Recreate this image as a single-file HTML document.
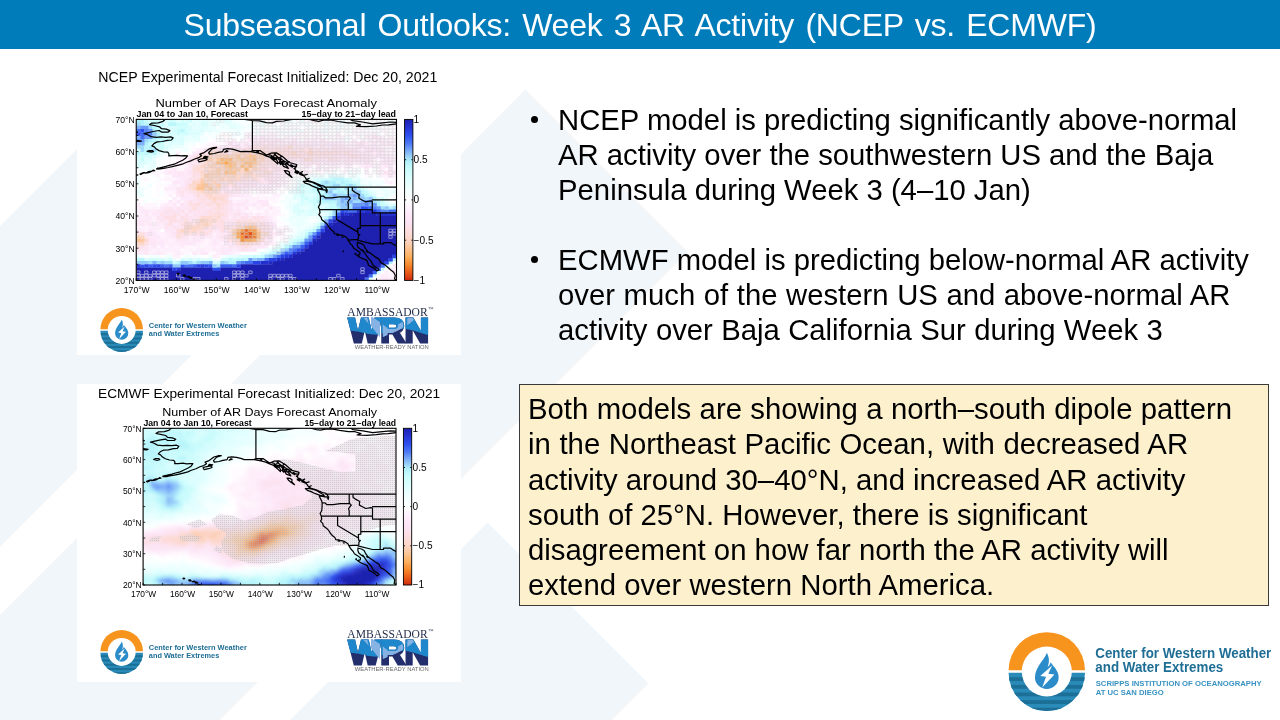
<!DOCTYPE html>
<html lang="en"><head><meta charset="utf-8"><title>Subseasonal Outlooks: Week 3 AR Activity</title>
<style>
html,body{margin:0;padding:0;}
body{width:1280px;height:720px;position:relative;overflow:hidden;background:#fff;font-family:"Liberation Sans",sans-serif;color:#000;}
.abs{position:absolute;}
#bg{position:absolute;left:0;top:0;width:1280px;height:720px;}
#hdr{position:absolute;left:0;top:0;width:1280px;height:48.8px;background:#017cbb;}
#title{position:absolute;left:0;top:0.8px;width:1280px;height:49px;line-height:49px;text-align:center;color:#fff;font-size:32px;white-space:nowrap;letter-spacing:-0.2px;word-spacing:2.55px;}
.panel{position:absolute;left:77px;width:384px;background:#fff;}
.ptitle{position:absolute;white-space:nowrap;font-size:14px;}
.bul,#boxtx,#title,.panel,#biglogo{will-change:transform;}
.bul{position:absolute;left:528px;font-size:29.25px;line-height:35.2px;white-space:nowrap;}
.bul .dot{position:absolute;left:2.6px;top:13.2px;width:7.2px;height:7.2px;border-radius:50%;background:#000;}
.bul .tx{position:absolute;left:30.1px;top:0;}
#box{position:absolute;left:519px;top:384px;width:748px;height:220px;background:#fdf0cd;border:1px solid #3a3a3a;box-sizing:content-box;}
#boxtx{position:absolute;left:7.7px;top:5.8px;font-size:29.34px;line-height:35.25px;white-space:nowrap;}
.cwtxt{position:absolute;white-space:nowrap;font-weight:bold;color:#1f6e95;}

</style></head>
<body>
<svg id="bg" viewBox="0 0 1280 720">
<g fill="#f1f6fa">
<!-- shape C: 226 < x+y < 547 , y-x > 72 -->
<polygon points="77,149 0,226 0,547 237.5,309.5"/>
<!-- shape A: 617 < x+y < 940, y-x > -435 -->
<polygon points="525.5,89.5 0,615 0,940 220,720 688,252"/>
<!-- shape B: x+y > 1010, y-x > 35 -->
<polygon points="487.5,522.5 290,720 612,720 648.5,683.5"/>
</g>
</svg>
<div id="hdr"></div>
<div id="title">Subseasonal Outlooks: Week 3 AR Activity (NCEP vs. ECMWF)</div>

<div class="panel" id="p1" style="top:57px;height:298px;">
<svg width="384" height="298" viewBox="77 57 384 298" style="position:absolute;left:0;top:0" font-family="Liberation Sans, sans-serif">
<defs><clipPath id="c1"><rect x="136.25" y="119.4" width="260.25" height="160.99999999999997"/></clipPath>
<linearGradient id="cb" x1="0" y1="0" x2="0" y2="1"><stop offset="0.000" stop-color="#1e20b0"/><stop offset="0.050" stop-color="#2634d4"/><stop offset="0.100" stop-color="#2e50ee"/><stop offset="0.150" stop-color="#4c78f3"/><stop offset="0.190" stop-color="#74a6f7"/><stop offset="0.225" stop-color="#96ccf9"/><stop offset="0.260" stop-color="#b0f0fb"/><stop offset="0.300" stop-color="#c6fbfc"/><stop offset="0.375" stop-color="#e0fefe"/><stop offset="0.450" stop-color="#f4ffff"/><stop offset="0.500" stop-color="#ffffff"/><stop offset="0.550" stop-color="#fef3fc"/><stop offset="0.600" stop-color="#fde8f9"/><stop offset="0.650" stop-color="#fce2f0"/><stop offset="0.700" stop-color="#fcdcdc"/><stop offset="0.750" stop-color="#fcd4c4"/><stop offset="0.800" stop-color="#fcc494"/><stop offset="0.850" stop-color="#fcb060"/><stop offset="0.900" stop-color="#f68c30"/><stop offset="0.950" stop-color="#e85c18"/><stop offset="1.000" stop-color="#d02c0e"/></linearGradient></defs>
<g clip-path="url(#c1)">
<path fill="#b0f0fb" d="M136.2 119.4H144.6V122.9H136.2zM140.3 122.6H144.6V126.1H140.3zM148.3 122.6H152.6V126.1H148.3zM152.3 129.1H156.6V132.6H152.3zM156.3 132.3H160.6V135.8H156.3zM156.3 135.5H160.6V139H156.3zM148.3 138.7H152.6V142.2H148.3zM144.3 141.9H148.6V145.5H144.3zM148.3 145.2H152.6V148.7H148.3zM148.3 148.4H152.6V151.9H148.3zM320.4 180.6H324.7V184.1H320.4zM328.4 180.6H336.7V184.1H328.4zM340.4 180.6H344.8V184.1H340.4zM324.4 183.8H332.7V187.3H324.4zM344.5 183.8H348.8V187.3H344.5zM352.5 183.8H356.8V187.3H352.5zM336.4 187H340.7V190.5H336.4zM348.5 187H352.8V190.5H348.5zM336.4 190.2H344.8V193.8H336.4zM320.4 193.5H328.7V197H320.4zM316.4 199.9H320.7V203.4H316.4zM376.5 199.9H380.8V203.4H376.5zM376.5 203.1H380.8V206.6H376.5zM336.4 206.3H340.7V209.9H336.4zM388.5 206.3H392.8V209.9H388.5zM316.4 225.7H320.7V229.2H316.4zM304.4 235.3H308.7V238.8H304.4zM292.4 241.8H296.7V245.3H292.4zM240.4 257.9H244.7V261.4H240.4zM392.5 257.9H396.8V261.4H392.5zM192.3 261.1H196.6V264.6H192.3zM228.3 261.1H236.6V264.6H228.3zM388.5 261.1H392.8V264.6H388.5z"/>
<path fill="#c6fbfc" d="M144.3 119.4H148.6V122.9H144.3zM160.3 122.6H164.6V126.1H160.3zM156.3 129.1H160.6V132.6H156.3zM176.3 129.1H180.6V132.6H176.3zM176.3 132.3H180.6V135.8H176.3zM156.3 138.7H160.6V142.2H156.3zM148.3 141.9H152.6V145.5H148.3zM156.3 141.9H160.6V145.5H156.3zM140.3 151.6H144.6V155.1H140.3zM148.3 151.6H152.6V155.1H148.3zM140.3 158H144.6V161.6H140.3zM328.4 177.4H332.7V180.9H328.4zM316.4 180.6H320.7V184.1H316.4zM336.4 180.6H340.7V184.1H336.4zM348.5 180.6H352.8V184.1H348.5zM340.4 187H344.8V190.5H340.4zM320.4 190.2H324.7V193.8H320.4zM364.5 190.2H368.8V193.8H364.5zM316.4 196.7H320.7V200.2H316.4zM328.4 203.1H336.7V206.6H328.4zM380.5 203.1H384.8V206.6H380.5zM328.4 206.3H336.7V209.9H328.4zM328.4 212.8H332.7V216.3H328.4zM304.4 232.1H308.7V235.6H304.4zM296.4 238.5H300.7V242.1H296.4zM268.4 251.4H272.7V254.9H268.4zM252.4 254.6H256.7V258.2H252.4zM260.4 254.6H264.7V258.2H260.4zM232.3 257.9H236.6V261.4H232.3z"/>
<path fill="#d4fdfd" d="M148.3 119.4H156.6V122.9H148.3zM172.3 119.4H176.6V122.9H172.3zM180.3 119.4H184.6V122.9H180.3zM156.3 122.6H160.6V126.1H156.3zM200.3 122.6H204.6V126.1H200.3zM160.3 125.8H164.6V129.4H160.3zM176.3 125.8H188.6V129.4H176.3zM164.3 129.1H168.6V132.6H164.3zM184.3 129.1H188.6V132.6H184.3zM164.3 132.3H176.6V135.8H164.3zM180.3 132.3H184.6V135.8H180.3zM160.3 135.5H168.6V139H160.3zM168.3 138.7H176.6V142.2H168.3zM136.2 148.4H140.6V151.9H136.2zM160.3 148.4H164.6V151.9H160.3zM136.2 154.8H140.6V158.3H136.2zM144.3 154.8H152.6V158.3H144.3zM136.2 161.3H140.6V164.8H136.2zM316.4 177.4H320.7V180.9H316.4zM324.4 177.4H328.7V180.9H324.4zM356.5 180.6H360.8V184.1H356.5zM304.4 183.8H308.7V187.3H304.4zM296.4 187H304.7V190.5H296.4zM308.4 187H312.7V190.5H308.4zM308.4 190.2H312.7V193.8H308.4zM300.4 196.7H304.7V200.2H300.4zM300.4 199.9H304.7V203.4H300.4zM316.4 203.1H324.7V206.6H316.4zM392.5 203.1H396.8V206.6H392.5zM312.4 206.3H320.7V209.9H312.4zM300.4 209.6H304.7V213.1H300.4zM308.4 209.6H312.7V213.1H308.4zM320.4 216H324.7V219.5H320.4zM320.4 219.2H324.7V222.7H320.4zM316.4 222.4H320.7V226H316.4zM312.4 225.7H316.7V229.2H312.4zM304.4 228.9H308.7V232.4H304.4zM296.4 235.3H304.7V238.8H296.4zM272.4 248.2H276.7V251.7H272.4zM244.4 254.6H252.7V258.2H244.4zM156.3 257.9H160.6V261.4H156.3zM208.3 257.9H212.6V261.4H208.3zM212.3 261.1H216.6V264.6H212.3zM376.5 270.7H380.8V274.3H376.5zM372.5 274H376.8V277.5H372.5z"/>
<path fill="#cdfcfd" d="M156.3 119.4H160.6V122.9H156.3zM168.3 119.4H172.6V122.9H168.3zM188.3 119.4H192.6V122.9H188.3zM176.3 122.6H188.6V126.1H176.3zM156.3 125.8H160.6V129.4H156.3zM160.3 129.1H164.6V132.6H160.3zM172.3 129.1H176.6V132.6H172.3zM160.3 132.3H164.6V135.8H160.3zM184.3 132.3H188.6V135.8H184.3zM168.3 135.5H172.6V139H168.3zM164.3 138.7H168.6V142.2H164.3zM152.3 141.9H156.6V145.5H152.3zM160.3 141.9H164.6V145.5H160.3zM152.3 145.2H164.6V148.7H152.3zM156.3 148.4H160.6V151.9H156.3zM140.3 154.8H144.6V158.3H140.3zM320.4 177.4H324.7V180.9H320.4zM344.5 177.4H352.8V180.9H344.5zM312.4 180.6H316.7V184.1H312.4zM352.5 180.6H356.8V184.1H352.5zM300.4 183.8H304.7V187.3H300.4zM308.4 183.8H312.7V187.3H308.4zM356.5 183.8H360.8V187.3H356.5zM360.5 187H364.8V190.5H360.5zM300.4 190.2H304.7V193.8H300.4zM312.4 190.2H316.7V193.8H312.4zM300.4 193.5H304.7V197H300.4zM316.4 193.5H320.7V197H316.4zM368.5 193.5H372.8V197H368.5zM304.4 196.7H308.7V200.2H304.4zM312.4 196.7H316.7V200.2H312.4zM308.4 199.9H316.7V203.4H308.4zM380.5 199.9H384.8V203.4H380.5zM312.4 203.1H316.7V206.6H312.4zM384.5 203.1H388.8V206.6H384.5zM324.4 206.3H328.7V209.9H324.4zM328.4 209.6H332.7V213.1H328.4zM308.4 228.9H312.7V232.4H308.4zM292.4 238.5H296.7V242.1H292.4zM288.4 241.8H292.7V245.3H288.4zM276.4 248.2H280.7V251.7H276.4zM256.4 254.6H260.7V258.2H256.4zM148.3 257.9H156.6V261.4H148.3zM160.3 257.9H164.6V261.4H160.3zM168.3 257.9H172.6V261.4H168.3zM180.3 257.9H184.6V261.4H180.3zM188.3 257.9H192.6V261.4H188.3zM196.3 257.9H200.6V261.4H196.3zM220.3 257.9H228.6V261.4H220.3zM172.3 261.1H176.6V264.6H172.3zM216.3 261.1H220.6V264.6H216.3zM384.5 264.3H388.8V267.8H384.5zM380.5 267.5H384.8V271H380.5z"/>
<path fill="#e1fefe" d="M160.3 119.4H164.6V122.9H160.3zM176.3 119.4H180.6V122.9H176.3zM200.3 119.4H208.6V122.9H200.3zM228.3 119.4H232.6V122.9H228.3zM216.3 122.6H220.6V126.1H216.3zM196.3 125.8H208.6V129.4H196.3zM232.3 125.8H236.6V129.4H232.3zM168.3 129.1H172.6V132.6H168.3zM192.3 129.1H200.6V132.6H192.3zM208.3 129.1H212.6V132.6H208.3zM176.3 135.5H180.6V139H176.3zM192.3 135.5H196.6V139H192.3zM172.3 141.9H180.6V145.5H172.3zM168.3 145.2H172.6V148.7H168.3zM164.3 148.4H168.6V151.9H164.3zM152.3 154.8H156.6V158.3H152.3zM144.3 158H148.6V161.6H144.3zM152.3 161.3H156.6V164.8H152.3zM140.3 164.5H144.6V168H140.3zM332.4 174.1H336.7V177.7H332.4zM308.4 180.6H312.7V184.1H308.4zM360.5 183.8H364.8V187.3H360.5zM368.5 183.8H372.8V187.3H368.5zM364.5 187H368.8V190.5H364.5zM136.2 190.2H140.6V193.8H136.2zM292.4 193.5H296.7V197H292.4zM308.4 193.5H312.7V197H308.4zM292.4 196.7H296.7V200.2H292.4zM376.5 196.7H380.8V200.2H376.5zM384.5 199.9H388.8V203.4H384.5zM292.4 203.1H296.7V206.6H292.4zM304.4 203.1H312.7V206.6H304.4zM388.5 203.1H392.8V206.6H388.5zM308.4 206.3H312.7V209.9H308.4zM320.4 206.3H324.7V209.9H320.4zM304.4 209.6H308.7V213.1H304.4zM316.4 209.6H320.7V213.1H316.4zM304.4 212.8H308.7V216.3H304.4zM312.4 212.8H320.7V216.3H312.4zM324.4 212.8H328.7V216.3H324.4zM284.4 241.8H288.7V245.3H284.4zM276.4 245H284.7V248.5H276.4zM264.4 251.4H268.7V254.9H264.4zM236.3 254.6H240.7V258.2H236.3zM164.3 257.9H168.6V261.4H164.3z"/>
<path fill="#dbfdfe" d="M164.3 119.4H168.6V122.9H164.3zM184.3 119.4H188.6V122.9H184.3zM224.3 119.4H228.6V122.9H224.3zM164.3 122.6H168.6V126.1H164.3zM192.3 122.6H196.6V126.1H192.3zM204.3 122.6H208.6V126.1H204.3zM164.3 125.8H176.6V129.4H164.3zM188.3 125.8H192.6V129.4H188.3zM188.3 129.1H192.6V132.6H188.3zM200.3 129.1H204.6V132.6H200.3zM188.3 132.3H200.6V135.8H188.3zM172.3 135.5H176.6V139H172.3zM180.3 135.5H184.6V139H180.3zM176.3 138.7H184.6V142.2H176.3zM168.3 141.9H172.6V145.5H168.3zM180.3 141.9H184.6V145.5H180.3zM164.3 145.2H168.6V148.7H164.3zM156.3 151.6H160.6V155.1H156.3zM136.2 158H140.6V161.6H136.2zM148.3 158H152.6V161.6H148.3zM140.3 161.3H148.6V164.8H140.3zM136.2 164.5H140.6V168H136.2zM328.4 174.1H332.7V177.7H328.4zM312.4 177.4H316.7V180.9H312.4zM356.5 177.4H360.8V180.9H356.5zM304.4 187H308.7V190.5H304.4zM296.4 190.2H300.7V193.8H296.4zM304.4 190.2H308.7V193.8H304.4zM368.5 190.2H372.8V193.8H368.5zM296.4 193.5H300.7V197H296.4zM304.4 193.5H308.7V197H304.4zM312.4 193.5H316.7V197H312.4zM372.5 193.5H376.8V197H372.5zM308.4 196.7H312.7V200.2H308.4zM380.5 196.7H384.8V200.2H380.5zM304.4 199.9H308.7V203.4H304.4zM296.4 203.1H304.7V206.6H296.4zM324.4 203.1H328.7V206.6H324.4zM292.4 206.3H300.7V209.9H292.4zM292.4 209.6H300.7V213.1H292.4zM312.4 209.6H316.7V213.1H312.4zM320.4 209.6H328.7V213.1H320.4zM296.4 212.8H300.7V216.3H296.4zM308.4 212.8H312.7V216.3H308.4zM300.4 232.1H304.7V235.6H300.4zM288.4 238.5H292.7V242.1H288.4zM260.4 251.4H264.7V254.9H260.4zM240.4 254.6H244.7V258.2H240.4zM144.3 257.9H148.6V261.4H144.3zM184.3 257.9H188.6V261.4H184.3zM192.3 257.9H196.6V261.4H192.3zM200.3 257.9H208.6V261.4H200.3zM368.5 277.2H372.8V280.7H368.5z"/>
<path fill="#e7fefe" d="M192.3 119.4H200.6V122.9H192.3zM208.3 119.4H212.6V122.9H208.3zM188.3 122.6H192.6V126.1H188.3zM196.3 122.6H200.6V126.1H196.3zM208.3 122.6H212.6V126.1H208.3zM224.3 122.6H236.6V126.1H224.3zM192.3 125.8H196.6V129.4H192.3zM212.3 125.8H216.6V129.4H212.3zM228.3 125.8H232.6V129.4H228.3zM204.3 129.1H208.6V132.6H204.3zM200.3 132.3H204.6V135.8H200.3zM184.3 135.5H192.6V139H184.3zM196.3 135.5H200.6V139H196.3zM184.3 138.7H188.6V142.2H184.3zM196.3 138.7H200.6V142.2H196.3zM164.3 141.9H168.6V145.5H164.3zM172.3 145.2H180.6V148.7H172.3zM160.3 151.6H164.6V155.1H160.3zM152.3 158H156.6V161.6H152.3zM148.3 161.3H152.6V164.8H148.3zM148.3 164.5H156.6V168H148.3zM148.3 167.7H152.6V171.2H148.3zM336.4 174.1H340.7V177.7H336.4zM308.4 177.4H312.7V180.9H308.4zM352.5 177.4H356.8V180.9H352.5zM136.2 180.6H140.6V184.1H136.2zM296.4 180.6H300.7V184.1H296.4zM304.4 180.6H308.7V184.1H304.4zM296.4 183.8H300.7V187.3H296.4zM288.4 190.2H296.7V193.8H288.4zM372.5 190.2H376.8V193.8H372.5zM392.5 190.2H396.8V193.8H392.5zM384.5 193.5H388.8V197H384.5zM296.4 196.7H300.7V200.2H296.4zM296.4 199.9H300.7V203.4H296.4zM300.4 206.3H308.7V209.9H300.4zM300.4 212.8H304.7V216.3H300.4zM296.4 219.2H300.7V222.7H296.4zM312.4 222.4H316.7V226H312.4zM308.4 225.7H312.7V229.2H308.4zM300.4 228.9H304.7V232.4H300.4zM296.4 232.1H300.7V235.6H296.4zM292.4 235.3H296.7V238.8H292.4zM280.4 241.8H284.7V245.3H280.4zM268.4 248.2H272.7V251.7H268.4zM228.3 254.6H236.6V258.2H228.3z"/>
<path fill="#ecffff" d="M212.3 119.4H224.6V122.9H212.3zM300.4 119.4H304.7V122.9H300.4zM220.3 122.6H224.6V126.1H220.3zM236.3 122.6H240.7V126.1H236.3zM260.4 122.6H264.7V126.1H260.4zM208.3 125.8H212.6V129.4H208.3zM220.3 125.8H224.6V129.4H220.3zM236.3 125.8H244.7V129.4H236.3zM212.3 129.1H220.6V132.6H212.3zM236.3 129.1H240.7V132.6H236.3zM236.3 132.3H240.7V135.8H236.3zM188.3 138.7H196.6V142.2H188.3zM180.3 145.2H184.6V148.7H180.3zM168.3 148.4H172.6V151.9H168.3zM184.3 148.4H188.6V151.9H184.3zM164.3 151.6H168.6V155.1H164.3zM156.3 154.8H160.6V158.3H156.3zM312.4 174.1H316.7V177.7H312.4zM320.4 174.1H324.7V177.7H320.4zM340.4 174.1H344.8V177.7H340.4zM304.4 177.4H308.7V180.9H304.4zM300.4 180.6H304.7V184.1H300.4zM368.5 180.6H372.8V184.1H368.5zM364.5 183.8H368.8V187.3H364.5zM376.5 183.8H380.8V187.3H376.5zM292.4 187H296.7V190.5H292.4zM368.5 187H372.8V190.5H368.5zM380.5 187H388.8V190.5H380.5zM384.5 190.2H392.8V193.8H384.5zM136.2 193.5H144.6V197H136.2zM384.5 196.7H388.8V200.2H384.5zM288.4 199.9H292.7V203.4H288.4zM288.4 203.1H292.7V206.6H288.4zM288.4 206.3H292.7V209.9H288.4zM288.4 209.6H292.7V213.1H288.4zM292.4 212.8H296.7V216.3H292.4zM320.4 212.8H324.7V216.3H320.4zM288.4 216H308.7V219.5H288.4zM316.4 216H320.7V219.5H316.4zM288.4 219.2H292.7V222.7H288.4zM300.4 219.2H304.7V222.7H300.4zM316.4 219.2H320.7V222.7H316.4zM292.4 222.4H304.7V226H292.4zM296.4 225.7H300.7V229.2H296.4zM304.4 225.7H308.7V229.2H304.4zM296.4 228.9H300.7V232.4H296.4zM136.2 254.6H140.6V258.2H136.2zM168.3 254.6H172.6V258.2H168.3zM184.3 254.6H188.6V258.2H184.3zM224.3 254.6H228.6V258.2H224.3zM172.3 257.9H176.6V261.4H172.3z"/>
<path fill="#f1ffff" d="M232.3 119.4H236.6V122.9H232.3zM244.4 119.4H248.7V122.9H244.4zM260.4 119.4H264.7V122.9H260.4zM288.4 119.4H292.7V122.9H288.4zM324.4 119.4H328.7V122.9H324.4zM336.4 119.4H344.8V122.9H336.4zM212.3 122.6H216.6V126.1H212.3zM248.4 122.6H252.7V126.1H248.4zM324.4 122.6H328.7V126.1H324.4zM372.5 122.6H376.8V126.1H372.5zM224.3 125.8H228.6V129.4H224.3zM248.4 125.8H252.7V129.4H248.4zM260.4 125.8H264.7V129.4H260.4zM272.4 125.8H276.7V129.4H272.4zM228.3 129.1H236.6V132.6H228.3zM292.4 129.1H296.7V132.6H292.4zM320.4 129.1H324.7V132.6H320.4zM344.5 129.1H348.8V132.6H344.5zM208.3 132.3H212.6V135.8H208.3zM232.3 132.3H236.6V135.8H232.3zM200.3 138.7H204.6V142.2H200.3zM184.3 141.9H188.6V145.5H184.3zM192.3 141.9H196.6V145.5H192.3zM180.3 148.4H184.6V151.9H180.3zM160.3 154.8H164.6V158.3H160.3zM168.3 154.8H172.6V158.3H168.3zM144.3 164.5H148.6V168H144.3zM136.2 167.7H140.6V171.2H136.2zM144.3 167.7H148.6V171.2H144.3zM148.3 170.9H152.6V174.4H148.3zM332.4 170.9H336.7V174.4H332.4zM348.5 170.9H352.8V174.4H348.5zM316.4 174.1H320.7V177.7H316.4zM324.4 174.1H328.7V177.7H324.4zM348.5 174.1H360.8V177.7H348.5zM136.2 177.4H140.6V180.9H136.2zM296.4 177.4H304.7V180.9H296.4zM360.5 177.4H364.8V180.9H360.5zM360.5 180.6H368.8V184.1H360.5zM372.5 180.6H376.8V184.1H372.5zM380.5 180.6H384.8V184.1H380.5zM148.3 183.8H152.6V187.3H148.3zM136.2 187H144.6V190.5H136.2zM372.5 187H376.8V190.5H372.5zM392.5 187H396.8V190.5H392.5zM140.3 190.2H144.6V193.8H140.3zM376.5 190.2H384.8V193.8H376.5zM288.4 193.5H292.7V197H288.4zM380.5 193.5H384.8V197H380.5zM388.5 193.5H392.8V197H388.5zM284.4 196.7H292.7V200.2H284.4zM392.5 196.7H396.8V200.2H392.5zM280.4 199.9H284.7V203.4H280.4zM292.4 199.9H296.7V203.4H292.4zM388.5 199.9H392.8V203.4H388.5zM284.4 206.3H288.7V209.9H284.4zM288.4 212.8H292.7V216.3H288.4zM308.4 216H316.7V219.5H308.4zM292.4 219.2H296.7V222.7H292.4zM304.4 219.2H308.7V222.7H304.4zM304.4 222.4H312.7V226H304.4zM300.4 225.7H304.7V229.2H300.4zM292.4 232.1H296.7V235.6H292.4zM288.4 235.3H292.7V238.8H288.4zM272.4 245H276.7V248.5H272.4zM264.4 248.2H268.7V251.7H264.4zM256.4 251.4H260.7V254.9H256.4zM148.3 254.6H160.6V258.2H148.3zM164.3 254.6H168.6V258.2H164.3zM208.3 254.6H212.6V258.2H208.3zM212.3 257.9H216.6V261.4H212.3z"/>
<path fill="#f6ffff" d="M236.3 119.4H240.7V122.9H236.3zM252.4 119.4H260.7V122.9H252.4zM284.4 119.4H288.7V122.9H284.4zM292.4 119.4H296.7V122.9H292.4zM344.5 119.4H348.8V122.9H344.5zM352.5 119.4H356.8V122.9H352.5zM388.5 119.4H392.8V122.9H388.5zM240.4 122.6H244.7V126.1H240.4zM256.4 122.6H260.7V126.1H256.4zM264.4 122.6H268.7V126.1H264.4zM284.4 122.6H292.7V126.1H284.4zM296.4 122.6H300.7V126.1H296.4zM304.4 122.6H312.7V126.1H304.4zM320.4 122.6H324.7V126.1H320.4zM336.4 122.6H344.8V126.1H336.4zM348.5 122.6H356.8V126.1H348.5zM384.5 122.6H388.8V126.1H384.5zM216.3 125.8H220.6V129.4H216.3zM244.4 125.8H248.7V129.4H244.4zM252.4 125.8H256.7V129.4H252.4zM284.4 125.8H288.7V129.4H284.4zM324.4 125.8H332.7V129.4H324.4zM336.4 125.8H344.8V129.4H336.4zM368.5 125.8H372.8V129.4H368.5zM220.3 129.1H228.6V132.6H220.3zM240.4 129.1H244.7V132.6H240.4zM256.4 129.1H260.7V132.6H256.4zM264.4 129.1H268.7V132.6H264.4zM276.4 129.1H284.7V132.6H276.4zM288.4 129.1H292.7V132.6H288.4zM296.4 129.1H304.7V132.6H296.4zM324.4 129.1H328.7V132.6H324.4zM336.4 129.1H340.7V132.6H336.4zM212.3 132.3H220.6V135.8H212.3zM240.4 132.3H244.7V135.8H240.4zM256.4 132.3H260.7V135.8H256.4zM376.5 132.3H380.8V135.8H376.5zM200.3 135.5H208.6V139H200.3zM212.3 135.5H216.6V139H212.3zM232.3 135.5H236.6V139H232.3zM240.4 135.5H244.7V139H240.4zM344.5 135.5H348.8V139H344.5zM204.3 138.7H208.6V142.2H204.3zM188.3 141.9H192.6V145.5H188.3zM200.3 141.9H204.6V145.5H200.3zM184.3 145.2H188.6V148.7H184.3zM172.3 148.4H176.6V151.9H172.3zM168.3 151.6H176.6V155.1H168.3zM140.3 167.7H144.6V171.2H140.3zM152.3 167.7H156.6V171.2H152.3zM356.5 170.9H360.8V174.4H356.5zM136.2 174.1H140.6V177.7H136.2zM152.3 174.1H156.6V177.7H152.3zM308.4 174.1H312.7V177.7H308.4zM344.5 174.1H348.8V177.7H344.5zM376.5 174.1H380.8V177.7H376.5zM156.3 177.4H160.6V180.9H156.3zM292.4 177.4H296.7V180.9H292.4zM364.5 177.4H372.8V180.9H364.5zM376.5 180.6H380.8V184.1H376.5zM136.2 183.8H140.6V187.3H136.2zM292.4 183.8H296.7V187.3H292.4zM372.5 183.8H376.8V187.3H372.5zM380.5 183.8H384.8V187.3H380.5zM144.3 187H148.6V190.5H144.3zM376.5 187H380.8V190.5H376.5zM388.5 187H392.8V190.5H388.5zM148.3 190.2H152.6V193.8H148.3zM160.3 190.2H164.6V193.8H160.3zM280.4 193.5H288.7V197H280.4zM376.5 193.5H380.8V197H376.5zM144.3 199.9H148.6V203.4H144.3zM284.4 199.9H288.7V203.4H284.4zM284.4 203.1H288.7V206.6H284.4zM280.4 216H284.7V219.5H280.4zM284.4 219.2H288.7V222.7H284.4zM288.4 222.4H292.7V226H288.4zM288.4 225.7H296.7V229.2H288.4zM292.4 228.9H296.7V232.4H292.4zM288.4 232.1H292.7V235.6H288.4zM276.4 241.8H280.7V245.3H276.4zM240.4 251.4H244.7V254.9H240.4zM248.4 251.4H252.7V254.9H248.4zM140.3 254.6H144.6V258.2H140.3zM188.3 254.6H200.6V258.2H188.3zM220.3 254.6H224.6V258.2H220.3zM176.3 257.9H180.6V261.4H176.3zM216.3 257.9H220.6V261.4H216.3zM392.5 261.1H396.8V264.6H392.5z"/>
<path fill="#fbffff" d="M240.4 119.4H244.7V122.9H240.4zM264.4 119.4H268.7V122.9H264.4zM280.4 119.4H284.7V122.9H280.4zM320.4 119.4H324.7V122.9H320.4zM328.4 119.4H336.7V122.9H328.4zM368.5 119.4H372.8V122.9H368.5zM376.5 119.4H380.8V122.9H376.5zM392.5 119.4H396.8V122.9H392.5zM244.4 122.6H248.7V126.1H244.4zM252.4 122.6H256.7V126.1H252.4zM268.4 122.6H280.7V126.1H268.4zM292.4 122.6H296.7V126.1H292.4zM300.4 122.6H304.7V126.1H300.4zM312.4 122.6H316.7V126.1H312.4zM328.4 122.6H336.7V126.1H328.4zM344.5 122.6H348.8V126.1H344.5zM364.5 122.6H368.8V126.1H364.5zM376.5 122.6H380.8V126.1H376.5zM388.5 122.6H392.8V126.1H388.5zM256.4 125.8H260.7V129.4H256.4zM264.4 125.8H268.7V129.4H264.4zM276.4 125.8H280.7V129.4H276.4zM296.4 125.8H316.7V129.4H296.4zM332.4 125.8H336.7V129.4H332.4zM344.5 125.8H352.8V129.4H344.5zM364.5 125.8H368.8V129.4H364.5zM372.5 125.8H380.8V129.4H372.5zM244.4 129.1H256.7V132.6H244.4zM284.4 129.1H288.7V132.6H284.4zM308.4 129.1H312.7V132.6H308.4zM328.4 129.1H336.7V132.6H328.4zM348.5 129.1H352.8V132.6H348.5zM372.5 129.1H380.8V132.6H372.5zM388.5 129.1H396.8V132.6H388.5zM204.3 132.3H208.6V135.8H204.3zM224.3 132.3H232.6V135.8H224.3zM280.4 132.3H296.7V135.8H280.4zM324.4 132.3H328.7V135.8H324.4zM360.5 132.3H364.8V135.8H360.5zM208.3 135.5H212.6V139H208.3zM220.3 135.5H224.6V139H220.3zM236.3 135.5H240.7V139H236.3zM324.4 135.5H328.7V139H324.4zM360.5 135.5H364.8V139H360.5zM216.3 138.7H220.6V142.2H216.3zM344.5 138.7H348.8V142.2H344.5zM188.3 145.2H192.6V148.7H188.3zM176.3 148.4H180.6V151.9H176.3zM188.3 148.4H192.6V151.9H188.3zM156.3 158H168.6V161.6H156.3zM156.3 161.3H164.6V164.8H156.3zM156.3 164.5H164.6V168H156.3zM352.5 167.7H360.8V171.2H352.5zM136.2 170.9H144.6V174.4H136.2zM324.4 170.9H328.7V174.4H324.4zM336.4 170.9H340.7V174.4H336.4zM352.5 170.9H356.8V174.4H352.5zM360.5 170.9H364.8V174.4H360.5zM372.5 170.9H376.8V174.4H372.5zM144.3 174.1H148.6V177.7H144.3zM296.4 174.1H300.7V177.7H296.4zM304.4 174.1H308.7V177.7H304.4zM360.5 174.1H364.8V177.7H360.5zM368.5 174.1H372.8V177.7H368.5zM148.3 177.4H152.6V180.9H148.3zM372.5 177.4H384.8V180.9H372.5zM148.3 180.6H156.6V184.1H148.3zM160.3 180.6H164.6V184.1H160.3zM140.3 183.8H148.6V187.3H140.3zM384.5 183.8H388.8V187.3H384.5zM148.3 187H152.6V190.5H148.3zM284.4 187H292.7V190.5H284.4zM156.3 190.2H160.6V193.8H156.3zM144.3 193.5H152.6V197H144.3zM160.3 193.5H164.6V197H160.3zM392.5 193.5H396.8V197H392.5zM140.3 196.7H160.6V200.2H140.3zM168.3 196.7H172.6V200.2H168.3zM388.5 196.7H392.8V200.2H388.5zM152.3 199.9H156.6V203.4H152.3zM140.3 203.1H144.6V206.6H140.3zM156.3 203.1H160.6V206.6H156.3zM280.4 203.1H284.7V206.6H280.4zM280.4 209.6H284.7V213.1H280.4zM284.4 212.8H288.7V216.3H284.4zM284.4 216H288.7V219.5H284.4zM280.4 219.2H284.7V222.7H280.4zM308.4 219.2H316.7V222.7H308.4zM284.4 222.4H288.7V226H284.4zM288.4 228.9H292.7V232.4H288.4zM284.4 235.3H288.7V238.8H284.4zM276.4 238.5H280.7V242.1H276.4zM284.4 238.5H288.7V242.1H284.4zM268.4 245H272.7V248.5H268.4zM252.4 251.4H256.7V254.9H252.4zM144.3 254.6H148.6V258.2H144.3zM180.3 254.6H184.6V258.2H180.3zM200.3 254.6H204.6V258.2H200.3zM388.5 264.3H392.8V267.8H388.5zM384.5 267.5H388.8V271H384.5z"/>
<path fill="#ffffff" d="M248.4 119.4H252.7V122.9H248.4zM296.4 119.4H300.7V122.9H296.4zM304.4 119.4H308.7V122.9H304.4zM316.4 119.4H320.7V122.9H316.4zM348.5 119.4H352.8V122.9H348.5zM360.5 119.4H368.8V122.9H360.5zM372.5 119.4H376.8V122.9H372.5zM384.5 119.4H388.8V122.9H384.5zM316.4 122.6H320.7V126.1H316.4zM356.5 122.6H364.8V126.1H356.5zM368.5 122.6H372.8V126.1H368.5zM380.5 122.6H384.8V126.1H380.5zM268.4 125.8H272.7V129.4H268.4zM280.4 125.8H284.7V129.4H280.4zM292.4 125.8H296.7V129.4H292.4zM316.4 125.8H324.7V129.4H316.4zM380.5 125.8H392.8V129.4H380.5zM268.4 129.1H276.7V132.6H268.4zM340.4 129.1H344.8V132.6H340.4zM356.5 129.1H360.8V132.6H356.5zM364.5 129.1H372.8V132.6H364.5zM220.3 132.3H224.6V135.8H220.3zM252.4 132.3H256.7V135.8H252.4zM276.4 132.3H280.7V135.8H276.4zM308.4 132.3H312.7V135.8H308.4zM328.4 132.3H336.7V135.8H328.4zM340.4 132.3H352.8V135.8H340.4zM380.5 132.3H384.8V135.8H380.5zM388.5 132.3H392.8V135.8H388.5zM216.3 135.5H220.6V139H216.3zM228.3 135.5H232.6V139H228.3zM280.4 135.5H284.7V139H280.4zM208.3 138.7H212.6V142.2H208.3zM220.3 138.7H224.6V142.2H220.3zM236.3 138.7H240.7V142.2H236.3zM348.5 138.7H352.8V142.2H348.5zM196.3 141.9H200.6V145.5H196.3zM196.3 145.2H200.6V148.7H196.3zM180.3 151.6H192.6V155.1H180.3zM172.3 154.8H176.6V158.3H172.3zM172.3 158H176.6V161.6H172.3zM168.3 161.3H172.6V164.8H168.3zM156.3 167.7H160.6V171.2H156.3zM296.4 167.7H300.7V171.2H296.4zM336.4 167.7H340.7V171.2H336.4zM348.5 167.7H352.8V171.2H348.5zM360.5 167.7H364.8V171.2H360.5zM368.5 167.7H376.8V171.2H368.5zM144.3 170.9H148.6V174.4H144.3zM312.4 170.9H320.7V174.4H312.4zM328.4 170.9H332.7V174.4H328.4zM340.4 170.9H348.8V174.4H340.4zM148.3 174.1H152.6V177.7H148.3zM160.3 174.1H164.6V177.7H160.3zM292.4 174.1H296.7V177.7H292.4zM372.5 174.1H376.8V177.7H372.5zM140.3 177.4H144.6V180.9H140.3zM152.3 177.4H156.6V180.9H152.3zM388.5 177.4H392.8V180.9H388.5zM140.3 180.6H148.6V184.1H140.3zM288.4 180.6H296.7V184.1H288.4zM152.3 183.8H156.6V187.3H152.3zM288.4 183.8H292.7V187.3H288.4zM392.5 183.8H396.8V187.3H392.5zM152.3 187H156.6V190.5H152.3zM160.3 187H164.6V190.5H160.3zM144.3 190.2H148.6V193.8H144.3zM152.3 190.2H156.6V193.8H152.3zM252.4 190.2H256.7V193.8H252.4zM276.4 190.2H288.7V193.8H276.4zM152.3 193.5H156.6V197H152.3zM136.2 196.7H140.6V200.2H136.2zM160.3 196.7H164.6V200.2H160.3zM280.4 196.7H284.7V200.2H280.4zM148.3 199.9H152.6V203.4H148.3zM392.5 199.9H396.8V203.4H392.5zM272.4 203.1H280.7V206.6H272.4zM280.4 206.3H284.7V209.9H280.4zM284.4 209.6H288.7V213.1H284.4zM276.4 216H280.7V219.5H276.4zM276.4 222.4H280.7V226H276.4zM160.3 228.9H164.6V232.4H160.3zM280.4 238.5H284.7V242.1H280.4zM260.4 248.2H264.7V251.7H260.4zM204.3 254.6H208.6V258.2H204.3zM372.5 277.2H376.8V280.7H372.5z"/>
<path fill="#fffafe" d="M268.4 119.4H276.7V122.9H268.4zM308.4 119.4H312.7V122.9H308.4zM356.5 119.4H360.8V122.9H356.5zM380.5 119.4H384.8V122.9H380.5zM280.4 122.6H284.7V126.1H280.4zM392.5 122.6H396.8V126.1H392.5zM288.4 125.8H292.7V129.4H288.4zM352.5 125.8H356.8V129.4H352.5zM392.5 125.8H396.8V129.4H392.5zM260.4 129.1H264.7V132.6H260.4zM304.4 129.1H308.7V132.6H304.4zM312.4 129.1H320.7V132.6H312.4zM352.5 129.1H356.8V132.6H352.5zM360.5 129.1H364.8V132.6H360.5zM380.5 129.1H388.8V132.6H380.5zM244.4 132.3H248.7V135.8H244.4zM260.4 132.3H268.7V135.8H260.4zM296.4 132.3H308.7V135.8H296.4zM312.4 132.3H324.7V135.8H312.4zM352.5 132.3H360.8V135.8H352.5zM364.5 132.3H372.8V135.8H364.5zM384.5 132.3H388.8V135.8H384.5zM392.5 132.3H396.8V135.8H392.5zM276.4 135.5H280.7V139H276.4zM300.4 135.5H304.7V139H300.4zM308.4 135.5H312.7V139H308.4zM320.4 135.5H324.7V139H320.4zM332.4 135.5H336.7V139H332.4zM348.5 135.5H356.8V139H348.5zM384.5 135.5H388.8V139H384.5zM392.5 135.5H396.8V139H392.5zM212.3 138.7H216.6V142.2H212.3zM224.3 138.7H232.6V142.2H224.3zM300.4 138.7H304.7V142.2H300.4zM328.4 138.7H332.7V142.2H328.4zM356.5 138.7H360.8V142.2H356.5zM364.5 138.7H368.8V142.2H364.5zM204.3 141.9H208.6V145.5H204.3zM216.3 141.9H224.6V145.5H216.3zM192.3 145.2H196.6V148.7H192.3zM200.3 145.2H204.6V148.7H200.3zM192.3 148.4H196.6V151.9H192.3zM164.3 154.8H168.6V158.3H164.3zM184.3 154.8H188.6V158.3H184.3zM168.3 158H172.6V161.6H168.3zM164.3 161.3H168.6V164.8H164.3zM164.3 164.5H168.6V168H164.3zM172.3 164.5H176.6V168H172.3zM296.4 164.5H300.7V168H296.4zM312.4 164.5H316.7V168H312.4zM324.4 164.5H328.7V168H324.4zM352.5 164.5H356.8V168H352.5zM160.3 167.7H164.6V171.2H160.3zM312.4 167.7H316.7V171.2H312.4zM320.4 167.7H324.7V171.2H320.4zM328.4 167.7H336.7V171.2H328.4zM340.4 167.7H348.8V171.2H340.4zM156.3 170.9H160.6V174.4H156.3zM308.4 170.9H312.7V174.4H308.4zM368.5 170.9H372.8V174.4H368.5zM140.3 174.1H144.6V177.7H140.3zM300.4 174.1H304.7V177.7H300.4zM364.5 174.1H368.8V177.7H364.5zM284.4 177.4H292.7V180.9H284.4zM392.5 177.4H396.8V180.9H392.5zM156.3 180.6H160.6V184.1H156.3zM164.3 180.6H172.6V184.1H164.3zM392.5 180.6H396.8V184.1H392.5zM156.3 183.8H168.6V187.3H156.3zM284.4 183.8H288.7V187.3H284.4zM388.5 183.8H392.8V187.3H388.5zM156.3 187H160.6V190.5H156.3zM272.4 187H284.7V190.5H272.4zM248.4 190.2H252.7V193.8H248.4zM256.4 190.2H260.7V193.8H256.4zM268.4 190.2H276.7V193.8H268.4zM156.3 193.5H160.6V197H156.3zM164.3 193.5H168.6V197H164.3zM172.3 193.5H176.6V197H172.3zM252.4 193.5H256.7V197H252.4zM264.4 193.5H272.7V197H264.4zM164.3 196.7H168.6V200.2H164.3zM276.4 196.7H280.7V200.2H276.4zM136.2 199.9H144.6V203.4H136.2zM156.3 199.9H168.6V203.4H156.3zM268.4 199.9H272.7V203.4H268.4zM276.4 199.9H280.7V203.4H276.4zM248.4 206.3H252.7V209.9H248.4zM252.4 209.6H256.7V213.1H252.4zM280.4 212.8H284.7V216.3H280.4zM276.4 219.2H280.7V222.7H276.4zM280.4 222.4H284.7V226H280.4zM284.4 225.7H288.7V229.2H284.4zM284.4 228.9H288.7V232.4H284.4zM284.4 232.1H288.7V235.6H284.4zM276.4 235.3H280.7V238.8H276.4zM180.3 248.2H184.6V251.7H180.3zM256.4 248.2H260.7V251.7H256.4zM188.3 251.4H192.6V254.9H188.3zM208.3 251.4H216.6V254.9H208.3zM244.4 251.4H248.7V254.9H244.4zM160.3 254.6H164.6V258.2H160.3zM380.5 270.7H384.8V274.3H380.5z"/>
<path fill="#fef1fb" d="M276.4 119.4H280.7V122.9H276.4zM336.4 132.3H340.7V135.8H336.4zM372.5 132.3H376.8V135.8H372.5zM256.4 135.5H260.7V139H256.4zM264.4 135.5H276.7V139H264.4zM304.4 135.5H308.7V139H304.4zM316.4 135.5H320.7V139H316.4zM336.4 135.5H340.7V139H336.4zM364.5 135.5H372.8V139H364.5zM380.5 135.5H384.8V139H380.5zM388.5 135.5H392.8V139H388.5zM232.3 138.7H236.6V142.2H232.3zM244.4 138.7H248.7V142.2H244.4zM284.4 138.7H292.7V142.2H284.4zM304.4 138.7H312.7V142.2H304.4zM340.4 138.7H344.8V142.2H340.4zM352.5 138.7H356.8V142.2H352.5zM360.5 138.7H364.8V142.2H360.5zM372.5 138.7H376.8V142.2H372.5zM384.5 138.7H396.8V142.2H384.5zM224.3 141.9H228.6V145.5H224.3zM348.5 141.9H352.8V145.5H348.5zM368.5 141.9H372.8V145.5H368.5zM392.5 141.9H396.8V145.5H392.5zM208.3 145.2H212.6V148.7H208.3zM380.5 145.2H384.8V148.7H380.5zM392.5 145.2H396.8V148.7H392.5zM196.3 148.4H200.6V151.9H196.3zM176.3 151.6H180.6V155.1H176.3zM384.5 151.6H388.8V155.1H384.5zM180.3 154.8H184.6V158.3H180.3zM392.5 154.8H396.8V158.3H392.5zM180.3 158H184.6V161.6H180.3zM372.5 158H376.8V161.6H372.5zM380.5 158H384.8V161.6H380.5zM352.5 161.3H356.8V164.8H352.5zM392.5 161.3H396.8V164.8H392.5zM168.3 164.5H172.6V168H168.3zM184.3 164.5H188.6V168H184.3zM308.4 164.5H312.7V168H308.4zM328.4 164.5H336.7V168H328.4zM340.4 164.5H352.8V168H340.4zM376.5 164.5H380.8V168H376.5zM168.3 167.7H172.6V171.2H168.3zM300.4 167.7H304.7V171.2H300.4zM324.4 167.7H328.7V171.2H324.4zM392.5 167.7H396.8V171.2H392.5zM296.4 170.9H300.7V174.4H296.4zM364.5 170.9H368.8V174.4H364.5zM380.5 174.1H388.8V177.7H380.5zM392.5 174.1H396.8V177.7H392.5zM164.3 177.4H172.6V180.9H164.3zM276.4 180.6H288.7V184.1H276.4zM388.5 180.6H392.8V184.1H388.5zM168.3 183.8H172.6V187.3H168.3zM176.3 183.8H180.6V187.3H176.3zM272.4 183.8H276.7V187.3H272.4zM252.4 187H256.7V190.5H252.4zM260.4 187H264.7V190.5H260.4zM172.3 190.2H176.6V193.8H172.3zM260.4 190.2H268.7V193.8H260.4zM168.3 193.5H172.6V197H168.3zM248.4 193.5H252.7V197H248.4zM272.4 193.5H280.7V197H272.4zM240.4 196.7H244.7V200.2H240.4zM248.4 196.7H260.7V200.2H248.4zM264.4 196.7H268.7V200.2H264.4zM172.3 199.9H176.6V203.4H172.3zM180.3 199.9H184.6V203.4H180.3zM232.3 199.9H236.6V203.4H232.3zM248.4 199.9H256.7V203.4H248.4zM160.3 203.1H164.6V206.6H160.3zM168.3 203.1H172.6V206.6H168.3zM256.4 203.1H260.7V206.6H256.4zM152.3 206.3H156.6V209.9H152.3zM240.4 206.3H244.7V209.9H240.4zM252.4 206.3H256.7V209.9H252.4zM260.4 206.3H264.7V209.9H260.4zM272.4 206.3H276.7V209.9H272.4zM136.2 209.6H140.6V213.1H136.2zM248.4 209.6H252.7V213.1H248.4zM272.4 209.6H280.7V213.1H272.4zM136.2 212.8H140.6V216.3H136.2zM148.3 212.8H152.6V216.3H148.3zM252.4 212.8H256.7V216.3H252.4zM260.4 212.8H264.7V216.3H260.4zM268.4 212.8H276.7V216.3H268.4zM152.3 216H156.6V219.5H152.3zM152.3 219.2H156.6V222.7H152.3zM272.4 219.2H276.7V222.7H272.4zM136.2 225.7H148.6V229.2H136.2zM272.4 225.7H276.7V229.2H272.4zM144.3 228.9H148.6V232.4H144.3zM156.3 228.9H160.6V232.4H156.3zM272.4 228.9H280.7V232.4H272.4zM156.3 232.1H164.6V235.6H156.3zM212.3 232.1H216.6V235.6H212.3zM280.4 232.1H284.7V235.6H280.4zM160.3 235.3H164.6V238.8H160.3zM272.4 235.3H276.7V238.8H272.4zM168.3 238.5H172.6V242.1H168.3zM208.3 238.5H212.6V242.1H208.3zM196.3 241.8H204.6V245.3H196.3zM220.3 241.8H224.6V245.3H220.3zM272.4 241.8H276.7V245.3H272.4zM172.3 245H180.6V248.5H172.3zM196.3 245H200.6V248.5H196.3zM204.3 245H212.6V248.5H204.3zM216.3 245H220.6V248.5H216.3zM152.3 248.2H156.6V251.7H152.3zM160.3 248.2H164.6V251.7H160.3zM168.3 248.2H172.6V251.7H168.3zM176.3 248.2H180.6V251.7H176.3zM188.3 248.2H192.6V251.7H188.3zM204.3 248.2H212.6V251.7H204.3zM148.3 251.4H152.6V254.9H148.3zM164.3 251.4H168.6V254.9H164.3zM172.3 251.4H176.6V254.9H172.3zM180.3 251.4H184.6V254.9H180.3zM196.3 251.4H200.6V254.9H196.3zM232.3 251.4H236.6V254.9H232.3zM172.3 254.6H180.6V258.2H172.3zM216.3 254.6H220.6V258.2H216.3zM388.5 267.5H396.8V271H388.5zM384.5 270.7H388.8V274.3H384.5zM384.5 274H388.8V277.5H384.5zM392.5 274H396.8V277.5H392.5zM376.5 277.2H380.8V280.7H376.5z"/>
<path fill="#fef5fd" d="M312.4 119.4H316.7V122.9H312.4zM356.5 125.8H364.8V129.4H356.5zM248.4 132.3H252.7V135.8H248.4zM268.4 132.3H276.7V135.8H268.4zM224.3 135.5H228.6V139H224.3zM244.4 135.5H252.7V139H244.4zM284.4 135.5H300.7V139H284.4zM312.4 135.5H316.7V139H312.4zM328.4 135.5H332.7V139H328.4zM340.4 135.5H344.8V139H340.4zM356.5 135.5H360.8V139H356.5zM240.4 138.7H244.7V142.2H240.4zM296.4 138.7H300.7V142.2H296.4zM316.4 138.7H320.7V142.2H316.4zM324.4 138.7H328.7V142.2H324.4zM332.4 138.7H340.7V142.2H332.4zM208.3 141.9H216.6V145.5H208.3zM344.5 141.9H348.8V145.5H344.5zM376.5 141.9H380.8V145.5H376.5zM204.3 145.2H208.6V148.7H204.3zM384.5 145.2H392.8V148.7H384.5zM384.5 148.4H392.8V151.9H384.5zM388.5 151.6H396.8V155.1H388.5zM176.3 154.8H180.6V158.3H176.3zM176.3 158H180.6V161.6H176.3zM184.3 158H188.6V161.6H184.3zM376.5 158H380.8V161.6H376.5zM172.3 161.3H176.6V164.8H172.3zM372.5 161.3H380.8V164.8H372.5zM176.3 164.5H184.6V168H176.3zM300.4 164.5H304.7V168H300.4zM320.4 164.5H324.7V168H320.4zM336.4 164.5H340.7V168H336.4zM356.5 164.5H360.8V168H356.5zM372.5 164.5H376.8V168H372.5zM392.5 164.5H396.8V168H392.5zM176.3 167.7H184.6V171.2H176.3zM304.4 167.7H312.7V171.2H304.4zM364.5 167.7H368.8V171.2H364.5zM376.5 167.7H380.8V171.2H376.5zM384.5 167.7H388.8V171.2H384.5zM152.3 170.9H156.6V174.4H152.3zM160.3 170.9H164.6V174.4H160.3zM292.4 170.9H296.7V174.4H292.4zM300.4 170.9H304.7V174.4H300.4zM320.4 170.9H324.7V174.4H320.4zM376.5 170.9H384.8V174.4H376.5zM156.3 174.1H160.6V177.7H156.3zM164.3 174.1H172.6V177.7H164.3zM288.4 174.1H292.7V177.7H288.4zM144.3 177.4H148.6V180.9H144.3zM160.3 177.4H164.6V180.9H160.3zM172.3 177.4H176.6V180.9H172.3zM384.5 177.4H388.8V180.9H384.5zM384.5 180.6H388.8V184.1H384.5zM280.4 183.8H284.7V187.3H280.4zM164.3 190.2H172.6V193.8H164.3zM240.4 190.2H244.7V193.8H240.4zM256.4 193.5H264.7V197H256.4zM176.3 196.7H180.6V200.2H176.3zM232.3 196.7H240.7V200.2H232.3zM260.4 196.7H264.7V200.2H260.4zM268.4 196.7H276.7V200.2H268.4zM272.4 199.9H276.7V203.4H272.4zM144.3 203.1H156.6V206.6H144.3zM176.3 203.1H180.6V206.6H176.3zM268.4 203.1H272.7V206.6H268.4zM144.3 206.3H152.6V209.9H144.3zM156.3 206.3H160.6V209.9H156.3zM264.4 206.3H268.7V209.9H264.4zM276.4 206.3H280.7V209.9H276.4zM244.4 209.6H248.7V213.1H244.4zM256.4 209.6H264.7V213.1H256.4zM268.4 209.6H272.7V213.1H268.4zM276.4 212.8H280.7V216.3H276.4zM272.4 216H276.7V219.5H272.4zM152.3 222.4H156.6V226H152.3zM276.4 225.7H284.7V229.2H276.4zM280.4 228.9H284.7V232.4H280.4zM280.4 235.3H284.7V238.8H280.4zM204.3 238.5H208.6V242.1H204.3zM272.4 238.5H276.7V242.1H272.4zM204.3 241.8H208.6V245.3H204.3zM156.3 245H160.6V248.5H156.3zM164.3 245H168.6V248.5H164.3zM184.3 245H196.6V248.5H184.3zM200.3 245H204.6V248.5H200.3zM184.3 248.2H188.6V251.7H184.3zM192.3 248.2H196.6V251.7H192.3zM168.3 251.4H172.6V254.9H168.3zM184.3 251.4H188.6V254.9H184.3zM236.3 251.4H240.7V254.9H236.3zM388.5 270.7H392.8V274.3H388.5zM376.5 274H380.8V277.5H376.5zM388.5 274H392.8V277.5H388.5z"/>
<path fill="#a1dbfa" d="M136.2 122.6H140.6V126.1H136.2zM148.3 125.8H152.6V129.4H148.3zM152.3 135.5H156.6V139H152.3zM144.3 138.7H148.6V142.2H144.3zM136.2 145.2H144.6V148.7H136.2zM140.3 148.4H144.6V151.9H140.3zM152.3 148.4H156.6V151.9H152.3zM324.4 180.6H328.7V184.1H324.4zM316.4 183.8H324.7V187.3H316.4zM332.4 183.8H340.7V187.3H332.4zM348.5 183.8H352.8V187.3H348.5zM320.4 187H324.7V190.5H320.4zM328.4 187H336.7V190.5H328.4zM344.5 187H348.8V190.5H344.5zM324.4 190.2H328.7V193.8H324.4zM348.5 190.2H352.8V193.8H348.5zM328.4 193.5H332.7V197H328.4zM336.4 193.5H348.8V197H336.4zM360.5 193.5H364.8V197H360.5zM320.4 196.7H324.7V200.2H320.4zM336.4 196.7H340.7V200.2H336.4zM364.5 196.7H368.8V200.2H364.5zM336.4 199.9H340.7V203.4H336.4zM352.5 199.9H360.8V203.4H352.5zM372.5 199.9H376.8V203.4H372.5zM336.4 203.1H340.7V206.6H336.4zM348.5 203.1H352.8V206.6H348.5zM348.5 206.3H352.8V209.9H348.5zM380.5 206.3H384.8V209.9H380.5zM392.5 206.3H396.8V209.9H392.5zM332.4 209.6H336.7V213.1H332.4zM332.4 212.8H336.7V216.3H332.4zM320.4 222.4H324.7V226H320.4zM308.4 232.1H312.7V235.6H308.4zM296.4 241.8H300.7V245.3H296.4zM288.4 245H292.7V248.5H288.4zM280.4 248.2H284.7V251.7H280.4zM264.4 254.6H268.7V258.2H264.4zM148.3 261.1H152.6V264.6H148.3zM156.3 261.1H160.6V264.6H156.3zM164.3 261.1H172.6V264.6H164.3zM188.3 261.1H192.6V264.6H188.3zM196.3 261.1H200.6V264.6H196.3zM224.3 261.1H228.6V264.6H224.3zM216.3 264.3H220.6V267.8H216.3z"/>
<path fill="#bbf6fc" d="M144.3 122.6H148.6V126.1H144.3zM152.3 122.6H156.6V126.1H152.3zM168.3 122.6H176.6V126.1H168.3zM152.3 125.8H156.6V129.4H152.3zM180.3 129.1H184.6V132.6H180.3zM152.3 138.7H156.6V142.2H152.3zM160.3 138.7H164.6V142.2H160.3zM144.3 145.2H148.6V148.7H144.3zM144.3 148.4H148.6V151.9H144.3zM136.2 151.6H140.6V155.1H136.2zM144.3 151.6H148.6V155.1H144.3zM152.3 151.6H156.6V155.1H152.3zM332.4 177.4H344.8V180.9H332.4zM344.5 180.6H348.8V184.1H344.5zM312.4 183.8H316.7V187.3H312.4zM340.4 183.8H344.8V187.3H340.4zM312.4 187H320.7V190.5H312.4zM324.4 187H328.7V190.5H324.4zM356.5 187H360.8V190.5H356.5zM316.4 190.2H320.7V193.8H316.4zM332.4 190.2H336.7V193.8H332.4zM344.5 190.2H348.8V193.8H344.5zM360.5 190.2H364.8V193.8H360.5zM364.5 193.5H368.8V197H364.5zM372.5 196.7H376.8V200.2H372.5zM320.4 199.9H336.7V203.4H320.4zM324.4 216H328.7V219.5H324.4zM312.4 228.9H316.7V232.4H312.4zM300.4 238.5H304.7V242.1H300.4zM284.4 245H288.7V248.5H284.4zM272.4 251.4H276.7V254.9H272.4zM136.2 257.9H144.6V261.4H136.2zM228.3 257.9H232.6V261.4H228.3zM236.3 257.9H240.7V261.4H236.3zM244.4 257.9H248.7V261.4H244.4zM176.3 261.1H180.6V264.6H176.3z"/>
<path fill="#7eb1f8" d="M136.2 125.8H140.6V129.4H136.2zM136.2 135.5H140.6V139H136.2zM136.2 141.9H144.6V145.5H136.2zM332.4 193.5H336.7V197H332.4zM348.5 193.5H352.8V197H348.5zM356.5 193.5H360.8V197H356.5zM340.4 196.7H344.8V200.2H340.4zM352.5 196.7H356.8V200.2H352.5zM340.4 199.9H344.8V203.4H340.4zM348.5 199.9H352.8V203.4H348.5zM360.5 199.9H364.8V203.4H360.5zM344.5 203.1H348.8V206.6H344.5zM368.5 203.1H372.8V206.6H368.5zM336.4 209.6H340.7V213.1H336.4zM324.4 219.2H328.7V222.7H324.4zM300.4 241.8H304.7V245.3H300.4zM256.4 257.9H264.7V261.4H256.4zM152.3 261.1H156.6V264.6H152.3zM208.3 261.1H212.6V264.6H208.3z"/>
<path fill="#6a9af6" d="M140.3 125.8H148.6V129.4H140.3zM148.3 129.1H152.6V132.6H148.3zM144.3 135.5H152.6V139H144.3zM136.2 138.7H144.6V142.2H136.2zM352.5 193.5H356.8V197H352.5zM344.5 196.7H348.8V200.2H344.5zM364.5 199.9H372.8V203.4H364.5zM352.5 203.1H364.8V206.6H352.5zM372.5 203.1H376.8V206.6H372.5zM376.5 206.3H380.8V209.9H376.5zM316.4 228.9H320.7V232.4H316.4zM312.4 232.1H316.7V235.6H312.4zM308.4 235.3H312.7V238.8H308.4zM304.4 238.5H308.7V242.1H304.4zM292.4 245H300.7V248.5H292.4zM280.4 251.4H284.7V254.9H280.4zM272.4 254.6H276.7V258.2H272.4zM248.4 257.9H252.7V261.4H248.4zM236.3 261.1H240.7V264.6H236.3z"/>
<path fill="#4670f2" d="M136.2 129.1H140.6V132.6H136.2zM140.3 132.3H148.6V135.8H140.3zM140.3 135.5H144.6V139H140.3zM348.5 209.6H356.8V213.1H348.5zM388.5 209.6H396.8V213.1H388.5zM324.4 222.4H328.7V226H324.4zM292.4 248.2H296.7V251.7H292.4zM288.4 251.4H292.7V254.9H288.4zM276.4 254.6H280.7V258.2H276.4zM264.4 257.9H268.7V261.4H264.4zM244.4 261.1H252.7V264.6H244.4zM164.3 264.3H168.6V267.8H164.3zM184.3 264.3H192.6V267.8H184.3zM232.3 264.3H236.6V267.8H232.3zM380.5 264.3H384.8V267.8H380.5zM368.5 274H372.8V277.5H368.5zM364.5 277.2H368.8V280.7H364.5z"/>
<path fill="#2e50ee" d="M140.3 129.1H144.6V132.6H140.3zM136.2 132.3H140.6V135.8H136.2zM360.5 206.3H368.8V209.9H360.5zM340.4 209.6H344.8V213.1H340.4zM316.4 232.1H320.7V235.6H316.4zM312.4 235.3H316.7V238.8H312.4zM296.4 248.2H300.7V251.7H296.4zM140.3 264.3H144.6V267.8H140.3zM152.3 264.3H156.6V267.8H152.3zM180.3 264.3H184.6V267.8H180.3zM208.3 264.3H212.6V267.8H208.3zM212.3 267.5H220.6V271H212.3z"/>
<path fill="#5683f4" d="M144.3 129.1H148.6V132.6H144.3zM148.3 132.3H152.6V135.8H148.3zM364.5 203.1H368.8V206.6H364.5zM352.5 206.3H360.8V209.9H352.5zM372.5 206.3H376.8V209.9H372.5zM380.5 209.6H388.8V213.1H380.5zM320.4 225.7H324.7V229.2H320.4zM308.4 238.5H312.7V242.1H308.4zM288.4 248.2H292.7V251.7H288.4zM240.4 261.1H244.7V264.6H240.4z"/>
<path fill="#91c7f9" d="M152.3 132.3H156.6V135.8H152.3zM352.5 187H356.8V190.5H352.5zM328.4 190.2H332.7V193.8H328.4zM352.5 190.2H360.8V193.8H352.5zM324.4 196.7H336.7V200.2H324.4zM348.5 196.7H352.8V200.2H348.5zM356.5 196.7H364.8V200.2H356.5zM368.5 196.7H372.8V200.2H368.5zM344.5 199.9H348.8V203.4H344.5zM340.4 203.1H344.8V206.6H340.4zM340.4 206.3H348.8V209.9H340.4zM384.5 206.3H388.8V209.9H384.5zM328.4 216H332.7V219.5H328.4zM284.4 248.2H288.7V251.7H284.4zM276.4 251.4H280.7V254.9H276.4zM268.4 254.6H272.7V258.2H268.4zM252.4 257.9H256.7V261.4H252.4zM136.2 261.1H148.6V264.6H136.2zM160.3 261.1H164.6V264.6H160.3zM180.3 261.1H188.6V264.6H180.3zM200.3 261.1H208.6V264.6H200.3zM220.3 261.1H224.6V264.6H220.3zM172.3 264.3H180.6V267.8H172.3zM212.3 264.3H216.6V267.8H212.3z"/>
<path fill="#fdecfa" d="M252.4 135.5H256.7V139H252.4zM376.5 135.5H380.8V139H376.5zM280.4 138.7H284.7V142.2H280.4zM312.4 138.7H316.7V142.2H312.4zM368.5 138.7H372.8V142.2H368.5zM380.5 138.7H384.8V142.2H380.5zM236.3 141.9H252.7V145.5H236.3zM276.4 141.9H280.7V145.5H276.4zM284.4 141.9H288.7V145.5H284.4zM296.4 141.9H304.7V145.5H296.4zM316.4 141.9H320.7V145.5H316.4zM340.4 141.9H344.8V145.5H340.4zM352.5 141.9H356.8V145.5H352.5zM384.5 141.9H388.8V145.5H384.5zM220.3 145.2H224.6V148.7H220.3zM316.4 145.2H320.7V148.7H316.4zM324.4 145.2H328.7V148.7H324.4zM348.5 145.2H356.8V148.7H348.5zM376.5 145.2H380.8V148.7H376.5zM200.3 148.4H204.6V151.9H200.3zM392.5 148.4H396.8V151.9H392.5zM380.5 151.6H384.8V155.1H380.5zM372.5 154.8H376.8V158.3H372.5zM384.5 154.8H392.8V158.3H384.5zM392.5 158H396.8V161.6H392.5zM176.3 161.3H184.6V164.8H176.3zM292.4 161.3H300.7V164.8H292.4zM320.4 161.3H324.7V164.8H320.4zM340.4 161.3H344.8V164.8H340.4zM356.5 161.3H364.8V164.8H356.5zM368.5 161.3H372.8V164.8H368.5zM316.4 164.5H320.7V168H316.4zM360.5 164.5H364.8V168H360.5zM380.5 164.5H384.8V168H380.5zM388.5 164.5H392.8V168H388.5zM164.3 167.7H168.6V171.2H164.3zM292.4 167.7H296.7V171.2H292.4zM316.4 167.7H320.7V171.2H316.4zM380.5 167.7H384.8V171.2H380.5zM164.3 170.9H168.6V174.4H164.3zM388.5 170.9H392.8V174.4H388.5zM284.4 174.1H288.7V177.7H284.4zM176.3 177.4H180.6V180.9H176.3zM280.4 177.4H284.7V180.9H280.4zM180.3 180.6H184.6V184.1H180.3zM172.3 183.8H176.6V187.3H172.3zM256.4 183.8H272.7V187.3H256.4zM276.4 183.8H280.7V187.3H276.4zM164.3 187H176.6V190.5H164.3zM244.4 187H252.7V190.5H244.4zM256.4 187H260.7V190.5H256.4zM264.4 187H272.7V190.5H264.4zM244.4 190.2H248.7V193.8H244.4zM244.4 193.5H248.7V197H244.4zM172.3 196.7H176.6V200.2H172.3zM228.3 196.7H232.6V200.2H228.3zM244.4 196.7H248.7V200.2H244.4zM236.3 199.9H244.7V203.4H236.3zM136.2 203.1H140.6V206.6H136.2zM164.3 203.1H168.6V206.6H164.3zM244.4 203.1H252.7V206.6H244.4zM136.2 206.3H144.6V209.9H136.2zM232.3 206.3H236.6V209.9H232.3zM256.4 206.3H260.7V209.9H256.4zM148.3 209.6H156.6V213.1H148.3zM240.4 209.6H244.7V213.1H240.4zM264.4 209.6H268.7V213.1H264.4zM140.3 212.8H144.6V216.3H140.3zM248.4 212.8H252.7V216.3H248.4zM264.4 212.8H268.7V216.3H264.4zM136.2 216H144.6V219.5H136.2zM228.3 216H232.6V219.5H228.3zM268.4 216H272.7V219.5H268.4zM148.3 219.2H152.6V222.7H148.3zM144.3 222.4H148.6V226H144.3zM160.3 222.4H164.6V226H160.3zM148.3 225.7H164.6V229.2H148.3zM140.3 228.9H144.6V232.4H140.3zM152.3 228.9H156.6V232.4H152.3zM164.3 232.1H168.6V235.6H164.3zM276.4 232.1H280.7V235.6H276.4zM164.3 235.3H168.6V238.8H164.3zM188.3 235.3H192.6V238.8H188.3zM200.3 235.3H204.6V238.8H200.3zM212.3 235.3H216.6V238.8H212.3zM156.3 238.5H160.6V242.1H156.3zM164.3 238.5H168.6V242.1H164.3zM172.3 238.5H176.6V242.1H172.3zM188.3 238.5H192.6V242.1H188.3zM200.3 238.5H204.6V242.1H200.3zM216.3 238.5H220.6V242.1H216.3zM268.4 238.5H272.7V242.1H268.4zM164.3 241.8H180.6V245.3H164.3zM208.3 241.8H212.6V245.3H208.3zM216.3 241.8H220.6V245.3H216.3zM224.3 241.8H228.6V245.3H224.3zM148.3 245H152.6V248.5H148.3zM168.3 245H172.6V248.5H168.3zM180.3 245H184.6V248.5H180.3zM212.3 245H216.6V248.5H212.3zM224.3 245H228.6V248.5H224.3zM264.4 245H268.7V248.5H264.4zM148.3 248.2H152.6V251.7H148.3zM156.3 248.2H160.6V251.7H156.3zM164.3 248.2H168.6V251.7H164.3zM172.3 248.2H176.6V251.7H172.3zM196.3 248.2H204.6V251.7H196.3zM212.3 248.2H220.6V251.7H212.3zM232.3 248.2H236.6V251.7H232.3zM136.2 251.4H144.6V254.9H136.2zM152.3 251.4H156.6V254.9H152.3zM160.3 251.4H164.6V254.9H160.3zM176.3 251.4H180.6V254.9H176.3zM216.3 251.4H220.6V254.9H216.3zM228.3 251.4H232.6V254.9H228.3zM212.3 254.6H216.6V258.2H212.3zM392.5 264.3H396.8V267.8H392.5zM392.5 270.7H396.8V274.3H392.5zM380.5 274H384.8V277.5H380.5zM388.5 277.2H396.8V280.7H388.5z"/>
<path fill="#fde8f9" d="M260.4 135.5H264.7V139H260.4zM252.4 138.7H260.7V142.2H252.4zM268.4 138.7H276.7V142.2H268.4zM292.4 138.7H296.7V142.2H292.4zM376.5 138.7H380.8V142.2H376.5zM232.3 141.9H236.6V145.5H232.3zM264.4 141.9H268.7V145.5H264.4zM308.4 141.9H316.7V145.5H308.4zM320.4 141.9H340.7V145.5H320.4zM372.5 141.9H376.8V145.5H372.5zM380.5 141.9H384.8V145.5H380.5zM388.5 141.9H392.8V145.5H388.5zM240.4 145.2H244.7V148.7H240.4zM328.4 145.2H332.7V148.7H328.4zM344.5 145.2H348.8V148.7H344.5zM364.5 145.2H376.8V148.7H364.5zM356.5 148.4H364.8V151.9H356.5zM372.5 148.4H380.8V151.9H372.5zM192.3 151.6H196.6V155.1H192.3zM360.5 151.6H364.8V155.1H360.5zM368.5 151.6H372.8V155.1H368.5zM376.5 151.6H380.8V155.1H376.5zM188.3 154.8H192.6V158.3H188.3zM376.5 154.8H384.8V158.3H376.5zM296.4 158H300.7V161.6H296.4zM340.4 158H344.8V161.6H340.4zM384.5 158H392.8V161.6H384.5zM328.4 161.3H332.7V164.8H328.4zM336.4 161.3H340.7V164.8H336.4zM380.5 161.3H392.8V164.8H380.5zM292.4 164.5H296.7V168H292.4zM304.4 164.5H308.7V168H304.4zM364.5 164.5H372.8V168H364.5zM172.3 167.7H176.6V171.2H172.3zM184.3 167.7H188.6V171.2H184.3zM172.3 170.9H176.6V174.4H172.3zM184.3 170.9H188.6V174.4H184.3zM276.4 170.9H280.7V174.4H276.4zM284.4 170.9H288.7V174.4H284.4zM304.4 170.9H308.7V174.4H304.4zM392.5 170.9H396.8V174.4H392.5zM172.3 174.1H176.6V177.7H172.3zM184.3 174.1H188.6V177.7H184.3zM280.4 174.1H284.7V177.7H280.4zM388.5 174.1H392.8V177.7H388.5zM180.3 177.4H184.6V180.9H180.3zM272.4 177.4H280.7V180.9H272.4zM172.3 180.6H180.6V184.1H172.3zM256.4 180.6H260.7V184.1H256.4zM180.3 183.8H184.6V187.3H180.3zM240.4 187H244.7V190.5H240.4zM184.3 193.5H192.6V197H184.3zM236.3 193.5H244.7V197H236.3zM180.3 196.7H192.6V200.2H180.3zM168.3 199.9H172.6V203.4H168.3zM176.3 199.9H180.6V203.4H176.3zM244.4 199.9H248.7V203.4H244.4zM256.4 199.9H268.7V203.4H256.4zM172.3 203.1H176.6V206.6H172.3zM232.3 203.1H236.6V206.6H232.3zM252.4 203.1H256.7V206.6H252.4zM160.3 206.3H164.6V209.9H160.3zM172.3 206.3H176.6V209.9H172.3zM180.3 206.3H184.6V209.9H180.3zM236.3 206.3H240.7V209.9H236.3zM268.4 206.3H272.7V209.9H268.4zM140.3 209.6H148.6V213.1H140.3zM184.3 209.6H188.6V213.1H184.3zM232.3 209.6H236.6V213.1H232.3zM156.3 212.8H160.6V216.3H156.3zM240.4 212.8H244.7V216.3H240.4zM256.4 212.8H260.7V216.3H256.4zM144.3 216H152.6V219.5H144.3zM176.3 216H180.6V219.5H176.3zM236.3 216H240.7V219.5H236.3zM264.4 216H268.7V219.5H264.4zM136.2 219.2H144.6V222.7H136.2zM268.4 219.2H272.7V222.7H268.4zM136.2 222.4H140.6V226H136.2zM156.3 222.4H160.6V226H156.3zM172.3 222.4H176.6V226H172.3zM268.4 222.4H276.7V226H268.4zM148.3 228.9H152.6V232.4H148.3zM164.3 228.9H168.6V232.4H164.3zM148.3 232.1H156.6V235.6H148.3zM168.3 232.1H172.6V235.6H168.3zM216.3 232.1H220.6V235.6H216.3zM152.3 235.3H160.6V238.8H152.3zM168.3 235.3H172.6V238.8H168.3zM204.3 235.3H208.6V238.8H204.3zM160.3 238.5H164.6V242.1H160.3zM196.3 238.5H200.6V242.1H196.3zM212.3 238.5H216.6V242.1H212.3zM220.3 238.5H228.6V242.1H220.3zM156.3 241.8H164.6V245.3H156.3zM180.3 241.8H188.6V245.3H180.3zM192.3 241.8H196.6V245.3H192.3zM212.3 241.8H216.6V245.3H212.3zM160.3 245H164.6V248.5H160.3zM220.3 245H224.6V248.5H220.3zM252.4 245H256.7V248.5H252.4zM260.4 245H264.7V248.5H260.4zM220.3 248.2H228.6V251.7H220.3zM236.3 248.2H240.7V251.7H236.3zM156.3 251.4H160.6V254.9H156.3zM192.3 251.4H196.6V254.9H192.3zM200.3 251.4H208.6V254.9H200.3zM220.3 251.4H228.6V254.9H220.3zM380.5 277.2H384.8V280.7H380.5z"/>
<path fill="#fde6f5" d="M372.5 135.5H376.8V139H372.5zM248.4 138.7H252.7V142.2H248.4zM260.4 138.7H268.7V142.2H260.4zM276.4 138.7H280.7V142.2H276.4zM320.4 138.7H324.7V142.2H320.4zM280.4 141.9H284.7V145.5H280.4zM304.4 141.9H308.7V145.5H304.4zM356.5 141.9H368.8V145.5H356.5zM212.3 145.2H220.6V148.7H212.3zM224.3 145.2H228.6V148.7H224.3zM292.4 145.2H296.7V148.7H292.4zM312.4 145.2H316.7V148.7H312.4zM356.5 145.2H364.8V148.7H356.5zM224.3 148.4H228.6V151.9H224.3zM364.5 148.4H368.8V151.9H364.5zM380.5 148.4H384.8V151.9H380.5zM196.3 151.6H200.6V155.1H196.3zM356.5 151.6H360.8V155.1H356.5zM364.5 151.6H368.8V155.1H364.5zM372.5 151.6H376.8V155.1H372.5zM360.5 154.8H372.8V158.3H360.5zM324.4 158H328.7V161.6H324.4zM352.5 158H372.8V161.6H352.5zM184.3 161.3H188.6V164.8H184.3zM192.3 161.3H196.6V164.8H192.3zM280.4 161.3H284.7V164.8H280.4zM300.4 161.3H320.7V164.8H300.4zM324.4 161.3H328.7V164.8H324.4zM332.4 161.3H336.7V164.8H332.4zM344.5 161.3H352.8V164.8H344.5zM188.3 164.5H192.6V168H188.3zM280.4 164.5H284.7V168H280.4zM384.5 164.5H388.8V168H384.5zM188.3 167.7H192.6V171.2H188.3zM284.4 167.7H288.7V171.2H284.4zM388.5 167.7H392.8V171.2H388.5zM168.3 170.9H172.6V174.4H168.3zM176.3 170.9H184.6V174.4H176.3zM288.4 170.9H292.7V174.4H288.4zM176.3 174.1H184.6V177.7H176.3zM188.3 174.1H192.6V177.7H188.3zM272.4 174.1H280.7V177.7H272.4zM184.3 177.4H188.6V180.9H184.3zM272.4 180.6H276.7V184.1H272.4zM240.4 183.8H244.7V187.3H240.4zM248.4 183.8H252.7V187.3H248.4zM180.3 187H184.6V190.5H180.3zM184.3 190.2H188.6V193.8H184.3zM232.3 190.2H236.6V193.8H232.3zM176.3 193.5H180.6V197H176.3zM232.3 193.5H236.6V197H232.3zM192.3 196.7H196.6V200.2H192.3zM184.3 199.9H188.6V203.4H184.3zM184.3 203.1H188.6V206.6H184.3zM236.3 203.1H244.7V206.6H236.3zM260.4 203.1H268.7V206.6H260.4zM164.3 206.3H168.6V209.9H164.3zM244.4 206.3H248.7V209.9H244.4zM156.3 209.6H164.6V213.1H156.3zM236.3 209.6H240.7V213.1H236.3zM144.3 212.8H148.6V216.3H144.3zM152.3 212.8H156.6V216.3H152.3zM180.3 212.8H184.6V216.3H180.3zM188.3 212.8H192.6V216.3H188.3zM228.3 212.8H232.6V216.3H228.3zM248.4 216H252.7V219.5H248.4zM144.3 219.2H148.6V222.7H144.3zM156.3 219.2H160.6V222.7H156.3zM164.3 219.2H168.6V222.7H164.3zM140.3 222.4H144.6V226H140.3zM148.3 222.4H152.6V226H148.3zM176.3 222.4H180.6V226H176.3zM224.3 222.4H232.6V226H224.3zM168.3 225.7H172.6V229.2H168.3zM268.4 225.7H272.7V229.2H268.4zM136.2 228.9H140.6V232.4H136.2zM168.3 228.9H176.6V232.4H168.3zM212.3 228.9H220.6V232.4H212.3zM224.3 228.9H228.6V232.4H224.3zM220.3 232.1H228.6V235.6H220.3zM272.4 232.1H276.7V235.6H272.4zM148.3 235.3H152.6V238.8H148.3zM172.3 235.3H176.6V238.8H172.3zM192.3 235.3H200.6V238.8H192.3zM208.3 235.3H212.6V238.8H208.3zM216.3 235.3H220.6V238.8H216.3zM148.3 238.5H156.6V242.1H148.3zM176.3 238.5H188.6V242.1H176.3zM192.3 238.5H196.6V242.1H192.3zM264.4 238.5H268.7V242.1H264.4zM148.3 241.8H156.6V245.3H148.3zM188.3 241.8H192.6V245.3H188.3zM228.3 241.8H236.6V245.3H228.3zM260.4 241.8H272.7V245.3H260.4zM144.3 245H148.6V248.5H144.3zM152.3 245H156.6V248.5H152.3zM232.3 245H236.6V248.5H232.3zM256.4 245H260.7V248.5H256.4zM140.3 248.2H148.6V251.7H140.3zM228.3 248.2H232.6V251.7H228.3zM248.4 248.2H252.7V251.7H248.4zM144.3 251.4H148.6V254.9H144.3zM384.5 277.2H388.8V280.7H384.5z"/>
<path fill="#fce3f2" d="M228.3 141.9H232.6V145.5H228.3zM252.4 141.9H256.7V145.5H252.4zM260.4 141.9H264.7V145.5H260.4zM272.4 141.9H276.7V145.5H272.4zM288.4 141.9H296.7V145.5H288.4zM228.3 145.2H240.7V148.7H228.3zM248.4 145.2H252.7V148.7H248.4zM300.4 145.2H304.7V148.7H300.4zM332.4 145.2H344.8V148.7H332.4zM204.3 148.4H208.6V151.9H204.3zM220.3 148.4H224.6V151.9H220.3zM312.4 148.4H316.7V151.9H312.4zM320.4 148.4H324.7V151.9H320.4zM328.4 148.4H332.7V151.9H328.4zM352.5 148.4H356.8V151.9H352.5zM368.5 148.4H372.8V151.9H368.5zM352.5 151.6H356.8V155.1H352.5zM280.4 154.8H284.7V158.3H280.4zM336.4 154.8H348.8V158.3H336.4zM188.3 158H192.6V161.6H188.3zM284.4 158H288.7V161.6H284.4zM300.4 158H304.7V161.6H300.4zM312.4 158H324.7V161.6H312.4zM344.5 158H352.8V161.6H344.5zM188.3 161.3H192.6V164.8H188.3zM196.3 161.3H200.6V164.8H196.3zM284.4 161.3H292.7V164.8H284.4zM364.5 161.3H368.8V164.8H364.5zM276.4 164.5H280.7V168H276.4zM284.4 164.5H292.7V168H284.4zM288.4 167.7H292.7V171.2H288.4zM188.3 170.9H192.6V174.4H188.3zM272.4 170.9H276.7V174.4H272.4zM280.4 170.9H284.7V174.4H280.4zM384.5 170.9H388.8V174.4H384.5zM260.4 177.4H272.7V180.9H260.4zM184.3 180.6H192.6V184.1H184.3zM236.3 180.6H240.7V184.1H236.3zM244.4 180.6H256.7V184.1H244.4zM264.4 180.6H272.7V184.1H264.4zM184.3 183.8H188.6V187.3H184.3zM236.3 183.8H240.7V187.3H236.3zM252.4 183.8H256.7V187.3H252.4zM176.3 187H180.6V190.5H176.3zM224.3 187H236.6V190.5H224.3zM176.3 190.2H180.6V193.8H176.3zM220.3 190.2H224.6V193.8H220.3zM228.3 190.2H232.6V193.8H228.3zM236.3 190.2H240.7V193.8H236.3zM180.3 193.5H184.6V197H180.3zM192.3 193.5H196.6V197H192.3zM228.3 193.5H232.6V197H228.3zM192.3 199.9H196.6V203.4H192.3zM228.3 199.9H232.6V203.4H228.3zM180.3 203.1H184.6V206.6H180.3zM200.3 203.1H204.6V206.6H200.3zM228.3 203.1H232.6V206.6H228.3zM168.3 206.3H172.6V209.9H168.3zM176.3 206.3H180.6V209.9H176.3zM184.3 206.3H192.6V209.9H184.3zM196.3 206.3H200.6V209.9H196.3zM204.3 206.3H212.6V209.9H204.3zM228.3 206.3H232.6V209.9H228.3zM172.3 209.6H180.6V213.1H172.3zM192.3 209.6H196.6V213.1H192.3zM200.3 209.6H204.6V213.1H200.3zM228.3 209.6H232.6V213.1H228.3zM164.3 212.8H172.6V216.3H164.3zM192.3 212.8H200.6V216.3H192.3zM232.3 212.8H236.6V216.3H232.3zM244.4 212.8H248.7V216.3H244.4zM156.3 216H164.6V219.5H156.3zM188.3 216H196.6V219.5H188.3zM232.3 216H236.6V219.5H232.3zM160.3 219.2H164.6V222.7H160.3zM224.3 219.2H236.6V222.7H224.3zM260.4 219.2H268.7V222.7H260.4zM164.3 222.4H168.6V226H164.3zM232.3 222.4H236.6V226H232.3zM256.4 222.4H260.7V226H256.4zM264.4 222.4H268.7V226H264.4zM164.3 225.7H168.6V229.2H164.3zM172.3 225.7H180.6V229.2H172.3zM212.3 225.7H216.6V229.2H212.3zM268.4 228.9H272.7V232.4H268.4zM144.3 232.1H148.6V235.6H144.3zM172.3 232.1H176.6V235.6H172.3zM208.3 232.1H212.6V235.6H208.3zM268.4 232.1H272.7V235.6H268.4zM144.3 235.3H148.6V238.8H144.3zM184.3 235.3H188.6V238.8H184.3zM228.3 245H232.6V248.5H228.3zM236.3 245H240.7V248.5H236.3zM248.4 245H252.7V248.5H248.4zM244.4 248.2H248.7V251.7H244.4zM252.4 248.2H256.7V251.7H252.4z"/>
<path fill="#fce1ec" d="M256.4 141.9H260.7V145.5H256.4zM268.4 141.9H272.7V145.5H268.4zM244.4 145.2H248.7V148.7H244.4zM268.4 145.2H276.7V148.7H268.4zM280.4 145.2H284.7V148.7H280.4zM296.4 145.2H300.7V148.7H296.4zM304.4 145.2H312.7V148.7H304.4zM320.4 145.2H324.7V148.7H320.4zM208.3 148.4H212.6V151.9H208.3zM216.3 148.4H220.6V151.9H216.3zM228.3 148.4H232.6V151.9H228.3zM236.3 148.4H240.7V151.9H236.3zM296.4 148.4H300.7V151.9H296.4zM336.4 148.4H352.8V151.9H336.4zM204.3 151.6H208.6V155.1H204.3zM228.3 151.6H232.6V155.1H228.3zM340.4 151.6H344.8V155.1H340.4zM348.5 151.6H352.8V155.1H348.5zM192.3 154.8H196.6V158.3H192.3zM304.4 154.8H308.7V158.3H304.4zM312.4 154.8H316.7V158.3H312.4zM320.4 154.8H324.7V158.3H320.4zM328.4 154.8H336.7V158.3H328.4zM356.5 154.8H360.8V158.3H356.5zM192.3 158H200.6V161.6H192.3zM280.4 158H284.7V161.6H280.4zM288.4 158H296.7V161.6H288.4zM332.4 158H340.7V161.6H332.4zM272.4 161.3H276.7V164.8H272.4zM268.4 164.5H272.7V168H268.4zM268.4 167.7H284.7V171.2H268.4zM196.3 174.1H200.6V177.7H196.3zM264.4 174.1H272.7V177.7H264.4zM188.3 177.4H196.6V180.9H188.3zM248.4 177.4H252.7V180.9H248.4zM240.4 180.6H244.7V184.1H240.4zM260.4 180.6H264.7V184.1H260.4zM244.4 183.8H248.7V187.3H244.4zM184.3 187H188.6V190.5H184.3zM220.3 187H224.6V190.5H220.3zM236.3 187H240.7V190.5H236.3zM180.3 190.2H184.6V193.8H180.3zM188.3 190.2H192.6V193.8H188.3zM224.3 190.2H228.6V193.8H224.3zM200.3 193.5H204.6V197H200.3zM196.3 196.7H200.6V200.2H196.3zM188.3 199.9H192.6V203.4H188.3zM196.3 199.9H200.6V203.4H196.3zM204.3 199.9H212.6V203.4H204.3zM212.3 203.1H216.6V206.6H212.3zM224.3 203.1H228.6V206.6H224.3zM200.3 206.3H204.6V209.9H200.3zM224.3 206.3H228.6V209.9H224.3zM164.3 209.6H172.6V213.1H164.3zM180.3 209.6H184.6V213.1H180.3zM188.3 209.6H192.6V213.1H188.3zM196.3 209.6H200.6V213.1H196.3zM204.3 209.6H208.6V213.1H204.3zM212.3 209.6H216.6V213.1H212.3zM220.3 209.6H228.6V213.1H220.3zM160.3 212.8H164.6V216.3H160.3zM176.3 212.8H180.6V216.3H176.3zM184.3 212.8H188.6V216.3H184.3zM200.3 212.8H208.6V216.3H200.3zM224.3 212.8H228.6V216.3H224.3zM236.3 212.8H240.7V216.3H236.3zM184.3 216H188.6V219.5H184.3zM196.3 216H200.6V219.5H196.3zM220.3 216H228.6V219.5H220.3zM240.4 216H248.7V219.5H240.4zM256.4 216H264.7V219.5H256.4zM176.3 219.2H184.6V222.7H176.3zM188.3 219.2H196.6V222.7H188.3zM252.4 219.2H256.7V222.7H252.4zM212.3 222.4H216.6V226H212.3zM180.3 225.7H184.6V229.2H180.3zM216.3 225.7H220.6V229.2H216.3zM228.3 225.7H232.6V229.2H228.3zM260.4 225.7H264.7V229.2H260.4zM204.3 228.9H208.6V232.4H204.3zM264.4 228.9H268.7V232.4H264.4zM192.3 232.1H196.6V235.6H192.3zM228.3 232.1H232.6V235.6H228.3zM180.3 235.3H184.6V238.8H180.3zM220.3 235.3H228.6V238.8H220.3zM264.4 235.3H272.7V238.8H264.4zM140.3 245H144.6V248.5H140.3zM240.4 245H244.7V248.5H240.4zM136.2 248.2H140.6V251.7H136.2zM240.4 248.2H244.7V251.7H240.4z"/>
<path fill="#fcdee4" d="M252.4 145.2H264.7V148.7H252.4zM276.4 145.2H280.7V148.7H276.4zM284.4 145.2H288.7V148.7H284.4zM240.4 148.4H248.7V151.9H240.4zM252.4 148.4H260.7V151.9H252.4zM264.4 148.4H276.7V151.9H264.4zM280.4 148.4H284.7V151.9H280.4zM288.4 148.4H296.7V151.9H288.4zM304.4 148.4H308.7V151.9H304.4zM316.4 148.4H320.7V151.9H316.4zM324.4 148.4H328.7V151.9H324.4zM332.4 148.4H336.7V151.9H332.4zM200.3 151.6H204.6V155.1H200.3zM284.4 151.6H288.7V155.1H284.4zM296.4 151.6H304.7V155.1H296.4zM316.4 151.6H320.7V155.1H316.4zM324.4 151.6H328.7V155.1H324.4zM332.4 151.6H340.7V155.1H332.4zM288.4 154.8H292.7V158.3H288.4zM300.4 154.8H304.7V158.3H300.4zM316.4 154.8H320.7V158.3H316.4zM324.4 154.8H328.7V158.3H324.4zM348.5 154.8H356.8V158.3H348.5zM276.4 158H280.7V161.6H276.4zM328.4 158H332.7V161.6H328.4zM200.3 161.3H204.6V164.8H200.3zM268.4 161.3H272.7V164.8H268.4zM276.4 161.3H280.7V164.8H276.4zM192.3 164.5H196.6V168H192.3zM264.4 164.5H268.7V168H264.4zM272.4 164.5H276.7V168H272.4zM260.4 167.7H264.7V171.2H260.4zM192.3 170.9H200.6V174.4H192.3zM252.4 170.9H264.7V174.4H252.4zM192.3 174.1H196.6V177.7H192.3zM260.4 174.1H264.7V177.7H260.4zM240.4 177.4H244.7V180.9H240.4zM256.4 177.4H260.7V180.9H256.4zM224.3 180.6H228.6V184.1H224.3zM220.3 183.8H232.6V187.3H220.3zM192.3 190.2H196.6V193.8H192.3zM200.3 196.7H208.6V200.2H200.3zM224.3 196.7H228.6V200.2H224.3zM200.3 199.9H204.6V203.4H200.3zM216.3 199.9H220.6V203.4H216.3zM188.3 203.1H196.6V206.6H188.3zM204.3 203.1H208.6V206.6H204.3zM220.3 203.1H224.6V206.6H220.3zM212.3 206.3H216.6V209.9H212.3zM220.3 206.3H224.6V209.9H220.3zM208.3 209.6H212.6V213.1H208.3zM172.3 212.8H176.6V216.3H172.3zM208.3 212.8H212.6V216.3H208.3zM164.3 216H176.6V219.5H164.3zM180.3 216H184.6V219.5H180.3zM252.4 216H256.7V219.5H252.4zM168.3 219.2H176.6V222.7H168.3zM216.3 219.2H220.6V222.7H216.3zM240.4 219.2H248.7V222.7H240.4zM256.4 219.2H260.7V222.7H256.4zM168.3 222.4H172.6V226H168.3zM180.3 222.4H184.6V226H180.3zM192.3 222.4H196.6V226H192.3zM216.3 222.4H224.6V226H216.3zM240.4 222.4H244.7V226H240.4zM208.3 225.7H212.6V229.2H208.3zM220.3 225.7H228.6V229.2H220.3zM264.4 225.7H268.7V229.2H264.4zM208.3 228.9H212.6V232.4H208.3zM220.3 228.9H224.6V232.4H220.3zM136.2 232.1H144.6V235.6H136.2zM180.3 232.1H184.6V235.6H180.3zM188.3 232.1H192.6V235.6H188.3zM196.3 232.1H208.6V235.6H196.3zM228.3 235.3H232.6V238.8H228.3zM228.3 238.5H232.6V242.1H228.3zM144.3 241.8H148.6V245.3H144.3zM252.4 241.8H260.7V245.3H252.4zM244.4 245H248.7V248.5H244.4z"/>
<path fill="#fcdcdc" d="M264.4 145.2H268.7V148.7H264.4zM212.3 148.4H216.6V151.9H212.3zM232.3 148.4H236.6V151.9H232.3zM248.4 148.4H252.7V151.9H248.4zM276.4 148.4H280.7V151.9H276.4zM284.4 148.4H288.7V151.9H284.4zM300.4 148.4H304.7V151.9H300.4zM224.3 151.6H228.6V155.1H224.3zM304.4 151.6H308.7V155.1H304.4zM312.4 151.6H316.7V155.1H312.4zM320.4 151.6H324.7V155.1H320.4zM328.4 151.6H332.7V155.1H328.4zM344.5 151.6H348.8V155.1H344.5zM196.3 154.8H200.6V158.3H196.3zM268.4 154.8H272.7V158.3H268.4zM284.4 154.8H288.7V158.3H284.4zM292.4 154.8H300.7V158.3H292.4zM308.4 154.8H312.7V158.3H308.4zM264.4 158H272.7V161.6H264.4zM308.4 158H312.7V161.6H308.4zM260.4 161.3H268.7V164.8H260.4zM196.3 164.5H200.6V168H196.3zM256.4 164.5H264.7V168H256.4zM192.3 167.7H196.6V171.2H192.3zM200.3 167.7H204.6V171.2H200.3zM264.4 167.7H268.7V171.2H264.4zM268.4 170.9H272.7V174.4H268.4zM240.4 174.1H244.7V177.7H240.4zM256.4 174.1H260.7V177.7H256.4zM196.3 177.4H200.6V180.9H196.3zM244.4 177.4H248.7V180.9H244.4zM252.4 177.4H256.7V180.9H252.4zM220.3 180.6H224.6V184.1H220.3zM232.3 180.6H236.6V184.1H232.3zM232.3 183.8H236.6V187.3H232.3zM188.3 187H192.6V190.5H188.3zM196.3 190.2H200.6V193.8H196.3zM216.3 190.2H220.6V193.8H216.3zM196.3 193.5H200.6V197H196.3zM212.3 193.5H228.6V197H212.3zM220.3 199.9H228.6V203.4H220.3zM196.3 203.1H200.6V206.6H196.3zM208.3 203.1H212.6V206.6H208.3zM192.3 206.3H196.6V209.9H192.3zM216.3 206.3H220.6V209.9H216.3zM216.3 209.6H220.6V213.1H216.3zM212.3 212.8H224.6V216.3H212.3zM212.3 216H216.6V219.5H212.3zM184.3 219.2H188.6V222.7H184.3zM196.3 219.2H200.6V222.7H196.3zM220.3 219.2H224.6V222.7H220.3zM236.3 219.2H240.7V222.7H236.3zM248.4 219.2H252.7V222.7H248.4zM184.3 222.4H192.6V226H184.3zM236.3 222.4H240.7V226H236.3zM244.4 222.4H248.7V226H244.4zM260.4 222.4H264.7V226H260.4zM204.3 225.7H208.6V229.2H204.3zM232.3 225.7H236.6V229.2H232.3zM176.3 228.9H180.6V232.4H176.3zM196.3 228.9H204.6V232.4H196.3zM228.3 228.9H232.6V232.4H228.3zM260.4 228.9H264.7V232.4H260.4zM176.3 232.1H180.6V235.6H176.3zM184.3 232.1H188.6V235.6H184.3zM176.3 235.3H180.6V238.8H176.3zM260.4 235.3H264.7V238.8H260.4zM232.3 238.5H236.6V242.1H232.3zM260.4 238.5H264.7V242.1H260.4zM136.2 245H140.6V248.5H136.2z"/>
<path fill="#fcd9d2" d="M288.4 145.2H292.7V148.7H288.4zM260.4 148.4H264.7V151.9H260.4zM308.4 148.4H312.7V151.9H308.4zM212.3 151.6H216.6V155.1H212.3zM220.3 151.6H224.6V155.1H220.3zM244.4 151.6H248.7V155.1H244.4zM264.4 151.6H272.7V155.1H264.4zM280.4 151.6H284.7V155.1H280.4zM288.4 151.6H292.7V155.1H288.4zM200.3 154.8H204.6V158.3H200.3zM264.4 154.8H268.7V158.3H264.4zM276.4 154.8H280.7V158.3H276.4zM200.3 158H204.6V161.6H200.3zM304.4 158H308.7V161.6H304.4zM208.3 161.3H212.6V164.8H208.3zM204.3 164.5H208.6V168H204.3zM196.3 167.7H200.6V171.2H196.3zM204.3 167.7H208.6V171.2H204.3zM256.4 167.7H260.7V171.2H256.4zM204.3 170.9H208.6V174.4H204.3zM236.3 170.9H240.7V174.4H236.3zM264.4 170.9H268.7V174.4H264.4zM200.3 174.1H204.6V177.7H200.3zM248.4 174.1H256.7V177.7H248.4zM212.3 177.4H216.6V180.9H212.3zM232.3 177.4H236.6V180.9H232.3zM196.3 180.6H200.6V184.1H196.3zM208.3 180.6H212.6V184.1H208.3zM216.3 180.6H220.6V184.1H216.3zM228.3 180.6H232.6V184.1H228.3zM188.3 183.8H196.6V187.3H188.3zM204.3 190.2H212.6V193.8H204.3zM204.3 193.5H208.6V197H204.3zM208.3 196.7H212.6V200.2H208.3zM216.3 196.7H224.6V200.2H216.3zM212.3 199.9H216.6V203.4H212.3zM216.3 203.1H220.6V206.6H216.3zM200.3 216H212.6V219.5H200.3zM216.3 216H220.6V219.5H216.3zM208.3 219.2H216.6V222.7H208.3zM196.3 222.4H200.6V226H196.3zM208.3 222.4H212.6V226H208.3zM248.4 222.4H256.7V226H248.4zM200.3 225.7H204.6V229.2H200.3zM256.4 225.7H260.7V229.2H256.4zM184.3 228.9H192.6V232.4H184.3zM260.4 232.1H264.7V235.6H260.4zM144.3 238.5H148.6V242.1H144.3zM236.3 241.8H240.7V245.3H236.3zM244.4 241.8H252.7V245.3H244.4z"/>
<path fill="#fcd1ba" d="M208.3 151.6H212.6V155.1H208.3zM240.4 151.6H244.7V155.1H240.4zM248.4 151.6H252.7V155.1H248.4zM256.4 151.6H264.7V155.1H256.4zM272.4 151.6H276.7V155.1H272.4zM208.3 154.8H212.6V158.3H208.3zM216.3 154.8H224.6V158.3H216.3zM228.3 154.8H236.6V158.3H228.3zM256.4 154.8H264.7V158.3H256.4zM232.3 158H236.6V161.6H232.3zM260.4 158H264.7V161.6H260.4zM212.3 161.3H216.6V164.8H212.3zM236.3 161.3H240.7V164.8H236.3zM256.4 161.3H260.7V164.8H256.4zM208.3 164.5H216.6V168H208.3zM220.3 164.5H224.6V168H220.3zM252.4 164.5H256.7V168H252.4zM220.3 167.7H224.6V171.2H220.3zM252.4 167.7H256.7V171.2H252.4zM208.3 170.9H216.6V174.4H208.3zM244.4 170.9H252.7V174.4H244.4zM208.3 174.1H220.6V177.7H208.3zM232.3 174.1H236.6V177.7H232.3zM200.3 177.4H204.6V180.9H200.3zM208.3 177.4H212.6V180.9H208.3zM220.3 177.4H224.6V180.9H220.3zM204.3 180.6H208.6V184.1H204.3zM212.3 180.6H216.6V184.1H212.3zM208.3 183.8H212.6V187.3H208.3zM204.3 187H208.6V190.5H204.3zM200.3 219.2H204.6V222.7H200.3zM204.3 222.4H208.6V226H204.3zM232.3 228.9H236.6V232.4H232.3zM136.2 235.3H140.6V238.8H136.2zM256.4 238.5H260.7V242.1H256.4z"/>
<path fill="#fcd6c9" d="M216.3 151.6H220.6V155.1H216.3zM232.3 151.6H240.7V155.1H232.3zM252.4 151.6H256.7V155.1H252.4zM276.4 151.6H280.7V155.1H276.4zM292.4 151.6H296.7V155.1H292.4zM308.4 151.6H312.7V155.1H308.4zM204.3 154.8H208.6V158.3H204.3zM212.3 154.8H216.6V158.3H212.3zM240.4 154.8H244.7V158.3H240.4zM272.4 154.8H276.7V158.3H272.4zM204.3 158H208.6V161.6H204.3zM212.3 158H216.6V161.6H212.3zM256.4 158H260.7V161.6H256.4zM272.4 158H276.7V161.6H272.4zM204.3 161.3H208.6V164.8H204.3zM200.3 164.5H204.6V168H200.3zM216.3 164.5H220.6V168H216.3zM236.3 164.5H240.7V168H236.3zM208.3 167.7H216.6V171.2H208.3zM240.4 167.7H244.7V171.2H240.4zM248.4 167.7H252.7V171.2H248.4zM200.3 170.9H204.6V174.4H200.3zM220.3 170.9H224.6V174.4H220.3zM240.4 170.9H244.7V174.4H240.4zM220.3 174.1H232.6V177.7H220.3zM236.3 174.1H240.7V177.7H236.3zM244.4 174.1H248.7V177.7H244.4zM204.3 177.4H208.6V180.9H204.3zM216.3 177.4H220.6V180.9H216.3zM224.3 177.4H232.6V180.9H224.3zM236.3 177.4H240.7V180.9H236.3zM192.3 180.6H196.6V184.1H192.3zM212.3 183.8H216.6V187.3H212.3zM192.3 187H196.6V190.5H192.3zM212.3 187H220.6V190.5H212.3zM200.3 190.2H204.6V193.8H200.3zM212.3 190.2H216.6V193.8H212.3zM208.3 193.5H212.6V197H208.3zM212.3 196.7H216.6V200.2H212.3zM204.3 219.2H208.6V222.7H204.3zM200.3 222.4H204.6V226H200.3zM184.3 225.7H200.6V229.2H184.3zM236.3 225.7H244.7V229.2H236.3zM180.3 228.9H184.6V232.4H180.3zM192.3 228.9H196.6V232.4H192.3zM264.4 232.1H268.7V235.6H264.4zM140.3 235.3H144.6V238.8H140.3zM232.3 235.3H236.6V238.8H232.3zM236.3 238.5H240.7V242.1H236.3zM136.2 241.8H144.6V245.3H136.2zM240.4 241.8H244.7V245.3H240.4z"/>
<path fill="#fccaa7" d="M224.3 154.8H228.6V158.3H224.3zM244.4 154.8H248.7V158.3H244.4zM208.3 158H212.6V161.6H208.3zM216.3 158H220.6V161.6H216.3zM236.3 158H240.7V161.6H236.3zM244.4 158H248.7V161.6H244.4zM240.4 161.3H244.7V164.8H240.4zM244.4 164.5H248.7V168H244.4zM216.3 167.7H220.6V171.2H216.3zM224.3 167.7H228.6V171.2H224.3zM232.3 167.7H240.7V171.2H232.3zM216.3 170.9H220.6V174.4H216.3zM204.3 174.1H208.6V177.7H204.3zM200.3 180.6H204.6V184.1H200.3zM196.3 183.8H200.6V187.3H196.3zM216.3 183.8H220.6V187.3H216.3zM256.4 228.9H260.7V232.4H256.4zM232.3 232.1H236.6V235.6H232.3zM140.3 238.5H144.6V242.1H140.3z"/>
<path fill="#fcc494" d="M236.3 154.8H240.7V158.3H236.3zM248.4 154.8H256.7V158.3H248.4zM240.4 158H244.7V161.6H240.4zM248.4 158H252.7V161.6H248.4zM232.3 161.3H236.6V164.8H232.3zM252.4 161.3H256.7V164.8H252.4zM224.3 164.5H228.6V168H224.3zM232.3 164.5H236.6V168H232.3zM228.3 167.7H232.6V171.2H228.3zM228.3 170.9H236.6V174.4H228.3zM200.3 183.8H208.6V187.3H200.3zM196.3 187H204.6V190.5H196.3zM208.3 187H212.6V190.5H208.3zM244.4 225.7H248.7V229.2H244.4zM252.4 225.7H256.7V229.2H252.4zM136.2 238.5H140.6V242.1H136.2z"/>
<path fill="#fcb46a" d="M220.3 158H224.6V161.6H220.3zM228.3 158H232.6V161.6H228.3zM244.4 167.7H248.7V171.2H244.4zM252.4 238.5H256.7V242.1H252.4z"/>
<path fill="#fcbc7f" d="M224.3 158H228.6V161.6H224.3zM252.4 158H256.7V161.6H252.4zM216.3 161.3H224.6V164.8H216.3zM228.3 161.3H232.6V164.8H228.3zM244.4 161.3H252.7V164.8H244.4zM228.3 164.5H232.6V168H228.3zM240.4 164.5H244.7V168H240.4zM248.4 164.5H252.7V168H248.4zM224.3 170.9H228.6V174.4H224.3zM248.4 225.7H252.7V229.2H248.4zM236.3 228.9H240.7V232.4H236.3zM256.4 232.1H260.7V235.6H256.4zM256.4 235.3H260.7V238.8H256.4z"/>
<path fill="#fba956" d="M224.3 161.3H228.6V164.8H224.3zM236.3 232.1H240.7V235.6H236.3zM236.3 235.3H240.7V238.8H236.3zM244.4 238.5H252.7V242.1H244.4z"/>
<path fill="#3a60f0" d="M368.5 206.3H372.8V209.9H368.5zM344.5 209.6H348.8V213.1H344.5zM376.5 209.6H380.8V213.1H376.5zM336.4 212.8H340.7V216.3H336.4zM332.4 216H336.7V219.5H332.4zM304.4 241.8H308.7V245.3H304.4zM300.4 245H304.7V248.5H300.4zM284.4 251.4H288.7V254.9H284.4zM148.3 264.3H152.6V267.8H148.3zM160.3 264.3H164.6V267.8H160.3zM168.3 264.3H172.6V267.8H168.3zM192.3 264.3H196.6V267.8H192.3zM220.3 264.3H232.6V267.8H220.3zM376.5 267.5H380.8V271H376.5zM372.5 270.7H376.8V274.3H372.5z"/>
<path fill="#283ad9" d="M356.5 209.6H364.8V213.1H356.5zM372.5 209.6H376.8V213.1H372.5zM308.4 241.8H312.7V245.3H308.4zM304.4 245H308.7V248.5H304.4zM300.4 248.2H304.7V251.7H300.4zM292.4 251.4H296.7V254.9H292.4zM284.4 254.6H288.7V258.2H284.4zM136.2 264.3H140.6V267.8H136.2zM200.3 264.3H204.6V267.8H200.3zM176.3 267.5H180.6V271H176.3z"/>
<path fill="#2430cd" d="M364.5 209.6H372.8V213.1H364.5zM344.5 212.8H348.8V216.3H344.5zM380.5 212.8H396.8V216.3H380.5zM336.4 216H340.7V219.5H336.4zM288.4 254.6H292.7V258.2H288.4zM276.4 257.9H280.7V261.4H276.4zM260.4 261.1H268.7V264.6H260.4z"/>
<path fill="#2128be" d="M340.4 212.8H344.8V216.3H340.4zM348.5 212.8H352.8V216.3H348.5zM376.5 212.8H380.8V216.3H376.5zM332.4 219.2H336.7V222.7H332.4zM328.4 222.4H332.7V226H328.4zM324.4 225.7H328.7V229.2H324.4zM316.4 235.3H320.7V238.8H316.4zM312.4 238.5H316.7V242.1H312.4zM296.4 251.4H300.7V254.9H296.4zM280.4 257.9H284.7V261.4H280.4zM268.4 261.1H272.7V264.6H268.4z"/>
<path fill="#1e20b0" d="M352.5 212.8H356.8V216.3H352.5zM356.5 212.8H364.8V216.3H356.5zM364.5 212.8H372.8V216.3H364.5zM372.5 212.8H376.8V216.3H372.5zM340.4 216H344.8V219.5H340.4zM344.5 216H368.8V219.5H344.5zM368.5 216H396.8V219.5H368.5zM336.4 219.2H356.8V222.7H336.4zM356.5 219.2H396.8V222.7H356.5zM332.4 222.4H336.7V226H332.4zM336.4 222.4H396.8V226H336.4zM328.4 225.7H396.8V229.2H328.4zM324.4 228.9H396.8V232.4H324.4zM320.4 232.1H324.7V235.6H320.4zM324.4 232.1H396.8V235.6H324.4zM320.4 235.3H396.8V238.8H320.4zM316.4 238.5H396.8V242.1H316.4zM312.4 241.8H396.8V245.3H312.4zM308.4 245H312.7V248.5H308.4zM312.4 245H396.8V248.5H312.4zM304.4 248.2H396.8V251.7H304.4zM300.4 251.4H396.8V254.9H300.4zM292.4 254.6H296.7V258.2H292.4zM296.4 254.6H392.8V258.2H296.4zM284.4 257.9H288.7V261.4H284.4zM288.4 257.9H388.8V261.4H288.4zM272.4 261.1H276.7V264.6H272.4zM276.4 261.1H384.8V264.6H276.4zM240.4 264.3H248.7V267.8H240.4zM248.4 264.3H252.7V267.8H248.4zM252.4 264.3H380.8V267.8H252.4zM136.2 267.5H172.6V271H136.2zM180.3 267.5H212.6V271H180.3zM220.3 267.5H224.6V271H220.3zM224.3 267.5H372.8V271H224.3zM372.5 267.5H376.8V271H372.5zM136.2 270.7H212.6V274.3H136.2zM212.3 270.7H216.6V274.3H212.3zM216.3 270.7H220.6V274.3H216.3zM220.3 270.7H368.8V274.3H220.3zM368.5 270.7H372.8V274.3H368.5zM136.2 274H364.8V277.5H136.2zM364.5 274H368.8V277.5H364.5zM136.2 277.2H360.8V280.7H136.2zM360.5 277.2H364.8V280.7H360.5z"/>
<path fill="#2b45e4" d="M328.4 219.2H332.7V222.7H328.4zM320.4 228.9H324.7V232.4H320.4zM280.4 254.6H284.7V258.2H280.4zM392.5 254.6H396.8V258.2H392.5zM268.4 257.9H276.7V261.4H268.4zM388.5 257.9H392.8V261.4H388.5zM252.4 261.1H260.7V264.6H252.4zM384.5 261.1H388.8V264.6H384.5zM144.3 264.3H148.6V267.8H144.3zM156.3 264.3H160.6V267.8H156.3zM196.3 264.3H200.6V267.8H196.3zM204.3 264.3H208.6V267.8H204.3zM236.3 264.3H240.7V267.8H236.3zM172.3 267.5H176.6V271H172.3z"/>
<path fill="#f89a43" d="M240.4 228.9H244.7V232.4H240.4zM248.4 228.9H256.7V232.4H248.4z"/>
<path fill="#eb661d" d="M244.4 228.9H248.7V232.4H244.4zM240.4 232.1H244.7V235.6H240.4zM248.4 235.3H252.7V238.8H248.4z"/>
<path fill="#f07926" d="M244.4 232.1H248.7V235.6H244.4zM252.4 235.3H256.7V238.8H252.4z"/>
<path fill="#e35216" d="M248.4 232.1H252.7V235.6H248.4z"/>
<path fill="#f68c30" d="M252.4 232.1H256.7V235.6H252.4zM240.4 235.3H244.7V238.8H240.4zM240.4 238.5H244.7V242.1H240.4z"/>
<path fill="#da3f12" d="M244.4 235.3H248.7V238.8H244.4z"/>
<path fill="none" stroke="#cfc9cf" stroke-opacity="0.7" stroke-width="0.5" d="M216.6 119.7h3.4v2.65h-3.4zM220.6 119.7h3.4v2.65h-3.4zM252.7 119.7h3.4v2.65h-3.4zM256.7 119.7h3.4v2.65h-3.4zM260.7 119.7h3.4v2.65h-3.4zM264.7 119.7h3.4v2.65h-3.4zM268.7 119.7h3.4v2.65h-3.4zM272.7 119.7h3.4v2.65h-3.4zM276.7 119.7h3.4v2.65h-3.4zM280.7 119.7h3.4v2.65h-3.4zM284.7 119.7h3.4v2.65h-3.4zM288.7 119.7h3.4v2.65h-3.4zM296.7 119.7h3.4v2.65h-3.4zM300.7 119.7h3.4v2.65h-3.4zM304.7 119.7h3.4v2.65h-3.4zM308.7 119.7h3.4v2.65h-3.4zM312.7 119.7h3.4v2.65h-3.4zM316.7 119.7h3.4v2.65h-3.4zM324.7 119.7h3.4v2.65h-3.4zM328.7 119.7h3.4v2.65h-3.4zM332.7 119.7h3.4v2.65h-3.4zM336.7 119.7h3.4v2.65h-3.4zM340.7 119.7h3.4v2.65h-3.4zM344.8 119.7h3.4v2.65h-3.4zM348.8 119.7h3.4v2.65h-3.4zM352.8 119.7h3.4v2.65h-3.4zM356.8 119.7h3.4v2.65h-3.4zM360.8 119.7h3.4v2.65h-3.4zM364.8 119.7h3.4v2.65h-3.4zM368.8 119.7h3.4v2.65h-3.4zM372.8 119.7h3.4v2.65h-3.4zM376.8 119.7h3.4v2.65h-3.4zM380.8 119.7h3.4v2.65h-3.4zM384.8 119.7h3.4v2.65h-3.4zM388.8 119.7h3.4v2.65h-3.4zM392.8 119.7h3.4v2.65h-3.4zM212.6 122.9h3.4v2.65h-3.4zM252.7 122.9h3.4v2.65h-3.4zM256.7 122.9h3.4v2.65h-3.4zM260.7 122.9h3.4v2.65h-3.4zM264.7 122.9h3.4v2.65h-3.4zM268.7 122.9h3.4v2.65h-3.4zM272.7 122.9h3.4v2.65h-3.4zM280.7 122.9h3.4v2.65h-3.4zM284.7 122.9h3.4v2.65h-3.4zM288.7 122.9h3.4v2.65h-3.4zM292.7 122.9h3.4v2.65h-3.4zM296.7 122.9h3.4v2.65h-3.4zM300.7 122.9h3.4v2.65h-3.4zM304.7 122.9h3.4v2.65h-3.4zM308.7 122.9h3.4v2.65h-3.4zM312.7 122.9h3.4v2.65h-3.4zM316.7 122.9h3.4v2.65h-3.4zM320.7 122.9h3.4v2.65h-3.4zM324.7 122.9h3.4v2.65h-3.4zM328.7 122.9h3.4v2.65h-3.4zM332.7 122.9h3.4v2.65h-3.4zM336.7 122.9h3.4v2.65h-3.4zM340.7 122.9h3.4v2.65h-3.4zM344.8 122.9h3.4v2.65h-3.4zM348.8 122.9h3.4v2.65h-3.4zM352.8 122.9h3.4v2.65h-3.4zM356.8 122.9h3.4v2.65h-3.4zM360.8 122.9h3.4v2.65h-3.4zM364.8 122.9h3.4v2.65h-3.4zM372.8 122.9h3.4v2.65h-3.4zM376.8 122.9h3.4v2.65h-3.4zM380.8 122.9h3.4v2.65h-3.4zM384.8 122.9h3.4v2.65h-3.4zM388.8 122.9h3.4v2.65h-3.4zM392.8 122.9h3.4v2.65h-3.4zM252.7 126.1h3.4v2.65h-3.4zM256.7 126.1h3.4v2.65h-3.4zM260.7 126.1h3.4v2.65h-3.4zM264.7 126.1h3.4v2.65h-3.4zM268.7 126.1h3.4v2.65h-3.4zM272.7 126.1h3.4v2.65h-3.4zM276.7 126.1h3.4v2.65h-3.4zM280.7 126.1h3.4v2.65h-3.4zM284.7 126.1h3.4v2.65h-3.4zM288.7 126.1h3.4v2.65h-3.4zM292.7 126.1h3.4v2.65h-3.4zM296.7 126.1h3.4v2.65h-3.4zM304.7 126.1h3.4v2.65h-3.4zM308.7 126.1h3.4v2.65h-3.4zM312.7 126.1h3.4v2.65h-3.4zM316.7 126.1h3.4v2.65h-3.4zM320.7 126.1h3.4v2.65h-3.4zM324.7 126.1h3.4v2.65h-3.4zM328.7 126.1h3.4v2.65h-3.4zM332.7 126.1h3.4v2.65h-3.4zM336.7 126.1h3.4v2.65h-3.4zM340.7 126.1h3.4v2.65h-3.4zM344.8 126.1h3.4v2.65h-3.4zM348.8 126.1h3.4v2.65h-3.4zM352.8 126.1h3.4v2.65h-3.4zM356.8 126.1h3.4v2.65h-3.4zM364.8 126.1h3.4v2.65h-3.4zM368.8 126.1h3.4v2.65h-3.4zM372.8 126.1h3.4v2.65h-3.4zM376.8 126.1h3.4v2.65h-3.4zM380.8 126.1h3.4v2.65h-3.4zM384.8 126.1h3.4v2.65h-3.4zM388.8 126.1h3.4v2.65h-3.4zM392.8 126.1h3.4v2.65h-3.4zM252.7 129.4h3.4v2.65h-3.4zM256.7 129.4h3.4v2.65h-3.4zM260.7 129.4h3.4v2.65h-3.4zM264.7 129.4h3.4v2.65h-3.4zM268.7 129.4h3.4v2.65h-3.4zM272.7 129.4h3.4v2.65h-3.4zM276.7 129.4h3.4v2.65h-3.4zM280.7 129.4h3.4v2.65h-3.4zM284.7 129.4h3.4v2.65h-3.4zM288.7 129.4h3.4v2.65h-3.4zM292.7 129.4h3.4v2.65h-3.4zM296.7 129.4h3.4v2.65h-3.4zM300.7 129.4h3.4v2.65h-3.4zM304.7 129.4h3.4v2.65h-3.4zM308.7 129.4h3.4v2.65h-3.4zM312.7 129.4h3.4v2.65h-3.4zM316.7 129.4h3.4v2.65h-3.4zM320.7 129.4h3.4v2.65h-3.4zM324.7 129.4h3.4v2.65h-3.4zM328.7 129.4h3.4v2.65h-3.4zM332.7 129.4h3.4v2.65h-3.4zM336.7 129.4h3.4v2.65h-3.4zM340.7 129.4h3.4v2.65h-3.4zM344.8 129.4h3.4v2.65h-3.4zM348.8 129.4h3.4v2.65h-3.4zM352.8 129.4h3.4v2.65h-3.4zM356.8 129.4h3.4v2.65h-3.4zM360.8 129.4h3.4v2.65h-3.4zM364.8 129.4h3.4v2.65h-3.4zM368.8 129.4h3.4v2.65h-3.4zM372.8 129.4h3.4v2.65h-3.4zM376.8 129.4h3.4v2.65h-3.4zM380.8 129.4h3.4v2.65h-3.4zM384.8 129.4h3.4v2.65h-3.4zM388.8 129.4h3.4v2.65h-3.4zM392.8 129.4h3.4v2.65h-3.4zM220.6 132.6h3.4v2.65h-3.4zM224.6 132.6h3.4v2.65h-3.4zM228.6 132.6h3.4v2.65h-3.4zM232.6 132.6h3.4v2.65h-3.4zM236.6 132.6h3.4v2.65h-3.4zM244.7 132.6h3.4v2.65h-3.4zM248.7 132.6h3.4v2.65h-3.4zM252.7 132.6h3.4v2.65h-3.4zM256.7 132.6h3.4v2.65h-3.4zM260.7 132.6h3.4v2.65h-3.4zM264.7 132.6h3.4v2.65h-3.4zM268.7 132.6h3.4v2.65h-3.4zM272.7 132.6h3.4v2.65h-3.4zM276.7 132.6h3.4v2.65h-3.4zM280.7 132.6h3.4v2.65h-3.4zM284.7 132.6h3.4v2.65h-3.4zM288.7 132.6h3.4v2.65h-3.4zM292.7 132.6h3.4v2.65h-3.4zM296.7 132.6h3.4v2.65h-3.4zM300.7 132.6h3.4v2.65h-3.4zM304.7 132.6h3.4v2.65h-3.4zM308.7 132.6h3.4v2.65h-3.4zM312.7 132.6h3.4v2.65h-3.4zM316.7 132.6h3.4v2.65h-3.4zM320.7 132.6h3.4v2.65h-3.4zM324.7 132.6h3.4v2.65h-3.4zM328.7 132.6h3.4v2.65h-3.4zM332.7 132.6h3.4v2.65h-3.4zM336.7 132.6h3.4v2.65h-3.4zM344.8 132.6h3.4v2.65h-3.4zM348.8 132.6h3.4v2.65h-3.4zM352.8 132.6h3.4v2.65h-3.4zM356.8 132.6h3.4v2.65h-3.4zM360.8 132.6h3.4v2.65h-3.4zM364.8 132.6h3.4v2.65h-3.4zM368.8 132.6h3.4v2.65h-3.4zM372.8 132.6h3.4v2.65h-3.4zM376.8 132.6h3.4v2.65h-3.4zM384.8 132.6h3.4v2.65h-3.4zM388.8 132.6h3.4v2.65h-3.4zM392.8 132.6h3.4v2.65h-3.4zM216.6 135.8h3.4v2.65h-3.4zM220.6 135.8h3.4v2.65h-3.4zM228.6 135.8h3.4v2.65h-3.4zM244.7 135.8h3.4v2.65h-3.4zM248.7 135.8h3.4v2.65h-3.4zM252.7 135.8h3.4v2.65h-3.4zM256.7 135.8h3.4v2.65h-3.4zM260.7 135.8h3.4v2.65h-3.4zM264.7 135.8h3.4v2.65h-3.4zM268.7 135.8h3.4v2.65h-3.4zM272.7 135.8h3.4v2.65h-3.4zM276.7 135.8h3.4v2.65h-3.4zM280.7 135.8h3.4v2.65h-3.4zM284.7 135.8h3.4v2.65h-3.4zM288.7 135.8h3.4v2.65h-3.4zM292.7 135.8h3.4v2.65h-3.4zM296.7 135.8h3.4v2.65h-3.4zM300.7 135.8h3.4v2.65h-3.4zM304.7 135.8h3.4v2.65h-3.4zM308.7 135.8h3.4v2.65h-3.4zM312.7 135.8h3.4v2.65h-3.4zM316.7 135.8h3.4v2.65h-3.4zM320.7 135.8h3.4v2.65h-3.4zM324.7 135.8h3.4v2.65h-3.4zM328.7 135.8h3.4v2.65h-3.4zM332.7 135.8h3.4v2.65h-3.4zM336.7 135.8h3.4v2.65h-3.4zM340.7 135.8h3.4v2.65h-3.4zM344.8 135.8h3.4v2.65h-3.4zM348.8 135.8h3.4v2.65h-3.4zM356.8 135.8h3.4v2.65h-3.4zM360.8 135.8h3.4v2.65h-3.4zM364.8 135.8h3.4v2.65h-3.4zM368.8 135.8h3.4v2.65h-3.4zM372.8 135.8h3.4v2.65h-3.4zM376.8 135.8h3.4v2.65h-3.4zM380.8 135.8h3.4v2.65h-3.4zM384.8 135.8h3.4v2.65h-3.4zM388.8 135.8h3.4v2.65h-3.4zM392.8 135.8h3.4v2.65h-3.4zM216.6 139h3.4v2.65h-3.4zM220.6 139h3.4v2.65h-3.4zM224.6 139h3.4v2.65h-3.4zM228.6 139h3.4v2.65h-3.4zM232.6 139h3.4v2.65h-3.4zM240.7 139h3.4v2.65h-3.4zM252.7 139h3.4v2.65h-3.4zM256.7 139h3.4v2.65h-3.4zM260.7 139h3.4v2.65h-3.4zM264.7 139h3.4v2.65h-3.4zM268.7 139h3.4v2.65h-3.4zM272.7 139h3.4v2.65h-3.4zM276.7 139h3.4v2.65h-3.4zM280.7 139h3.4v2.65h-3.4zM284.7 139h3.4v2.65h-3.4zM288.7 139h3.4v2.65h-3.4zM292.7 139h3.4v2.65h-3.4zM296.7 139h3.4v2.65h-3.4zM300.7 139h3.4v2.65h-3.4zM304.7 139h3.4v2.65h-3.4zM308.7 139h3.4v2.65h-3.4zM312.7 139h3.4v2.65h-3.4zM316.7 139h3.4v2.65h-3.4zM320.7 139h3.4v2.65h-3.4zM324.7 139h3.4v2.65h-3.4zM328.7 139h3.4v2.65h-3.4zM332.7 139h3.4v2.65h-3.4zM336.7 139h3.4v2.65h-3.4zM340.7 139h3.4v2.65h-3.4zM344.8 139h3.4v2.65h-3.4zM348.8 139h3.4v2.65h-3.4zM352.8 139h3.4v2.65h-3.4zM360.8 139h3.4v2.65h-3.4zM364.8 139h3.4v2.65h-3.4zM368.8 139h3.4v2.65h-3.4zM372.8 139h3.4v2.65h-3.4zM376.8 139h3.4v2.65h-3.4zM380.8 139h3.4v2.65h-3.4zM384.8 139h3.4v2.65h-3.4zM388.8 139h3.4v2.65h-3.4zM392.8 139h3.4v2.65h-3.4zM228.6 142.2h3.4v2.65h-3.4zM236.6 142.2h3.4v2.65h-3.4zM244.7 142.2h3.4v2.65h-3.4zM252.7 142.2h3.4v2.65h-3.4zM256.7 142.2h3.4v2.65h-3.4zM260.7 142.2h3.4v2.65h-3.4zM264.7 142.2h3.4v2.65h-3.4zM268.7 142.2h3.4v2.65h-3.4zM272.7 142.2h3.4v2.65h-3.4zM276.7 142.2h3.4v2.65h-3.4zM280.7 142.2h3.4v2.65h-3.4zM284.7 142.2h3.4v2.65h-3.4zM288.7 142.2h3.4v2.65h-3.4zM292.7 142.2h3.4v2.65h-3.4zM296.7 142.2h3.4v2.65h-3.4zM300.7 142.2h3.4v2.65h-3.4zM304.7 142.2h3.4v2.65h-3.4zM308.7 142.2h3.4v2.65h-3.4zM312.7 142.2h3.4v2.65h-3.4zM316.7 142.2h3.4v2.65h-3.4zM320.7 142.2h3.4v2.65h-3.4zM324.7 142.2h3.4v2.65h-3.4zM328.7 142.2h3.4v2.65h-3.4zM332.7 142.2h3.4v2.65h-3.4zM336.7 142.2h3.4v2.65h-3.4zM340.7 142.2h3.4v2.65h-3.4zM344.8 142.2h3.4v2.65h-3.4zM348.8 142.2h3.4v2.65h-3.4zM352.8 142.2h3.4v2.65h-3.4zM356.8 142.2h3.4v2.65h-3.4zM360.8 142.2h3.4v2.65h-3.4zM368.8 142.2h3.4v2.65h-3.4zM372.8 142.2h3.4v2.65h-3.4zM376.8 142.2h3.4v2.65h-3.4zM380.8 142.2h3.4v2.65h-3.4zM384.8 142.2h3.4v2.65h-3.4zM388.8 142.2h3.4v2.65h-3.4zM392.8 142.2h3.4v2.65h-3.4zM220.6 145.5h3.4v2.65h-3.4zM224.6 145.5h3.4v2.65h-3.4zM232.6 145.5h3.4v2.65h-3.4zM236.6 145.5h3.4v2.65h-3.4zM248.7 145.5h3.4v2.65h-3.4zM252.7 145.5h3.4v2.65h-3.4zM256.7 145.5h3.4v2.65h-3.4zM260.7 145.5h3.4v2.65h-3.4zM264.7 145.5h3.4v2.65h-3.4zM268.7 145.5h3.4v2.65h-3.4zM272.7 145.5h3.4v2.65h-3.4zM276.7 145.5h3.4v2.65h-3.4zM280.7 145.5h3.4v2.65h-3.4zM284.7 145.5h3.4v2.65h-3.4zM288.7 145.5h3.4v2.65h-3.4zM292.7 145.5h3.4v2.65h-3.4zM296.7 145.5h3.4v2.65h-3.4zM300.7 145.5h3.4v2.65h-3.4zM304.7 145.5h3.4v2.65h-3.4zM308.7 145.5h3.4v2.65h-3.4zM312.7 145.5h3.4v2.65h-3.4zM316.7 145.5h3.4v2.65h-3.4zM320.7 145.5h3.4v2.65h-3.4zM324.7 145.5h3.4v2.65h-3.4zM328.7 145.5h3.4v2.65h-3.4zM332.7 145.5h3.4v2.65h-3.4zM336.7 145.5h3.4v2.65h-3.4zM340.7 145.5h3.4v2.65h-3.4zM344.8 145.5h3.4v2.65h-3.4zM348.8 145.5h3.4v2.65h-3.4zM352.8 145.5h3.4v2.65h-3.4zM356.8 145.5h3.4v2.65h-3.4zM360.8 145.5h3.4v2.65h-3.4zM364.8 145.5h3.4v2.65h-3.4zM368.8 145.5h3.4v2.65h-3.4zM372.8 145.5h3.4v2.65h-3.4zM376.8 145.5h3.4v2.65h-3.4zM380.8 145.5h3.4v2.65h-3.4zM384.8 145.5h3.4v2.65h-3.4zM388.8 145.5h3.4v2.65h-3.4zM392.8 145.5h3.4v2.65h-3.4zM204.6 148.7h3.4v2.65h-3.4zM208.6 148.7h3.4v2.65h-3.4zM212.6 148.7h3.4v2.65h-3.4zM216.6 148.7h3.4v2.65h-3.4zM220.6 148.7h3.4v2.65h-3.4zM224.6 148.7h3.4v2.65h-3.4zM228.6 148.7h3.4v2.65h-3.4zM232.6 148.7h3.4v2.65h-3.4zM236.6 148.7h3.4v2.65h-3.4zM240.7 148.7h3.4v2.65h-3.4zM244.7 148.7h3.4v2.65h-3.4zM248.7 148.7h3.4v2.65h-3.4zM252.7 148.7h3.4v2.65h-3.4zM256.7 148.7h3.4v2.65h-3.4zM260.7 148.7h3.4v2.65h-3.4zM264.7 148.7h3.4v2.65h-3.4zM268.7 148.7h3.4v2.65h-3.4zM272.7 148.7h3.4v2.65h-3.4zM276.7 148.7h3.4v2.65h-3.4zM280.7 148.7h3.4v2.65h-3.4zM284.7 148.7h3.4v2.65h-3.4zM288.7 148.7h3.4v2.65h-3.4zM292.7 148.7h3.4v2.65h-3.4zM296.7 148.7h3.4v2.65h-3.4zM300.7 148.7h3.4v2.65h-3.4zM308.7 148.7h3.4v2.65h-3.4zM312.7 148.7h3.4v2.65h-3.4zM316.7 148.7h3.4v2.65h-3.4zM320.7 148.7h3.4v2.65h-3.4zM324.7 148.7h3.4v2.65h-3.4zM328.7 148.7h3.4v2.65h-3.4zM332.7 148.7h3.4v2.65h-3.4zM336.7 148.7h3.4v2.65h-3.4zM340.7 148.7h3.4v2.65h-3.4zM344.8 148.7h3.4v2.65h-3.4zM348.8 148.7h3.4v2.65h-3.4zM352.8 148.7h3.4v2.65h-3.4zM356.8 148.7h3.4v2.65h-3.4zM364.8 148.7h3.4v2.65h-3.4zM368.8 148.7h3.4v2.65h-3.4zM372.8 148.7h3.4v2.65h-3.4zM376.8 148.7h3.4v2.65h-3.4zM380.8 148.7h3.4v2.65h-3.4zM384.8 148.7h3.4v2.65h-3.4zM388.8 148.7h3.4v2.65h-3.4zM392.8 148.7h3.4v2.65h-3.4zM208.6 151.9h3.4v2.65h-3.4zM212.6 151.9h3.4v2.65h-3.4zM220.6 151.9h3.4v2.65h-3.4zM224.6 151.9h3.4v2.65h-3.4zM228.6 151.9h3.4v2.65h-3.4zM232.6 151.9h3.4v2.65h-3.4zM236.6 151.9h3.4v2.65h-3.4zM240.7 151.9h3.4v2.65h-3.4zM244.7 151.9h3.4v2.65h-3.4zM248.7 151.9h3.4v2.65h-3.4zM252.7 151.9h3.4v2.65h-3.4zM256.7 151.9h3.4v2.65h-3.4zM260.7 151.9h3.4v2.65h-3.4zM264.7 151.9h3.4v2.65h-3.4zM268.7 151.9h3.4v2.65h-3.4zM272.7 151.9h3.4v2.65h-3.4zM276.7 151.9h3.4v2.65h-3.4zM280.7 151.9h3.4v2.65h-3.4zM284.7 151.9h3.4v2.65h-3.4zM288.7 151.9h3.4v2.65h-3.4zM292.7 151.9h3.4v2.65h-3.4zM296.7 151.9h3.4v2.65h-3.4zM300.7 151.9h3.4v2.65h-3.4zM304.7 151.9h3.4v2.65h-3.4zM308.7 151.9h3.4v2.65h-3.4zM312.7 151.9h3.4v2.65h-3.4zM316.7 151.9h3.4v2.65h-3.4zM320.7 151.9h3.4v2.65h-3.4zM324.7 151.9h3.4v2.65h-3.4zM328.7 151.9h3.4v2.65h-3.4zM332.7 151.9h3.4v2.65h-3.4zM336.7 151.9h3.4v2.65h-3.4zM340.7 151.9h3.4v2.65h-3.4zM344.8 151.9h3.4v2.65h-3.4zM348.8 151.9h3.4v2.65h-3.4zM352.8 151.9h3.4v2.65h-3.4zM356.8 151.9h3.4v2.65h-3.4zM360.8 151.9h3.4v2.65h-3.4zM364.8 151.9h3.4v2.65h-3.4zM368.8 151.9h3.4v2.65h-3.4zM376.8 151.9h3.4v2.65h-3.4zM380.8 151.9h3.4v2.65h-3.4zM384.8 151.9h3.4v2.65h-3.4zM388.8 151.9h3.4v2.65h-3.4zM392.8 151.9h3.4v2.65h-3.4zM204.6 155.1h3.4v2.65h-3.4zM208.6 155.1h3.4v2.65h-3.4zM212.6 155.1h3.4v2.65h-3.4zM216.6 155.1h3.4v2.65h-3.4zM220.6 155.1h3.4v2.65h-3.4zM224.6 155.1h3.4v2.65h-3.4zM228.6 155.1h3.4v2.65h-3.4zM232.6 155.1h3.4v2.65h-3.4zM236.6 155.1h3.4v2.65h-3.4zM240.7 155.1h3.4v2.65h-3.4zM244.7 155.1h3.4v2.65h-3.4zM252.7 155.1h3.4v2.65h-3.4zM256.7 155.1h3.4v2.65h-3.4zM260.7 155.1h3.4v2.65h-3.4zM264.7 155.1h3.4v2.65h-3.4zM268.7 155.1h3.4v2.65h-3.4zM272.7 155.1h3.4v2.65h-3.4zM276.7 155.1h3.4v2.65h-3.4zM280.7 155.1h3.4v2.65h-3.4zM284.7 155.1h3.4v2.65h-3.4zM288.7 155.1h3.4v2.65h-3.4zM292.7 155.1h3.4v2.65h-3.4zM296.7 155.1h3.4v2.65h-3.4zM300.7 155.1h3.4v2.65h-3.4zM304.7 155.1h3.4v2.65h-3.4zM308.7 155.1h3.4v2.65h-3.4zM312.7 155.1h3.4v2.65h-3.4zM316.7 155.1h3.4v2.65h-3.4zM320.7 155.1h3.4v2.65h-3.4zM324.7 155.1h3.4v2.65h-3.4zM328.7 155.1h3.4v2.65h-3.4zM332.7 155.1h3.4v2.65h-3.4zM336.7 155.1h3.4v2.65h-3.4zM340.7 155.1h3.4v2.65h-3.4zM344.8 155.1h3.4v2.65h-3.4zM348.8 155.1h3.4v2.65h-3.4zM352.8 155.1h3.4v2.65h-3.4zM356.8 155.1h3.4v2.65h-3.4zM360.8 155.1h3.4v2.65h-3.4zM364.8 155.1h3.4v2.65h-3.4zM368.8 155.1h3.4v2.65h-3.4zM372.8 155.1h3.4v2.65h-3.4zM376.8 155.1h3.4v2.65h-3.4zM380.8 155.1h3.4v2.65h-3.4zM384.8 155.1h3.4v2.65h-3.4zM388.8 155.1h3.4v2.65h-3.4zM392.8 155.1h3.4v2.65h-3.4zM204.6 158.3h3.4v2.65h-3.4zM208.6 158.3h3.4v2.65h-3.4zM220.6 158.3h3.4v2.65h-3.4zM224.6 158.3h3.4v2.65h-3.4zM228.6 158.3h3.4v2.65h-3.4zM232.6 158.3h3.4v2.65h-3.4zM236.6 158.3h3.4v2.65h-3.4zM240.7 158.3h3.4v2.65h-3.4zM244.7 158.3h3.4v2.65h-3.4zM248.7 158.3h3.4v2.65h-3.4zM252.7 158.3h3.4v2.65h-3.4zM256.7 158.3h3.4v2.65h-3.4zM260.7 158.3h3.4v2.65h-3.4zM264.7 158.3h3.4v2.65h-3.4zM268.7 158.3h3.4v2.65h-3.4zM272.7 158.3h3.4v2.65h-3.4zM276.7 158.3h3.4v2.65h-3.4zM280.7 158.3h3.4v2.65h-3.4zM284.7 158.3h3.4v2.65h-3.4zM288.7 158.3h3.4v2.65h-3.4zM292.7 158.3h3.4v2.65h-3.4zM296.7 158.3h3.4v2.65h-3.4zM300.7 158.3h3.4v2.65h-3.4zM304.7 158.3h3.4v2.65h-3.4zM308.7 158.3h3.4v2.65h-3.4zM312.7 158.3h3.4v2.65h-3.4zM316.7 158.3h3.4v2.65h-3.4zM320.7 158.3h3.4v2.65h-3.4zM324.7 158.3h3.4v2.65h-3.4zM328.7 158.3h3.4v2.65h-3.4zM332.7 158.3h3.4v2.65h-3.4zM336.7 158.3h3.4v2.65h-3.4zM340.7 158.3h3.4v2.65h-3.4zM344.8 158.3h3.4v2.65h-3.4zM348.8 158.3h3.4v2.65h-3.4zM352.8 158.3h3.4v2.65h-3.4zM356.8 158.3h3.4v2.65h-3.4zM360.8 158.3h3.4v2.65h-3.4zM364.8 158.3h3.4v2.65h-3.4zM368.8 158.3h3.4v2.65h-3.4zM372.8 158.3h3.4v2.65h-3.4zM380.8 158.3h3.4v2.65h-3.4zM384.8 158.3h3.4v2.65h-3.4zM388.8 158.3h3.4v2.65h-3.4zM392.8 158.3h3.4v2.65h-3.4zM208.6 161.6h3.4v2.65h-3.4zM212.6 161.6h3.4v2.65h-3.4zM216.6 161.6h3.4v2.65h-3.4zM220.6 161.6h3.4v2.65h-3.4zM228.6 161.6h3.4v2.65h-3.4zM232.6 161.6h3.4v2.65h-3.4zM236.6 161.6h3.4v2.65h-3.4zM240.7 161.6h3.4v2.65h-3.4zM244.7 161.6h3.4v2.65h-3.4zM248.7 161.6h3.4v2.65h-3.4zM252.7 161.6h3.4v2.65h-3.4zM256.7 161.6h3.4v2.65h-3.4zM260.7 161.6h3.4v2.65h-3.4zM264.7 161.6h3.4v2.65h-3.4zM268.7 161.6h3.4v2.65h-3.4zM272.7 161.6h3.4v2.65h-3.4zM276.7 161.6h3.4v2.65h-3.4zM280.7 161.6h3.4v2.65h-3.4zM284.7 161.6h3.4v2.65h-3.4zM288.7 161.6h3.4v2.65h-3.4zM292.7 161.6h3.4v2.65h-3.4zM296.7 161.6h3.4v2.65h-3.4zM300.7 161.6h3.4v2.65h-3.4zM304.7 161.6h3.4v2.65h-3.4zM308.7 161.6h3.4v2.65h-3.4zM312.7 161.6h3.4v2.65h-3.4zM316.7 161.6h3.4v2.65h-3.4zM320.7 161.6h3.4v2.65h-3.4zM324.7 161.6h3.4v2.65h-3.4zM328.7 161.6h3.4v2.65h-3.4zM332.7 161.6h3.4v2.65h-3.4zM336.7 161.6h3.4v2.65h-3.4zM340.7 161.6h3.4v2.65h-3.4zM344.8 161.6h3.4v2.65h-3.4zM348.8 161.6h3.4v2.65h-3.4zM352.8 161.6h3.4v2.65h-3.4zM356.8 161.6h3.4v2.65h-3.4zM360.8 161.6h3.4v2.65h-3.4zM364.8 161.6h3.4v2.65h-3.4zM368.8 161.6h3.4v2.65h-3.4zM372.8 161.6h3.4v2.65h-3.4zM376.8 161.6h3.4v2.65h-3.4zM380.8 161.6h3.4v2.65h-3.4zM384.8 161.6h3.4v2.65h-3.4zM388.8 161.6h3.4v2.65h-3.4zM392.8 161.6h3.4v2.65h-3.4zM204.6 164.8h3.4v2.65h-3.4zM208.6 164.8h3.4v2.65h-3.4zM212.6 164.8h3.4v2.65h-3.4zM216.6 164.8h3.4v2.65h-3.4zM220.6 164.8h3.4v2.65h-3.4zM224.6 164.8h3.4v2.65h-3.4zM232.6 164.8h3.4v2.65h-3.4zM236.6 164.8h3.4v2.65h-3.4zM240.7 164.8h3.4v2.65h-3.4zM244.7 164.8h3.4v2.65h-3.4zM248.7 164.8h3.4v2.65h-3.4zM252.7 164.8h3.4v2.65h-3.4zM256.7 164.8h3.4v2.65h-3.4zM260.7 164.8h3.4v2.65h-3.4zM264.7 164.8h3.4v2.65h-3.4zM268.7 164.8h3.4v2.65h-3.4zM272.7 164.8h3.4v2.65h-3.4zM276.7 164.8h3.4v2.65h-3.4zM280.7 164.8h3.4v2.65h-3.4zM284.7 164.8h3.4v2.65h-3.4zM288.7 164.8h3.4v2.65h-3.4zM292.7 164.8h3.4v2.65h-3.4zM296.7 164.8h3.4v2.65h-3.4zM300.7 164.8h3.4v2.65h-3.4zM304.7 164.8h3.4v2.65h-3.4zM308.7 164.8h3.4v2.65h-3.4zM316.7 164.8h3.4v2.65h-3.4zM320.7 164.8h3.4v2.65h-3.4zM324.7 164.8h3.4v2.65h-3.4zM328.7 164.8h3.4v2.65h-3.4zM332.7 164.8h3.4v2.65h-3.4zM336.7 164.8h3.4v2.65h-3.4zM344.8 164.8h3.4v2.65h-3.4zM348.8 164.8h3.4v2.65h-3.4zM372.8 164.8h3.4v2.65h-3.4zM376.8 164.8h3.4v2.65h-3.4zM388.8 164.8h3.4v2.65h-3.4zM204.6 168h3.4v2.65h-3.4zM212.6 168h3.4v2.65h-3.4zM216.6 168h3.4v2.65h-3.4zM220.6 168h3.4v2.65h-3.4zM224.6 168h3.4v2.65h-3.4zM228.6 168h3.4v2.65h-3.4zM232.6 168h3.4v2.65h-3.4zM236.6 168h3.4v2.65h-3.4zM244.7 168h3.4v2.65h-3.4zM252.7 168h3.4v2.65h-3.4zM256.7 168h3.4v2.65h-3.4zM260.7 168h3.4v2.65h-3.4zM264.7 168h3.4v2.65h-3.4zM272.7 168h3.4v2.65h-3.4zM276.7 168h3.4v2.65h-3.4zM280.7 168h3.4v2.65h-3.4zM284.7 168h3.4v2.65h-3.4zM288.7 168h3.4v2.65h-3.4zM292.7 168h3.4v2.65h-3.4zM296.7 168h3.4v2.65h-3.4zM300.7 168h3.4v2.65h-3.4zM304.7 168h3.4v2.65h-3.4zM312.7 168h3.4v2.65h-3.4zM316.7 168h3.4v2.65h-3.4zM320.7 168h3.4v2.65h-3.4zM324.7 168h3.4v2.65h-3.4zM328.7 168h3.4v2.65h-3.4zM332.7 168h3.4v2.65h-3.4zM336.7 168h3.4v2.65h-3.4zM344.8 168h3.4v2.65h-3.4zM348.8 168h3.4v2.65h-3.4zM352.8 168h3.4v2.65h-3.4zM356.8 168h3.4v2.65h-3.4zM364.8 168h3.4v2.65h-3.4zM372.8 168h3.4v2.65h-3.4zM376.8 168h3.4v2.65h-3.4zM388.8 168h3.4v2.65h-3.4zM204.6 171.2h3.4v2.65h-3.4zM208.6 171.2h3.4v2.65h-3.4zM212.6 171.2h3.4v2.65h-3.4zM216.6 171.2h3.4v2.65h-3.4zM220.6 171.2h3.4v2.65h-3.4zM224.6 171.2h3.4v2.65h-3.4zM228.6 171.2h3.4v2.65h-3.4zM236.6 171.2h3.4v2.65h-3.4zM244.7 171.2h3.4v2.65h-3.4zM248.7 171.2h3.4v2.65h-3.4zM252.7 171.2h3.4v2.65h-3.4zM256.7 171.2h3.4v2.65h-3.4zM260.7 171.2h3.4v2.65h-3.4zM264.7 171.2h3.4v2.65h-3.4zM268.7 171.2h3.4v2.65h-3.4zM272.7 171.2h3.4v2.65h-3.4zM276.7 171.2h3.4v2.65h-3.4zM284.7 171.2h3.4v2.65h-3.4zM288.7 171.2h3.4v2.65h-3.4zM292.7 171.2h3.4v2.65h-3.4zM296.7 171.2h3.4v2.65h-3.4zM300.7 171.2h3.4v2.65h-3.4zM304.7 171.2h3.4v2.65h-3.4zM308.7 171.2h3.4v2.65h-3.4zM312.7 171.2h3.4v2.65h-3.4zM316.7 171.2h3.4v2.65h-3.4zM324.7 171.2h3.4v2.65h-3.4zM328.7 171.2h3.4v2.65h-3.4zM332.7 171.2h3.4v2.65h-3.4zM340.7 171.2h3.4v2.65h-3.4zM344.8 171.2h3.4v2.65h-3.4zM348.8 171.2h3.4v2.65h-3.4zM352.8 171.2h3.4v2.65h-3.4zM356.8 171.2h3.4v2.65h-3.4zM364.8 171.2h3.4v2.65h-3.4zM372.8 171.2h3.4v2.65h-3.4zM376.8 171.2h3.4v2.65h-3.4zM380.8 171.2h3.4v2.65h-3.4zM388.8 171.2h3.4v2.65h-3.4zM392.8 171.2h3.4v2.65h-3.4zM204.6 174.4h3.4v2.65h-3.4zM208.6 174.4h3.4v2.65h-3.4zM212.6 174.4h3.4v2.65h-3.4zM216.6 174.4h3.4v2.65h-3.4zM220.6 174.4h3.4v2.65h-3.4zM224.6 174.4h3.4v2.65h-3.4zM228.6 174.4h3.4v2.65h-3.4zM232.6 174.4h3.4v2.65h-3.4zM240.7 174.4h3.4v2.65h-3.4zM244.7 174.4h3.4v2.65h-3.4zM248.7 174.4h3.4v2.65h-3.4zM256.7 174.4h3.4v2.65h-3.4zM260.7 174.4h3.4v2.65h-3.4zM264.7 174.4h3.4v2.65h-3.4zM268.7 174.4h3.4v2.65h-3.4zM272.7 174.4h3.4v2.65h-3.4zM276.7 174.4h3.4v2.65h-3.4zM280.7 174.4h3.4v2.65h-3.4zM284.7 174.4h3.4v2.65h-3.4zM288.7 174.4h3.4v2.65h-3.4zM292.7 174.4h3.4v2.65h-3.4zM296.7 174.4h3.4v2.65h-3.4zM300.7 174.4h3.4v2.65h-3.4zM304.7 174.4h3.4v2.65h-3.4zM308.7 174.4h3.4v2.65h-3.4zM312.7 174.4h3.4v2.65h-3.4zM316.7 174.4h3.4v2.65h-3.4zM320.7 174.4h3.4v2.65h-3.4zM328.7 174.4h3.4v2.65h-3.4zM332.7 174.4h3.4v2.65h-3.4zM336.7 174.4h3.4v2.65h-3.4zM340.7 174.4h3.4v2.65h-3.4zM348.8 174.4h3.4v2.65h-3.4zM352.8 174.4h3.4v2.65h-3.4zM368.8 174.4h3.4v2.65h-3.4zM376.8 174.4h3.4v2.65h-3.4zM388.8 174.4h3.4v2.65h-3.4zM204.6 177.7h3.4v2.65h-3.4zM208.6 177.7h3.4v2.65h-3.4zM212.6 177.7h3.4v2.65h-3.4zM216.6 177.7h3.4v2.65h-3.4zM220.6 177.7h3.4v2.65h-3.4zM228.6 177.7h3.4v2.65h-3.4zM232.6 177.7h3.4v2.65h-3.4zM240.7 177.7h3.4v2.65h-3.4zM244.7 177.7h3.4v2.65h-3.4zM248.7 177.7h3.4v2.65h-3.4zM252.7 177.7h3.4v2.65h-3.4zM264.7 177.7h3.4v2.65h-3.4zM268.7 177.7h3.4v2.65h-3.4zM272.7 177.7h3.4v2.65h-3.4zM276.7 177.7h3.4v2.65h-3.4zM280.7 177.7h3.4v2.65h-3.4zM284.7 177.7h3.4v2.65h-3.4zM288.7 177.7h3.4v2.65h-3.4zM292.7 177.7h3.4v2.65h-3.4zM296.7 177.7h3.4v2.65h-3.4zM300.7 177.7h3.4v2.65h-3.4zM204.6 180.9h3.4v2.65h-3.4zM208.6 180.9h3.4v2.65h-3.4zM216.6 180.9h3.4v2.65h-3.4zM220.6 180.9h3.4v2.65h-3.4zM224.6 180.9h3.4v2.65h-3.4zM228.6 180.9h3.4v2.65h-3.4zM232.6 180.9h3.4v2.65h-3.4zM236.6 180.9h3.4v2.65h-3.4zM240.7 180.9h3.4v2.65h-3.4zM244.7 180.9h3.4v2.65h-3.4zM248.7 180.9h3.4v2.65h-3.4zM252.7 180.9h3.4v2.65h-3.4zM256.7 180.9h3.4v2.65h-3.4zM268.7 180.9h3.4v2.65h-3.4zM272.7 180.9h3.4v2.65h-3.4zM276.7 180.9h3.4v2.65h-3.4zM280.7 180.9h3.4v2.65h-3.4zM284.7 180.9h3.4v2.65h-3.4zM288.7 180.9h3.4v2.65h-3.4zM292.7 180.9h3.4v2.65h-3.4zM296.7 180.9h3.4v2.65h-3.4zM204.6 184.1h3.4v2.65h-3.4zM208.6 184.1h3.4v2.65h-3.4zM212.6 184.1h3.4v2.65h-3.4zM220.6 184.1h3.4v2.65h-3.4zM224.6 184.1h3.4v2.65h-3.4zM232.6 184.1h3.4v2.65h-3.4zM236.6 184.1h3.4v2.65h-3.4zM240.7 184.1h3.4v2.65h-3.4zM244.7 184.1h3.4v2.65h-3.4zM248.7 184.1h3.4v2.65h-3.4zM252.7 184.1h3.4v2.65h-3.4zM256.7 184.1h3.4v2.65h-3.4zM260.7 184.1h3.4v2.65h-3.4zM264.7 184.1h3.4v2.65h-3.4zM268.7 184.1h3.4v2.65h-3.4zM272.7 184.1h3.4v2.65h-3.4zM276.7 184.1h3.4v2.65h-3.4zM280.7 184.1h3.4v2.65h-3.4zM284.7 184.1h3.4v2.65h-3.4zM288.7 184.1h3.4v2.65h-3.4zM292.7 184.1h3.4v2.65h-3.4zM296.7 184.1h3.4v2.65h-3.4zM300.7 184.1h3.4v2.65h-3.4zM204.6 187.3h3.4v2.65h-3.4zM208.6 187.3h3.4v2.65h-3.4zM212.6 187.3h3.4v2.65h-3.4zM216.6 187.3h3.4v2.65h-3.4zM220.6 187.3h3.4v2.65h-3.4zM224.6 187.3h3.4v2.65h-3.4zM232.6 187.3h3.4v2.65h-3.4zM236.6 187.3h3.4v2.65h-3.4zM240.7 187.3h3.4v2.65h-3.4zM244.7 187.3h3.4v2.65h-3.4zM248.7 187.3h3.4v2.65h-3.4zM252.7 187.3h3.4v2.65h-3.4zM256.7 187.3h3.4v2.65h-3.4zM260.7 187.3h3.4v2.65h-3.4zM264.7 187.3h3.4v2.65h-3.4zM268.7 187.3h3.4v2.65h-3.4zM272.7 187.3h3.4v2.65h-3.4zM276.7 187.3h3.4v2.65h-3.4zM284.7 187.3h3.4v2.65h-3.4zM288.7 187.3h3.4v2.65h-3.4zM292.7 187.3h3.4v2.65h-3.4zM296.7 187.3h3.4v2.65h-3.4zM204.6 190.5h3.4v2.65h-3.4zM208.6 190.5h3.4v2.65h-3.4zM212.6 190.5h3.4v2.65h-3.4zM216.6 190.5h3.4v2.65h-3.4zM224.6 190.5h3.4v2.65h-3.4zM228.6 190.5h3.4v2.65h-3.4zM232.6 190.5h3.4v2.65h-3.4zM236.6 190.5h3.4v2.65h-3.4zM240.7 190.5h3.4v2.65h-3.4zM244.7 190.5h3.4v2.65h-3.4zM248.7 190.5h3.4v2.65h-3.4zM252.7 190.5h3.4v2.65h-3.4zM256.7 190.5h3.4v2.65h-3.4zM260.7 190.5h3.4v2.65h-3.4zM264.7 190.5h3.4v2.65h-3.4zM268.7 190.5h3.4v2.65h-3.4zM272.7 190.5h3.4v2.65h-3.4zM280.7 190.5h3.4v2.65h-3.4zM288.7 190.5h3.4v2.65h-3.4zM292.7 190.5h3.4v2.65h-3.4zM296.7 190.5h3.4v2.65h-3.4zM300.7 190.5h3.4v2.65h-3.4zM192.6 219.5h3.4v2.65h-3.4zM196.6 219.5h3.4v2.65h-3.4zM200.6 219.5h3.4v2.65h-3.4zM204.6 219.5h3.4v2.65h-3.4zM212.6 219.5h3.4v2.65h-3.4zM152.6 222.7h3.4v2.65h-3.4zM184.6 222.7h3.4v2.65h-3.4zM188.6 222.7h3.4v2.65h-3.4zM196.6 222.7h3.4v2.65h-3.4zM224.6 222.7h3.4v2.65h-3.4zM228.6 222.7h3.4v2.65h-3.4zM232.6 222.7h3.4v2.65h-3.4zM236.6 222.7h3.4v2.65h-3.4zM240.7 222.7h3.4v2.65h-3.4zM244.7 222.7h3.4v2.65h-3.4zM248.7 222.7h3.4v2.65h-3.4zM252.7 222.7h3.4v2.65h-3.4zM256.7 222.7h3.4v2.65h-3.4zM260.7 222.7h3.4v2.65h-3.4zM264.7 222.7h3.4v2.65h-3.4zM268.7 222.7h3.4v2.65h-3.4zM184.6 226h3.4v2.65h-3.4zM188.6 226h3.4v2.65h-3.4zM204.6 226h3.4v2.65h-3.4zM212.6 226h3.4v2.65h-3.4zM224.6 226h3.4v2.65h-3.4zM228.6 226h3.4v2.65h-3.4zM236.6 226h3.4v2.65h-3.4zM240.7 226h3.4v2.65h-3.4zM244.7 226h3.4v2.65h-3.4zM248.7 226h3.4v2.65h-3.4zM252.7 226h3.4v2.65h-3.4zM256.7 226h3.4v2.65h-3.4zM260.7 226h3.4v2.65h-3.4zM264.7 226h3.4v2.65h-3.4zM268.7 226h3.4v2.65h-3.4zM272.7 226h3.4v2.65h-3.4zM284.7 226h3.4v2.65h-3.4zM184.6 229.2h3.4v2.65h-3.4zM224.6 229.2h3.4v2.65h-3.4zM232.6 229.2h3.4v2.65h-3.4zM236.6 229.2h3.4v2.65h-3.4zM240.7 229.2h3.4v2.65h-3.4zM244.7 229.2h3.4v2.65h-3.4zM248.7 229.2h3.4v2.65h-3.4zM252.7 229.2h3.4v2.65h-3.4zM260.7 229.2h3.4v2.65h-3.4zM264.7 229.2h3.4v2.65h-3.4zM268.7 229.2h3.4v2.65h-3.4zM276.7 229.2h3.4v2.65h-3.4zM280.7 229.2h3.4v2.65h-3.4zM284.7 229.2h3.4v2.65h-3.4zM288.7 229.2h3.4v2.65h-3.4zM148.6 232.4h3.4v2.65h-3.4zM184.6 232.4h3.4v2.65h-3.4zM192.6 232.4h3.4v2.65h-3.4zM200.6 232.4h3.4v2.65h-3.4zM228.6 232.4h3.4v2.65h-3.4zM232.6 232.4h3.4v2.65h-3.4zM236.6 232.4h3.4v2.65h-3.4zM240.7 232.4h3.4v2.65h-3.4zM244.7 232.4h3.4v2.65h-3.4zM252.7 232.4h3.4v2.65h-3.4zM256.7 232.4h3.4v2.65h-3.4zM260.7 232.4h3.4v2.65h-3.4zM264.7 232.4h3.4v2.65h-3.4zM268.7 232.4h3.4v2.65h-3.4zM276.7 232.4h3.4v2.65h-3.4zM280.7 232.4h3.4v2.65h-3.4zM200.6 235.6h3.4v2.65h-3.4zM224.6 235.6h3.4v2.65h-3.4zM228.6 235.6h3.4v2.65h-3.4zM232.6 235.6h3.4v2.65h-3.4zM236.6 235.6h3.4v2.65h-3.4zM244.7 235.6h3.4v2.65h-3.4zM248.7 235.6h3.4v2.65h-3.4zM252.7 235.6h3.4v2.65h-3.4zM256.7 235.6h3.4v2.65h-3.4zM260.7 235.6h3.4v2.65h-3.4zM264.7 235.6h3.4v2.65h-3.4zM268.7 235.6h3.4v2.65h-3.4zM284.7 235.6h3.4v2.65h-3.4zM288.7 235.6h3.4v2.65h-3.4zM224.6 238.8h3.4v2.65h-3.4zM232.6 238.8h3.4v2.65h-3.4zM236.6 238.8h3.4v2.65h-3.4zM240.7 238.8h3.4v2.65h-3.4zM244.7 238.8h3.4v2.65h-3.4zM248.7 238.8h3.4v2.65h-3.4zM252.7 238.8h3.4v2.65h-3.4zM256.7 238.8h3.4v2.65h-3.4zM260.7 238.8h3.4v2.65h-3.4zM268.7 238.8h3.4v2.65h-3.4zM280.7 238.8h3.4v2.65h-3.4zM284.7 238.8h3.4v2.65h-3.4zM224.6 242.1h3.4v2.65h-3.4zM232.6 242.1h3.4v2.65h-3.4zM240.7 242.1h3.4v2.65h-3.4zM244.7 242.1h3.4v2.65h-3.4zM248.7 242.1h3.4v2.65h-3.4zM252.7 242.1h3.4v2.65h-3.4zM256.7 242.1h3.4v2.65h-3.4zM264.7 242.1h3.4v2.65h-3.4zM276.7 242.1h3.4v2.65h-3.4zM284.7 242.1h3.4v2.65h-3.4zM272.7 245.3h3.4v2.65h-3.4zM276.7 245.3h3.4v2.65h-3.4zM272.7 248.5h3.4v2.65h-3.4zM280.7 248.5h3.4v2.65h-3.4zM276.7 251.7h3.4v2.65h-3.4z"/>
<path fill="none" stroke="#e6e6f2" stroke-opacity="0.9" stroke-width="0.6" d="M388.8 229.2h3.4v2.65h-3.4zM392.8 229.2h3.4v2.65h-3.4zM388.8 232.4h3.4v2.65h-3.4zM392.8 232.4h3.4v2.65h-3.4zM388.8 235.6h3.4v2.65h-3.4zM360.8 267.8h3.4v2.65h-3.4zM136.6 271h3.4v2.65h-3.4zM144.6 271h3.4v2.65h-3.4zM152.6 271h3.4v2.65h-3.4zM156.6 271h3.4v2.65h-3.4zM160.6 271h3.4v2.65h-3.4zM164.6 271h3.4v2.65h-3.4zM232.6 271h3.4v2.65h-3.4zM236.6 271h3.4v2.65h-3.4zM240.7 271h3.4v2.65h-3.4zM248.7 271h3.4v2.65h-3.4zM360.8 271h3.4v2.65h-3.4zM136.6 274.3h3.4v2.65h-3.4zM140.6 274.3h3.4v2.65h-3.4zM144.6 274.3h3.4v2.65h-3.4zM148.6 274.3h3.4v2.65h-3.4zM152.6 274.3h3.4v2.65h-3.4zM156.6 274.3h3.4v2.65h-3.4zM160.6 274.3h3.4v2.65h-3.4zM164.6 274.3h3.4v2.65h-3.4zM176.6 274.3h3.4v2.65h-3.4zM232.6 274.3h3.4v2.65h-3.4zM236.6 274.3h3.4v2.65h-3.4zM240.7 274.3h3.4v2.65h-3.4zM244.7 274.3h3.4v2.65h-3.4zM268.7 274.3h3.4v2.65h-3.4zM272.7 274.3h3.4v2.65h-3.4zM276.7 274.3h3.4v2.65h-3.4zM280.7 274.3h3.4v2.65h-3.4zM284.7 274.3h3.4v2.65h-3.4zM288.7 274.3h3.4v2.65h-3.4zM336.7 274.3h3.4v2.65h-3.4zM136.6 277.5h3.4v2.65h-3.4zM140.6 277.5h3.4v2.65h-3.4zM144.6 277.5h3.4v2.65h-3.4zM148.6 277.5h3.4v2.65h-3.4zM156.6 277.5h3.4v2.65h-3.4zM160.6 277.5h3.4v2.65h-3.4zM164.6 277.5h3.4v2.65h-3.4zM180.6 277.5h3.4v2.65h-3.4zM192.6 277.5h3.4v2.65h-3.4zM196.6 277.5h3.4v2.65h-3.4zM224.6 277.5h3.4v2.65h-3.4zM232.6 277.5h3.4v2.65h-3.4zM240.7 277.5h3.4v2.65h-3.4zM268.7 277.5h3.4v2.65h-3.4zM276.7 277.5h3.4v2.65h-3.4zM280.7 277.5h3.4v2.65h-3.4zM288.7 277.5h3.4v2.65h-3.4zM292.7 277.5h3.4v2.65h-3.4zM328.7 277.5h3.4v2.65h-3.4zM332.7 277.5h3.4v2.65h-3.4zM340.7 277.5h3.4v2.65h-3.4z"/>
</g>
<path clip-path="url(#c1)" fill="none" stroke="#000" stroke-width="1.25" stroke-linejoin="round" stroke-linecap="round" d="M396.5 280.4L394.5 278.8L395.3 275.6L393.7 272.3L390.5 269.8L387.7 267.2L384.5 264.6L380.9 262.7L378.9 259.1L375.3 256.9L372.9 255L370.1 253L367.7 251.4L365.3 248.2L363.7 245L360.9 243.4L357.3 242.4L357.3 245L358.1 247.2L360.9 249.8L363.7 251.7L365.3 254L367.3 256.9L368.9 258.8L371.3 261.4L372.5 264.3L374.1 266.2L375.3 266.9L377.7 268.2L378.9 269.8L376.9 271.1L375.3 269.1L371.7 266.9L368.5 265.3L367.7 262.4L366.9 260.4L363.3 258.8L360.1 257.5L356.9 255.3L359.7 254.6L360.1 252.7L357.3 250.5L353.7 248.2L352.5 245.9L350.1 243.4L348.9 241.4L348.1 240.1L347.3 238.2L344.5 236.3L342.4 235.3L339.6 234.8L337.6 234L334.4 233.7L333.6 231.5L331.2 229.8L328.8 226.9L328 225.7L326.4 223.4L324.8 222.1L321.6 219.5L321.2 217.3L318.8 214.7L320 212.8L319.6 209.6L318.4 207L320 204.1L320.4 199.9L320.4 196L320 194.1L317.6 189.6L318 189L323.6 189.8L325.6 189.9L326.8 192.5L327.2 190.2L325.2 187L323.6 186.1L320.8 185.4L317.2 183.8L314.4 182.5L309.2 180.9L306.4 179.6L305.2 177.4L303.2 175.4L299.6 173.2L296 170.9L294.8 169L296 166.7L292.4 166.1L288.8 165.1L287.2 162.5L283.2 160.6L281.2 158.7L277.6 157.1L275.6 155.5L274.8 153.9L274 155.8L270 157.2L266.4 156.1L262.4 154.2L257.6 152.9L254.8 152.4L250.8 151.6L245.2 151.4L240.4 151.6L236.7 150.3L232.3 149.2L227.5 148.7L223.5 149.3L222.7 151.6L218.3 152.4L214.3 153.5L209.5 154.2L208.7 152.6L210.7 150.3L211.9 149L215.1 148.1L216.7 147.4L213.5 147.6L209.1 148.9L206.3 151L203.5 152.9L199.9 154.2L201.5 155.8L198.7 157.7L194.7 159L190.7 160.9L185.9 162.5L182.3 164.2L177.5 165.4L172.3 166.7L168.3 167.5L163.5 168.3L157.9 169.1L156.7 168.5L161.1 167.5L165.9 166.4L170.3 165.1L174.3 164.2L178.3 162.2L183.1 160L185.9 158L187.5 155.8L184.3 155.6L181.1 155.9L177.1 155.3L172.7 155.6L168.7 155.8L169.1 154.2L167.9 152.2L163.5 151.9L159.1 150.6L155.9 148.7L154.3 146.8L151.9 145.8L153.9 143.6L157.1 141.9L162.3 141.5L167.5 140.3L171.5 140L173.1 137.8L170.7 136.8L165.5 137.3L161.1 136.9L156.3 137.3L151.1 136.6L147.1 134.5L143.9 133.6L148.3 132.6L153.1 131.5L159.1 130.5L161.5 132L168.3 132L169.9 130.7L166.3 129.2L161.5 128.7L159.5 126.8L154.3 125.5L149.5 124.7L151.9 123.1L158.3 122.8L163.1 121.3L164.7 119.7L167.5 118.8L170.3 118.1M204.3 116.5L210.3 118L218.3 117.8L226.3 118.8L234.3 119.2L242.4 119.1L252.4 120.5L259.6 120.8L266.4 122.6L272.4 122.9L276.4 121.3L283.6 121L290.4 119.7L297.2 118.9L303.6 117.8L308.4 119.1L314.4 120.7L318.8 121.3L323.6 120.2L330.4 120L338.4 121.5L347.7 122.8L354.5 122.9L360.5 124.9L356.5 126.3L366.5 126.6L376.5 126L382.5 125L388.5 124.9L396.5 123.9M346.5 117.5L352.5 120.7L362.5 122L372.5 123.9L382.5 122.8L390.5 122L396.5 122.3M314.4 113L320.4 116.2L326.4 115.5M322.8 189L318.4 188.3L315.6 187.3L312.4 186.1L309.2 184.4L305.2 183.2L303.2 181.4L306.4 181.2L312.4 182.5L315.6 183.8L318.8 185.7L321.6 187.3L322.8 189M292 177.4L288.4 174.8L286 172.9L284.4 170.6L287.6 170.9L289.6 172.2L289.2 174.1L292 177.4M288.4 168.3L283.6 166.4L282 163.8L284.8 164.2L286.8 166.1L288.4 168.3M277.6 163.8L274.8 161.3L271.2 158.4L274 158L276.8 160.3L278 162.5L277.6 163.8M280.4 160.9L278 158.7L276.8 157.1L279.2 157.7L280.8 159.7L280.4 160.9M283.2 163.5L279.6 161.6L281.2 161.3L284.4 162.2L283.2 163.5M276.4 159.7L272.4 159L270.4 157.7L273.2 157.1L276.4 158L276.4 159.7M280.8 164.5L279.2 162.5L280.4 161.6L281.6 163.2L280.8 164.5M292.4 167.1L290 165.8L291.2 164.8L292.8 165.8L292.4 167.1M287.6 164.5L285.6 163.5L286.8 162.9L288 163.8L287.6 164.5M274.8 153.9L276.4 156.1L278.4 157.4M272.4 156.8L270.8 155.1L268.8 154.8M280.4 157.1L282 156.1M287.2 162.5L289.2 161.6M294.8 168.7L296.4 166.4L296.8 164.8M306.4 179.6L309.2 178.3M303.2 175.4L307.2 174.5M299.6 173.2L302.4 171.6M302.4 175.4L299.6 174.1L300.8 173.2L302.8 174.5L302.4 175.4M297.2 173.5L294.8 172.2L296.4 171.9L298 172.9L297.2 173.5M298.4 172.5L295.6 170.9L296.8 170.9L298.8 171.9L298.4 172.5M227.9 151.3L224.7 152.2L226.7 150.6L227.9 151.3M257.6 152.9L258.4 151.6L256.8 151.9M250.8 151.6L251.2 151M199.1 161.9L203.5 160.9L207.1 159.7L206.7 158.2L204.3 158.4L200.7 159L197.9 160L199.1 161.9M206.3 157.7L207.9 156.9L204.7 156.4L203.5 157.4L206.3 157.7M153.5 151.6L151.1 152.2L147.1 151.4L149.1 150.5L152.3 150.5L153.5 151.6M136.2 141.3L140.3 141.5L141.5 141L138.3 140.5L136.2 140.3M136.2 131.8L137.5 132.1L136.2 132.6M156.7 169.1L160.3 169L163.1 168.5L161.9 167.9L157.5 168.2L156.7 169.1M151.9 171.1L148.7 172.7L145.1 173.2L148.3 171.7L151.9 171.1M144.7 172.5L140.7 174.5L139.9 174L143.5 172.5L144.7 172.5M154.7 170.6L152.3 170.9L153.1 170.1L154.7 170.6M137.9 174.9L136.2 175.3M179.1 273.8L177.9 274.3L177.3 273.6L178.3 273.2L179.1 273.8M185.7 276.2L183.9 276.2L183.2 275.4L184.5 274.9L185.7 276.2M189.5 276.7L187.1 276.9L188.3 276.5L189.5 276.7M192.3 278.1L190.5 278.5L189.6 277.5L191.3 277.3L192.3 278.1M195.5 280.4L192.9 279.6L192.7 280.4M355.7 254.5L355.1 253.7L355.9 253.5L355.7 254.5M343.2 251.7L343.4 250.9M367.7 252.1L366.3 251.4L367.1 250.8L367.7 252.1M363.9 251.4L362.3 249.8M338.4 235.3L336.8 235.2M343 237.4L342.2 237.1M252.4 120.5L252.4 150.6L260 150.6L266.4 155.1L270.8 153.2L276.4 152.9L282.8 156.8L289.2 162.5L296.4 164.5L296 167.1L294 168.7M324 187L396.5 187M320.4 195.9L323.6 196.2L325.2 197.8L331.6 197.8L339.2 196.9L348.8 196.7M348.3 187L348.3 195.4L348.8 196.7M348.8 196.7L350.5 198.3L348.9 200.2L347.7 202.2L348.3 203.8L348.3 209.6M319.6 209.6L372.3 209.6M336.4 209.6L336.4 219.2L357.9 232.1M357.9 232.1L358.1 234.4L359.9 234.5L358.3 236.6L358.5 238.5L357.6 239.4M360.3 209.6L360.3 228.2L357.7 228.6L357.9 232.1M360.3 225.7L396.5 225.7M380.3 212.8L380.3 243.9M372.3 212.8L396.5 212.8M372.3 212.8L372.3 201.5M372.3 201.5L370.9 200.9L365.3 201.8L362.5 200.2L358.9 198.3L358.9 196.7L359.3 194.6L355.3 192.5L352.3 190.2L352.3 187M372.3 199.9L396.5 199.9M348 240.1L357.6 239.4L357.3 240.1L372.2 243.9L383.7 243.9L383.7 242.5L390.5 242.5L392.9 244L396.5 245.9M380.3 241.8L380.3 243.9"/>
<path fill="none" stroke="#000" stroke-width="0.8" d="M136.2 280.4v-2.2M156.3 280.4v-2.2M176.3 280.4v-2.2M196.3 280.4v-2.2M216.3 280.4v-2.2M236.3 280.4v-2.2M256.4 280.4v-2.2M276.4 280.4v-2.2M296.4 280.4v-2.2M316.4 280.4v-2.2M336.4 280.4v-2.2M356.5 280.4v-2.2M376.5 280.4v-2.2M396.5 280.4v-2.2M136.2 280.4h2.2M136.2 264.3h2.2M136.2 248.2h2.2M136.2 232.1h2.2M136.2 216h2.2M136.2 199.9h2.2M136.2 183.8h2.2M136.2 167.7h2.2M136.2 151.6h2.2M136.2 135.5h2.2M136.2 119.4h2.2"/>
<rect x="136.25" y="119.4" width="260.25" height="160.99999999999997" fill="none" stroke="#000" stroke-width="1.1"/>
<text x="134.6" y="283.7" font-size="8.6" text-anchor="end">20°N</text>
<text x="134.6" y="251.5" font-size="8.6" text-anchor="end">30°N</text>
<text x="134.6" y="219.3" font-size="8.6" text-anchor="end">40°N</text>
<text x="134.6" y="187.1" font-size="8.6" text-anchor="end">50°N</text>
<text x="134.6" y="154.9" font-size="8.6" text-anchor="end">60°N</text>
<text x="134.6" y="122.7" font-size="8.6" text-anchor="end">70°N</text>
<text x="136.8" y="292.5" font-size="8.6" text-anchor="middle">170°W</text>
<text x="176.8" y="292.5" font-size="8.6" text-anchor="middle">160°W</text>
<text x="216.8" y="292.5" font-size="8.6" text-anchor="middle">150°W</text>
<text x="256.9" y="292.5" font-size="8.6" text-anchor="middle">140°W</text>
<text x="296.9" y="292.5" font-size="8.6" text-anchor="middle">130°W</text>
<text x="336.9" y="292.5" font-size="8.6" text-anchor="middle">120°W</text>
<text x="377" y="292.5" font-size="8.6" text-anchor="middle">110°W</text>
<rect x="404.6" y="119.4" width="8.3" height="161" fill="url(#cb)" stroke="#000" stroke-width="0.9"/>
<path fill="none" stroke="#000" stroke-width="0.8" d="M404.6 159.7h1.6M412.9 159.7h-1.6M404.6 199.9h1.6M412.9 199.9h-1.6M404.6 240.2h1.6M412.9 240.2h-1.6"/>
<text x="413.6" y="122.8" font-size="10.1">1</text>
<text x="413.6" y="163.1" font-size="10.1">0.5</text>
<text x="413.6" y="203.3" font-size="10.1">0</text>
<text x="413.6" y="243.6" font-size="10.1">−0.5</text>
<text x="413.6" y="283.8" font-size="10.1">−1</text>
<text x="98.3" y="82" font-size="14" textLength="339" lengthAdjust="spacingAndGlyphs">NCEP Experimental Forecast Initialized: Dec 20, 2021</text>
<text x="155.4" y="107.3" font-size="11.8" textLength="221.5" lengthAdjust="spacingAndGlyphs">Number of AR Days Forecast Anomaly</text>
<text x="136.4" y="116.7" font-size="8.5" font-weight="bold" textLength="111.7" lengthAdjust="spacingAndGlyphs">Jan 04 to Jan 10, Forecast</text>
<text x="301.5" y="116.7" font-size="8.5" font-weight="bold" textLength="94.5" lengthAdjust="spacingAndGlyphs">15−day to 21−day lead</text>
<g transform="translate(0,0)">
<g transform="translate(121.7,329.95) scale(21.3)">
<clipPath id="bh1"><path d="M-1,0.035A1,1 0 0 0 1,0.035Z"/></clipPath>
<path d="M-1,-0.03A1,1 0 0 1 1,-0.03Z" fill="#f7941e"/>
<path d="M-1,0.035A1,1 0 0 0 1,0.035Z" fill="#2a8bb9"/>
<g clip-path="url(#bh1)" fill="#1c6f97"><rect x="-1" y="0.15" width="2" height="0.1"/><rect x="-1" y="0.35" width="2" height="0.1"/><rect x="-1" y="0.55" width="2" height="0.1"/><rect x="-1" y="0.75" width="2" height="0.1"/><rect x="-1" y="0.95" width="2" height="0.1"/></g>
<circle r="0.655" fill="#fff"/>
<path d="M0.0,-0.49C-0.02,-0.36 -0.31,-0.12 -0.31,0.15A0.31,0.31 0 0 0 0.31,0.15C0.31,-0.02 0.17,-0.13 0.1,-0.24C0.08,-0.17 0.05,-0.13 0.02,-0.12C0.08,-0.25 0.06,-0.38 0.0,-0.49Z" fill="#2b8cc9"/>
<path d="M0.14,-0.16L-0.17,0.12L-0.02,0.14L-0.12,0.42L0.2,0.08L0.04,0.06Z" fill="#fff"/>
</g>
<text x="148.8" y="327.6" font-size="7.6" font-weight="bold" fill="#1d6d95" textLength="98" lengthAdjust="spacingAndGlyphs">Center for Western Weather</text>
<text x="148.8" y="335.6" font-size="7.6" font-weight="bold" fill="#1d6d95" textLength="70.5" lengthAdjust="spacingAndGlyphs">and Water Extremes</text>
<text x="347.3" y="315.6" font-family="Liberation Serif, serif" font-size="12.6" fill="#1e2946" textLength="80.4" lengthAdjust="spacingAndGlyphs">AMBASSADOR</text>
<text x="428.2" y="310.6" font-family="Liberation Serif, serif" font-size="5.5" fill="#1e2946">™</text>
<clipPath id="wt1"><path d="M340,310H440V336.5C425,336.5 415,328.5 400,328.5C388,328.5 384,334.5 376,334.5C366,334.5 360,330.5 347,330.5H340Z"/></clipPath>
<clipPath id="wl1"><text x="348.4" y="342.2" font-size="35.4" font-weight="bold" textLength="81.2" lengthAdjust="spacingAndGlyphs">WRN</text><rect x="371" y="317" width="9" height="20"/></clipPath>
<g font-size="33.4" font-weight="bold" stroke-linejoin="miter">
<text x="349.0" y="341.6" textLength="79.8" lengthAdjust="spacingAndGlyphs" fill="#222f6c" stroke="#222f6c" stroke-width="2.9">WRN</text>
<text x="349.0" y="341.6" textLength="79.8" lengthAdjust="spacingAndGlyphs" fill="#1f87cb" stroke="#1f87cb" stroke-width="2.9" clip-path="url(#wt1)">WRN</text>
</g>
<g clip-path="url(#wl1)"><path stroke="#86b3e4" stroke-width="1" d="M363,317Q373,327 380,336.8Q384,336.8 388,334.2Q404,329 416.8,317L410,317Q400,326 387,328.3Q380,322 371.5,317Z" fill="#86b3e4"/></g>
<text x="354.8" y="348.5" font-size="5.7" fill="#6a6a6a" textLength="74" lengthAdjust="spacingAndGlyphs">WEATHER-READY NATION</text>
</g>
</svg>
</div>
<div class="panel" id="p2" style="top:384px;height:298px;">
<svg width="384" height="298" viewBox="77 384 384 298" style="position:absolute;left:0;top:0" font-family="Liberation Sans, sans-serif">
<defs><clipPath id="c2"><rect x="143.1" y="428.3" width="252.9" height="156.7"/></clipPath>
<filter id="bl2" x="-5%" y="-5%" width="110%" height="110%"><feGaussianBlur stdDeviation="1.7"/></filter>
<pattern id="st2" width="2" height="2" patternUnits="userSpaceOnUse"><rect width="2" height="2" fill="#dcd6da" fill-opacity="0.42"/><rect width="1" height="1" fill="#b4aeb4" fill-opacity="0.5"/></pattern></defs>
<g clip-path="url(#c2)"><g filter="url(#bl2)">
<path fill="#d2fcfd" d="M135.3 422H147.3V425.5H135.3zM182 422H190.1V425.5H182zM201.5 422H209.5V425.5H201.5zM228.7 422H232.9V425.5H228.7zM135.3 425.2H147.3V428.6H135.3zM182 425.2H190.1V428.6H182zM201.5 425.2H209.5V428.6H201.5zM228.7 425.2H232.9V428.6H228.7zM135.3 428.3H147.3V431.7H135.3zM182 428.3H190.1V431.7H182zM201.5 428.3H209.5V431.7H201.5zM228.7 428.3H232.9V431.7H228.7zM154.8 431.4H159V434.9H154.8zM193.7 431.4H197.9V434.9H193.7zM217 431.4H221.2V434.9H217zM135.3 434.6H147.3V438H135.3zM193.7 434.6H197.9V438H193.7zM189.8 437.7H194V441.1H189.8zM197.6 437.7H201.8V441.1H197.6zM193.7 440.8H197.9V444.3H193.7zM213.1 444H217.3V447.4H213.1zM201.5 447.1H209.5V450.5H201.5zM197.6 450.2H201.8V453.7H197.6zM193.7 453.4H197.9V456.8H193.7zM193.7 456.5H201.8V459.9H193.7zM189.8 459.6H197.9V463.1H189.8zM174.2 462.8H178.4V466.2H174.2zM185.9 462.8H194V466.2H185.9zM162.6 465.9H166.7V469.3H162.6zM185.9 465.9H190.1V469.3H185.9zM158.7 469H162.9V472.5H158.7zM166.4 469H174.5V472.5H166.4zM182 469H186.2V472.5H182zM178.1 472.2H186.2V475.6H178.1zM185.9 475.3H190.1V478.7H185.9zM185.9 487.8H190.1V491.3H185.9zM147 494.1H155.1V497.5H147zM189.8 494.1H194V497.5H189.8zM150.9 500.4H155.1V503.8H150.9zM185.9 500.4H190.1V503.8H185.9zM147 503.5H151.2V507H147zM154.8 503.5H159V507H154.8zM135.3 506.7H147.3V510.1H135.3zM178.1 506.7H182.3V510.1H178.1zM166.4 509.8H174.5V513.2H166.4zM384.3 538H392.4V541.4H384.3zM368.8 544.3H373V547.7H368.8zM361 550.5H365.2V554H361zM353.2 553.7H361.3V557.1H353.2zM318.2 563.1H322.4V566.5H318.2zM314.3 566.2H318.5V569.6H314.3zM302.6 569.3H314.6V572.8H302.6zM158.7 572.5H170.6V575.9H158.7zM174.2 572.5H178.4V575.9H174.2zM279.3 572.5H295.1V575.9H279.3zM150.9 575.6H155.1V579H150.9zM209.2 575.6H213.4V579H209.2zM240.4 575.6H248.5V579H240.4zM259.8 575.6H264V579H259.8zM267.6 578.7H271.8V582.2H267.6zM147 581.9H151.2V585.3H147zM147 585H151.2V588.4H147zM147 588.1H151.2V591.6H147z"/>
<path fill="#d7fdfd" d="M147 422H159V425.5H147zM197.6 422H201.8V425.5H197.6zM217 422H229V425.5H217zM232.6 422H236.8V425.5H232.6zM147 425.2H159V428.6H147zM197.6 425.2H201.8V428.6H197.6zM217 425.2H229V428.6H217zM232.6 425.2H236.8V428.6H232.6zM147 428.3H159V431.7H147zM197.6 428.3H201.8V431.7H197.6zM217 428.3H229V431.7H217zM232.6 428.3H236.8V431.7H232.6zM197.6 431.4H201.8V434.9H197.6zM220.9 431.4H225.1V434.9H220.9zM197.6 434.6H201.8V438H197.6zM217 434.6H225.1V438H217zM193.7 437.7H197.9V441.1H193.7zM213.1 437.7H217.3V441.1H213.1zM220.9 437.7H225.1V441.1H220.9zM209.2 440.8H217.3V444.3H209.2zM205.4 444H213.4V447.4H205.4zM209.2 447.1H213.4V450.5H209.2zM201.5 450.2H209.5V453.7H201.5zM197.6 453.4H201.8V456.8H197.6zM201.5 456.5H205.7V459.9H201.5zM170.3 459.6H174.5V463.1H170.3zM197.6 459.6H201.8V463.1H197.6zM166.4 462.8H174.5V466.2H166.4zM197.6 462.8H201.8V466.2H197.6zM166.4 465.9H174.5V469.3H166.4zM193.7 465.9H197.9V469.3H193.7zM189.8 469H197.9V472.5H189.8zM185.9 472.2H194V475.6H185.9zM178.1 475.3H182.3V478.7H178.1zM193.7 475.3H197.9V478.7H193.7zM182 478.4H190.1V481.9H182zM189.8 484.7H197.9V488.1H189.8zM193.7 491H197.9V494.4H193.7zM135.3 503.5H147.3V507H135.3zM150.9 503.5H155.1V507H150.9zM147 506.7H155.1V510.1H147zM147 509.8H151.2V513.2H147zM154.8 509.8H159V513.2H154.8zM174.2 509.8H182.3V513.2H174.2zM158.7 512.9H162.9V516.4H158.7zM372.7 534.9H384.6V538.3H372.7zM368.8 538H373V541.4H368.8zM392.1 541.1H404.1V544.6H392.1zM364.9 544.3H369.1V547.7H364.9zM361 547.4H369.1V550.8H361zM357.1 550.5H361.3V554H357.1zM349.3 553.7H353.5V557.1H349.3zM345.4 556.8H349.6V560.2H345.4zM329.9 559.9H337.9V563.4H329.9zM322.1 563.1H326.3V566.5H322.1zM135.3 572.5H147.3V575.9H135.3zM150.9 572.5H155.1V575.9H150.9zM189.8 572.5H194V575.9H189.8zM294.8 572.5H299V575.9H294.8zM232.6 575.6H236.8V579H232.6zM248.2 575.6H252.3V579H248.2zM267.6 575.6H275.7V579H267.6z"/>
<path fill="#ddfefe" d="M158.7 422H162.9V425.5H158.7zM236.5 422H240.7V425.5H236.5zM158.7 425.2H162.9V428.6H158.7zM236.5 425.2H240.7V428.6H236.5zM158.7 428.3H162.9V431.7H158.7zM236.5 428.3H240.7V431.7H236.5zM201.5 431.4H205.7V434.9H201.5zM224.8 431.4H236.8V434.9H224.8zM244.3 431.4H248.5V434.9H244.3zM224.8 434.6H232.9V438H224.8zM217 437.7H221.2V441.1H217zM224.8 437.7H232.9V441.1H224.8zM217 440.8H221.2V444.3H217zM228.7 440.8H232.9V444.3H228.7zM240.4 440.8H244.6V444.3H240.4zM217 444H221.2V447.4H217zM213.1 447.1H221.2V450.5H213.1zM201.5 453.4H209.5V456.8H201.5zM201.5 459.6H205.7V463.1H201.5zM193.7 462.8H197.9V466.2H193.7zM201.5 462.8H205.7V466.2H201.5zM201.5 465.9H205.7V469.3H201.5zM193.7 472.2H201.8V475.6H193.7zM182 475.3H186.2V478.7H182zM197.6 475.3H201.8V478.7H197.6zM189.8 478.4H201.8V481.9H189.8zM185.9 481.6H197.9V485H185.9zM193.7 487.8H197.9V491.3H193.7zM189.8 491H194V494.4H189.8zM189.8 497.2H194V500.7H189.8zM182 503.5H186.2V507H182zM189.8 503.5H194V507H189.8zM154.8 506.7H159V510.1H154.8zM182 506.7H186.2V510.1H182zM193.7 506.7H197.9V510.1H193.7zM158.7 509.8H162.9V513.2H158.7zM384.3 534.9H388.5V538.3H384.3zM364.9 538H369.1V541.4H364.9zM364.9 541.1H369.1V544.6H364.9zM341.5 556.8H345.7V560.2H341.5zM314.3 563.1H318.5V566.5H314.3zM306.5 566.2H314.6V569.6H306.5zM154.8 569.3H159V572.8H154.8zM283.2 569.3H287.4V572.8H283.2zM154.8 572.5H159V575.9H154.8zM178.1 572.5H182.3V575.9H178.1zM193.7 572.5H197.9V575.9H193.7zM220.9 572.5H232.9V575.9H220.9zM255.9 572.5H260.1V575.9H255.9zM263.7 575.6H267.9V579H263.7z"/>
<path fill="#cdfcfd" d="M162.6 422H166.7V425.5H162.6zM178.1 422H182.3V425.5H178.1zM189.8 422H197.9V425.5H189.8zM209.2 422H217.3V425.5H209.2zM162.6 425.2H166.7V428.6H162.6zM178.1 425.2H182.3V428.6H178.1zM189.8 425.2H197.9V428.6H189.8zM209.2 425.2H217.3V428.6H209.2zM162.6 428.3H166.7V431.7H162.6zM178.1 428.3H182.3V431.7H178.1zM189.8 428.3H197.9V431.7H189.8zM209.2 428.3H217.3V431.7H209.2zM135.3 431.4H155.1V434.9H135.3zM158.7 431.4H162.9V434.9H158.7zM205.4 431.4H209.5V434.9H205.4zM213.1 431.4H217.3V434.9H213.1zM147 434.6H151.2V438H147zM154.8 434.6H159V438H154.8zM201.5 434.6H209.5V438H201.5zM213.1 434.6H217.3V438H213.1zM185.9 437.7H190.1V441.1H185.9zM201.5 437.7H205.7V441.1H201.5zM189.8 440.8H194V444.3H189.8zM201.5 440.8H209.5V444.3H201.5zM162.6 444H166.7V447.4H162.6zM170.3 444H174.5V447.4H170.3zM201.5 444H205.7V447.4H201.5zM193.7 447.1H201.8V450.5H193.7zM162.6 450.2H166.7V453.7H162.6zM170.3 450.2H174.5V453.7H170.3zM182 450.2H186.2V453.7H182zM193.7 450.2H197.9V453.7H193.7zM166.4 453.4H174.5V456.8H166.4zM185.9 453.4H194V456.8H185.9zM170.3 456.5H174.5V459.9H170.3zM185.9 456.5H194V459.9H185.9zM162.6 459.6H170.6V463.1H162.6zM174.2 459.6H190.1V463.1H174.2zM154.8 462.8H159V466.2H154.8zM162.6 462.8H166.7V466.2H162.6zM178.1 462.8H186.2V466.2H178.1zM154.8 465.9H159V469.3H154.8zM174.2 465.9H178.4V469.3H174.2zM182 465.9H186.2V469.3H182zM189.8 465.9H194V469.3H189.8zM154.8 469H159V472.5H154.8zM185.9 469H190.1V472.5H185.9zM135.3 472.2H147.3V475.6H135.3zM154.8 472.2H159V475.6H154.8zM170.3 472.2H174.5V475.6H170.3zM154.8 475.3H162.9V478.7H154.8zM174.2 475.3H178.4V478.7H174.2zM178.1 478.4H182.3V481.9H178.1zM182 481.6H186.2V485H182zM182 484.7H186.2V488.1H182zM182 491H186.2V494.4H182zM182 494.1H190.1V497.5H182zM135.3 497.2H155.1V500.7H135.3zM182 497.2H190.1V500.7H182zM135.3 500.4H151.2V503.8H135.3zM182 500.4H186.2V503.8H182zM162.6 509.8H166.7V513.2H162.6zM372.7 538H380.7V541.4H372.7zM368.8 541.1H376.8V544.6H368.8zM388.2 541.1H392.4V544.6H388.2zM368.8 547.4H373V550.8H368.8zM337.6 559.9H345.7V563.4H337.6zM329.9 563.1H334V566.5H329.9zM318.2 566.2H322.4V569.6H318.2zM170.3 572.5H174.5V575.9H170.3zM298.7 572.5H302.9V575.9H298.7zM182 575.6H186.2V579H182zM205.4 575.6H209.5V579H205.4zM213.1 575.6H221.2V579H213.1zM252 575.6H260.1V579H252zM275.4 575.6H283.5V579H275.4zM271.5 578.7H275.7V582.2H271.5zM392.1 581.9H404.1V585.3H392.1zM392.1 585H404.1V588.4H392.1zM392.1 588.1H404.1V591.6H392.1z"/>
<path fill="#c8fbfc" d="M166.4 422H178.4V425.5H166.4zM166.4 425.2H178.4V428.6H166.4zM166.4 428.3H178.4V431.7H166.4zM182 431.4H186.2V434.9H182zM189.8 431.4H194V434.9H189.8zM209.2 431.4H213.4V434.9H209.2zM158.7 434.6H162.9V438H158.7zM170.3 434.6H178.4V438H170.3zM182 434.6H194V438H182zM209.2 434.6H213.4V438H209.2zM135.3 437.7H147.3V441.1H135.3zM174.2 437.7H178.4V441.1H174.2zM182 437.7H186.2V441.1H182zM205.4 437.7H213.4V441.1H205.4zM170.3 440.8H174.5V444.3H170.3zM185.9 440.8H190.1V444.3H185.9zM197.6 440.8H201.8V444.3H197.6zM158.7 444H162.9V447.4H158.7zM166.4 444H170.6V447.4H166.4zM174.2 444H178.4V447.4H174.2zM189.8 444H201.8V447.4H189.8zM162.6 447.1H170.6V450.5H162.6zM178.1 447.1H182.3V450.5H178.1zM185.9 447.1H190.1V450.5H185.9zM174.2 450.2H182.3V453.7H174.2zM185.9 450.2H194V453.7H185.9zM158.7 453.4H162.9V456.8H158.7zM174.2 453.4H186.2V456.8H174.2zM162.6 456.5H170.6V459.9H162.6zM174.2 456.5H178.4V459.9H174.2zM147 459.6H155.1V463.1H147zM158.7 459.6H162.9V463.1H158.7zM135.3 462.8H151.2V466.2H135.3zM158.7 462.8H162.9V466.2H158.7zM150.9 465.9H155.1V469.3H150.9zM158.7 465.9H162.9V469.3H158.7zM178.1 465.9H182.3V469.3H178.1zM135.3 469H155.1V472.5H135.3zM162.6 469H166.7V472.5H162.6zM174.2 469H182.3V472.5H174.2zM150.9 472.2H155.1V475.6H150.9zM158.7 472.2H166.7V475.6H158.7zM174.2 472.2H178.4V475.6H174.2zM170.3 475.3H174.5V478.7H170.3zM158.7 478.4H162.9V481.9H158.7zM185.9 484.7H190.1V488.1H185.9zM189.8 487.8H194V491.3H189.8zM147 491H151.2V494.4H147zM185.9 491H190.1V494.4H185.9zM135.3 494.1H147.3V497.5H135.3zM154.8 494.1H159V497.5H154.8zM178.1 494.1H182.3V497.5H178.1zM154.8 500.4H159V503.8H154.8zM158.7 503.5H162.9V507H158.7zM158.7 506.7H166.7V510.1H158.7zM380.4 538H384.6V541.4H380.4zM376.5 541.1H380.7V544.6H376.5zM372.7 544.3H380.7V547.7H372.7zM392.1 544.3H404.1V547.7H392.1zM372.7 547.4H376.8V550.8H372.7zM364.9 550.5H373V554H364.9zM349.3 556.8H357.4V560.2H349.3zM326 563.1H330.2V566.5H326zM314.3 569.3H318.5V572.8H314.3zM302.6 572.5H310.7V575.9H302.6zM135.3 575.6H151.2V579H135.3zM185.9 575.6H190.1V579H185.9zM201.5 575.6H205.7V579H201.5zM224.8 575.6H232.9V579H224.8zM236.5 575.6H240.7V579H236.5zM283.2 575.6H287.4V579H283.2zM147 578.7H151.2V582.2H147zM244.3 578.7H248.5V582.2H244.3zM259.8 578.7H267.9V582.2H259.8zM135.3 581.9H147.3V585.3H135.3zM150.9 581.9H155.1V585.3H150.9zM259.8 581.9H275.7V585.3H259.8zM388.2 581.9H392.4V585.3H388.2zM135.3 585H147.3V588.4H135.3zM150.9 585H155.1V588.4H150.9zM259.8 585H275.7V588.4H259.8zM388.2 585H392.4V588.4H388.2zM135.3 588.1H147.3V591.6H135.3zM150.9 588.1H155.1V591.6H150.9zM259.8 588.1H275.7V591.6H259.8zM388.2 588.1H392.4V591.6H388.2z"/>
<path fill="#e1fefe" d="M240.4 422H244.6V425.5H240.4zM248.2 422H252.3V425.5H248.2zM240.4 425.2H244.6V428.6H240.4zM248.2 425.2H252.3V428.6H248.2zM240.4 428.3H244.6V431.7H240.4zM248.2 428.3H252.3V431.7H248.2zM236.5 431.4H244.6V434.9H236.5zM240.4 434.6H244.6V438H240.4zM232.6 437.7H236.8V441.1H232.6zM255.9 437.7H260.1V441.1H255.9zM220.9 440.8H229V444.3H220.9zM232.6 440.8H236.8V444.3H232.6zM220.9 444H225.1V447.4H220.9zM228.7 444H232.9V447.4H228.7zM209.2 450.2H221.2V453.7H209.2zM224.8 450.2H229V453.7H224.8zM220.9 453.4H225.1V456.8H220.9zM217 456.5H221.2V459.9H217zM205.4 459.6H209.5V463.1H205.4zM197.6 465.9H201.8V469.3H197.6zM205.4 465.9H209.5V469.3H205.4zM197.6 469H201.8V472.5H197.6zM201.5 472.2H205.7V475.6H201.5zM189.8 475.3H194V478.7H189.8zM201.5 475.3H205.7V478.7H201.5zM201.5 478.4H205.7V481.9H201.5zM197.6 481.6H201.8V485H197.6zM193.7 497.2H197.9V500.7H193.7zM189.8 500.4H197.9V503.8H189.8zM185.9 503.5H190.1V507H185.9zM197.6 503.5H201.8V507H197.6zM135.3 509.8H147.3V513.2H135.3zM185.9 509.8H194V513.2H185.9zM135.3 512.9H147.3V516.4H135.3zM150.9 512.9H155.1V516.4H150.9zM166.4 512.9H174.5V516.4H166.4zM135.3 516.1H147.3V519.5H135.3zM154.8 516.1H159V519.5H154.8zM162.6 516.1H166.7V519.5H162.6zM376.5 531.7H380.7V535.2H376.5zM368.8 534.9H373V538.3H368.8zM361 541.1H365.2V544.6H361zM361 544.3H365.2V547.7H361zM349.3 550.5H353.5V554H349.3zM345.4 553.7H349.6V557.1H345.4zM333.7 556.8H341.8V560.2H333.7zM314.3 559.9H318.5V563.4H314.3zM322.1 559.9H326.3V563.4H322.1zM310.4 563.1H314.6V566.5H310.4zM302.6 566.2H306.8V569.6H302.6zM158.7 569.3H162.9V572.8H158.7zM166.4 569.3H170.6V572.8H166.4zM298.7 569.3H302.9V572.8H298.7zM147 572.5H151.2V575.9H147zM182 572.5H190.1V575.9H182zM197.6 572.5H213.4V575.9H197.6zM217 572.5H221.2V575.9H217zM236.5 572.5H240.7V575.9H236.5zM271.5 572.5H279.6V575.9H271.5z"/>
<path fill="#e5fefe" d="M244.3 422H248.5V425.5H244.3zM244.3 425.2H248.5V428.6H244.3zM244.3 428.3H248.5V431.7H244.3zM248.2 431.4H252.3V434.9H248.2zM259.8 431.4H264V434.9H259.8zM232.6 434.6H240.7V438H232.6zM244.3 434.6H252.3V438H244.3zM279.3 434.6H283.5V438H279.3zM236.5 437.7H248.5V441.1H236.5zM236.5 440.8H240.7V444.3H236.5zM248.2 440.8H256.2V444.3H248.2zM259.8 440.8H264V444.3H259.8zM224.8 444H229V447.4H224.8zM232.6 444H240.7V447.4H232.6zM244.3 444H248.5V447.4H244.3zM220.9 447.1H232.9V450.5H220.9zM220.9 450.2H225.1V453.7H220.9zM228.7 450.2H232.9V453.7H228.7zM209.2 453.4H221.2V456.8H209.2zM224.8 453.4H236.8V456.8H224.8zM205.4 456.5H217.3V459.9H205.4zM213.1 459.6H221.2V463.1H213.1zM205.4 462.8H213.4V466.2H205.4zM209.2 465.9H213.4V469.3H209.2zM201.5 469H213.4V472.5H201.5zM205.4 472.2H213.4V475.6H205.4zM205.4 475.3H209.5V478.7H205.4zM205.4 478.4H209.5V481.9H205.4zM201.5 481.6H209.5V485H201.5zM197.6 484.7H201.8V488.1H197.6zM197.6 491H201.8V494.4H197.6zM193.7 494.1H197.9V497.5H193.7zM197.6 497.2H201.8V500.7H197.6zM193.7 503.5H197.9V507H193.7zM185.9 506.7H190.1V510.1H185.9zM150.9 509.8H155.1V513.2H150.9zM182 509.8H186.2V513.2H182zM193.7 509.8H197.9V513.2H193.7zM162.6 512.9H166.7V516.4H162.6zM174.2 512.9H178.4V516.4H174.2zM158.7 516.1H162.9V519.5H158.7zM170.3 516.1H174.5V519.5H170.3zM361 538H365.2V541.4H361zM392.1 538H404.1V541.4H392.1zM357.1 547.4H361.3V550.8H357.1zM353.2 550.5H357.4V554H353.2zM318.2 559.9H322.4V563.4H318.2zM326 559.9H330.2V563.4H326zM306.5 563.1H310.7V566.5H306.5zM150.9 566.2H155.1V569.6H150.9zM158.7 566.2H162.9V569.6H158.7zM147 569.3H151.2V572.8H147zM162.6 569.3H166.7V572.8H162.6zM170.3 569.3H182.3V572.8H170.3zM185.9 569.3H194V572.8H185.9zM279.3 569.3H283.5V572.8H279.3zM287.1 569.3H291.2V572.8H287.1zM294.8 569.3H299V572.8H294.8zM213.1 572.5H217.3V575.9H213.1zM232.6 572.5H236.8V575.9H232.6zM240.4 572.5H244.6V575.9H240.4zM252 572.5H256.2V575.9H252zM259.8 572.5H271.8V575.9H259.8z"/>
<path fill="#e9fefe" d="M252 422H260.1V425.5H252zM263.7 422H267.9V425.5H263.7zM252 425.2H260.1V428.6H252zM263.7 425.2H267.9V428.6H263.7zM252 428.3H260.1V431.7H252zM263.7 428.3H267.9V431.7H263.7zM252 431.4H256.2V434.9H252zM267.6 431.4H271.8V434.9H267.6zM275.4 431.4H283.5V434.9H275.4zM252 434.6H256.2V438H252zM259.8 434.6H264V438H259.8zM271.5 434.6H275.7V438H271.5zM283.2 434.6H287.4V438H283.2zM248.2 437.7H256.2V441.1H248.2zM263.7 437.7H267.9V441.1H263.7zM244.3 440.8H248.5V444.3H244.3zM255.9 440.8H260.1V444.3H255.9zM240.4 444H244.6V447.4H240.4zM252 444H256.2V447.4H252zM232.6 447.1H236.8V450.5H232.6zM228.7 456.5H232.9V459.9H228.7zM220.9 459.6H225.1V463.1H220.9zM213.1 462.8H221.2V466.2H213.1zM213.1 472.2H217.3V475.6H213.1zM197.6 487.8H201.8V491.3H197.6zM197.6 494.1H205.7V497.5H197.6zM213.1 497.2H217.3V500.7H213.1zM197.6 500.4H205.7V503.8H197.6zM189.8 506.7H194V510.1H189.8zM197.6 506.7H205.7V510.1H197.6zM197.6 509.8H201.8V513.2H197.6zM147 512.9H151.2V516.4H147zM154.8 512.9H159V516.4H154.8zM182 512.9H190.1V516.4H182zM147 516.1H155.1V519.5H147zM166.4 516.1H170.6V519.5H166.4zM372.7 531.7H376.8V535.2H372.7zM380.4 531.7H384.6V535.2H380.4zM361 534.9H369.1V538.3H361zM357.1 541.1H361.3V544.6H357.1zM337.6 553.7H345.7V557.1H337.6zM314.3 556.8H318.5V560.2H314.3zM329.9 556.8H334V560.2H329.9zM302.6 563.1H306.8V566.5H302.6zM135.3 566.2H147.3V569.6H135.3zM170.3 566.2H174.5V569.6H170.3zM298.7 566.2H302.9V569.6H298.7zM150.9 569.3H155.1V572.8H150.9zM193.7 569.3H197.9V572.8H193.7zM201.5 569.3H209.5V572.8H201.5zM267.6 569.3H271.8V572.8H267.6zM275.4 569.3H279.6V572.8H275.4zM290.9 569.3H295.1V572.8H290.9zM244.3 572.5H252.3V575.9H244.3z"/>
<path fill="#edffff" d="M259.8 422H264V425.5H259.8zM271.5 422H283.5V425.5H271.5zM259.8 425.2H264V428.6H259.8zM271.5 425.2H283.5V428.6H271.5zM259.8 428.3H264V431.7H259.8zM271.5 428.3H283.5V431.7H271.5zM255.9 431.4H260.1V434.9H255.9zM263.7 431.4H267.9V434.9H263.7zM255.9 434.6H260.1V438H255.9zM263.7 434.6H267.9V438H263.7zM275.4 434.6H279.6V438H275.4zM259.8 437.7H264V441.1H259.8zM271.5 437.7H279.6V441.1H271.5zM248.2 444H252.3V447.4H248.2zM255.9 444H260.1V447.4H255.9zM240.4 447.1H244.6V450.5H240.4zM232.6 450.2H240.7V453.7H232.6zM244.3 450.2H248.5V453.7H244.3zM236.5 453.4H244.6V456.8H236.5zM220.9 456.5H229V459.9H220.9zM236.5 456.5H240.7V459.9H236.5zM209.2 459.6H213.4V463.1H209.2zM220.9 462.8H225.1V466.2H220.9zM213.1 465.9H217.3V469.3H213.1zM209.2 478.4H213.4V481.9H209.2zM201.5 484.7H205.7V488.1H201.5zM201.5 487.8H205.7V491.3H201.5zM201.5 491H209.5V494.4H201.5zM209.2 494.1H217.3V497.5H209.2zM201.5 497.2H213.4V500.7H201.5zM217 497.2H225.1V500.7H217zM213.1 500.4H221.2V503.8H213.1zM201.5 509.8H209.5V513.2H201.5zM178.1 512.9H182.3V516.4H178.1zM193.7 512.9H197.9V516.4H193.7zM135.3 519.2H147.3V522.6H135.3zM388.2 534.9H392.4V538.3H388.2zM357.1 538H361.3V541.4H357.1zM353.2 544.3H361.3V547.7H353.2zM349.3 547.4H357.4V550.8H349.3zM341.5 550.5H349.6V554H341.5zM333.7 553.7H337.9V557.1H333.7zM318.2 556.8H330.2V560.2H318.2zM147 563.1H151.2V566.5H147zM166.4 563.1H178.4V566.5H166.4zM182 563.1H186.2V566.5H182zM290.9 563.1H295.1V566.5H290.9zM154.8 566.2H159V569.6H154.8zM162.6 566.2H170.6V569.6H162.6zM178.1 566.2H197.9V569.6H178.1zM279.3 566.2H299V569.6H279.3zM135.3 569.3H147.3V572.8H135.3zM182 569.3H186.2V572.8H182zM209.2 569.3H213.4V572.8H209.2zM271.5 569.3H275.7V572.8H271.5z"/>
<path fill="#f1ffff" d="M267.6 422H271.8V425.5H267.6zM283.2 422H287.4V425.5H283.2zM290.9 422H295.1V425.5H290.9zM267.6 425.2H271.8V428.6H267.6zM283.2 425.2H287.4V428.6H283.2zM290.9 425.2H295.1V428.6H290.9zM267.6 428.3H271.8V431.7H267.6zM283.2 428.3H287.4V431.7H283.2zM290.9 428.3H295.1V431.7H290.9zM271.5 431.4H275.7V434.9H271.5zM283.2 431.4H291.2V434.9H283.2zM294.8 431.4H299V434.9H294.8zM267.6 434.6H271.8V438H267.6zM287.1 434.6H295.1V438H287.1zM267.6 437.7H271.8V441.1H267.6zM279.3 437.7H283.5V441.1H279.3zM287.1 437.7H291.2V441.1H287.1zM263.7 440.8H275.7V444.3H263.7zM259.8 444H264V447.4H259.8zM236.5 447.1H240.7V450.5H236.5zM248.2 447.1H252.3V450.5H248.2zM232.6 456.5H236.8V459.9H232.6zM224.8 459.6H229V463.1H224.8zM213.1 469H217.3V472.5H213.1zM217 472.2H221.2V475.6H217zM209.2 475.3H217.3V478.7H209.2zM217 478.4H221.2V481.9H217zM209.2 481.6H217.3V485H209.2zM205.4 484.7H209.5V488.1H205.4zM205.4 494.1H209.5V497.5H205.4zM217 494.1H225.1V497.5H217zM209.2 500.4H213.4V503.8H209.2zM220.9 500.4H225.1V503.8H220.9zM201.5 503.5H205.7V507H201.5zM205.4 506.7H209.5V510.1H205.4zM213.1 509.8H217.3V513.2H213.1zM189.8 512.9H194V516.4H189.8zM197.6 512.9H201.8V516.4H197.6zM205.4 512.9H209.5V516.4H205.4zM174.2 516.1H182.3V519.5H174.2zM147 519.2H151.2V522.6H147zM154.8 519.2H162.9V522.6H154.8zM166.4 519.2H174.5V522.6H166.4zM372.7 528.6H376.8V532H372.7zM364.9 531.7H373V535.2H364.9zM384.3 531.7H392.4V535.2H384.3zM392.1 534.9H404.1V538.3H392.1zM353.2 538H357.4V541.4H353.2zM353.2 541.1H357.4V544.6H353.2zM349.3 544.3H353.5V547.7H349.3zM337.6 550.5H341.8V554H337.6zM306.5 559.9H314.6V563.4H306.5zM135.3 563.1H147.3V566.5H135.3zM154.8 563.1H159V566.5H154.8zM178.1 563.1H182.3V566.5H178.1zM189.8 563.1H194V566.5H189.8zM294.8 563.1H302.9V566.5H294.8zM147 566.2H151.2V569.6H147zM174.2 566.2H178.4V569.6H174.2zM197.6 566.2H201.8V569.6H197.6zM209.2 566.2H213.4V569.6H209.2zM267.6 566.2H271.8V569.6H267.6zM197.6 569.3H201.8V572.8H197.6zM213.1 569.3H229V572.8H213.1zM232.6 569.3H236.8V572.8H232.6zM248.2 569.3H267.9V572.8H248.2z"/>
<path fill="#f8ffff" d="M287.1 422H291.2V425.5H287.1zM302.6 422H310.7V425.5H302.6zM314.3 422H322.4V425.5H314.3zM349.3 422H353.5V425.5H349.3zM287.1 425.2H291.2V428.6H287.1zM302.6 425.2H310.7V428.6H302.6zM314.3 425.2H322.4V428.6H314.3zM349.3 425.2H353.5V428.6H349.3zM287.1 428.3H291.2V431.7H287.1zM302.6 428.3H310.7V431.7H302.6zM314.3 428.3H322.4V431.7H314.3zM349.3 428.3H353.5V431.7H349.3zM298.7 431.4H302.9V434.9H298.7zM298.7 434.6H314.6V438H298.7zM318.2 434.6H322.4V438H318.2zM290.9 437.7H295.1V441.1H290.9zM318.2 437.7H322.4V441.1H318.2zM279.3 440.8H283.5V444.3H279.3zM267.6 444H271.8V447.4H267.6zM244.3 447.1H248.5V450.5H244.3zM259.8 447.1H267.9V450.5H259.8zM275.4 447.1H279.6V450.5H275.4zM255.9 450.2H260.1V453.7H255.9zM263.7 450.2H267.9V453.7H263.7zM259.8 453.4H267.9V456.8H259.8zM240.4 456.5H244.6V459.9H240.4zM248.2 459.6H252.3V463.1H248.2zM224.8 462.8H229V466.2H224.8zM224.8 465.9H229V469.3H224.8zM220.9 469H229V472.5H220.9zM224.8 472.2H229V475.6H224.8zM213.1 484.7H225.1V488.1H213.1zM205.4 487.8H213.4V491.3H205.4zM213.1 491H217.3V494.4H213.1zM224.8 497.2H229V500.7H224.8zM205.4 500.4H209.5V503.8H205.4zM209.2 503.5H213.4V507H209.2zM220.9 503.5H225.1V507H220.9zM217 506.7H221.2V510.1H217zM217 509.8H221.2V513.2H217zM201.5 512.9H205.7V516.4H201.5zM213.1 512.9H217.3V516.4H213.1zM189.8 516.1H194V519.5H189.8zM197.6 516.1H201.8V519.5H197.6zM178.1 519.2H182.3V522.6H178.1zM135.3 522.3H151.2V525.8H135.3zM154.8 522.3H159V525.8H154.8zM376.5 525.5H380.7V528.9H376.5zM388.2 525.5H392.4V528.9H388.2zM361 531.7H365.2V535.2H361zM392.1 531.7H404.1V535.2H392.1zM353.2 534.9H357.4V538.3H353.2zM345.4 541.1H349.6V544.6H345.4zM329.9 550.5H337.9V554H329.9zM150.9 556.8H155.1V560.2H150.9zM182 556.8H186.2V560.2H182zM135.3 559.9H147.3V563.4H135.3zM150.9 559.9H159V563.4H150.9zM162.6 559.9H166.7V563.4H162.6zM170.3 559.9H174.5V563.4H170.3zM182 559.9H186.2V563.4H182zM193.7 559.9H197.9V563.4H193.7zM294.8 559.9H299V563.4H294.8zM302.6 559.9H306.8V563.4H302.6zM150.9 563.1H155.1V566.5H150.9zM162.6 563.1H166.7V566.5H162.6zM197.6 563.1H201.8V566.5H197.6zM283.2 563.1H291.2V566.5H283.2zM236.5 569.3H240.7V572.8H236.5z"/>
<path fill="#f5ffff" d="M294.8 422H302.9V425.5H294.8zM310.4 422H314.6V425.5H310.4zM392.1 422H404.1V425.5H392.1zM294.8 425.2H302.9V428.6H294.8zM310.4 425.2H314.6V428.6H310.4zM392.1 425.2H404.1V428.6H392.1zM294.8 428.3H302.9V431.7H294.8zM310.4 428.3H314.6V431.7H310.4zM392.1 428.3H404.1V431.7H392.1zM302.6 431.4H318.5V434.9H302.6zM294.8 434.6H299V438H294.8zM283.2 437.7H287.4V441.1H283.2zM275.4 440.8H279.6V444.3H275.4zM290.9 440.8H295.1V444.3H290.9zM263.7 444H267.9V447.4H263.7zM271.5 444H283.5V447.4H271.5zM287.1 444H291.2V447.4H287.1zM252 447.1H260.1V450.5H252zM279.3 447.1H287.4V450.5H279.3zM240.4 450.2H244.6V453.7H240.4zM252 450.2H256.2V453.7H252zM259.8 450.2H264V453.7H259.8zM244.3 453.4H252.3V456.8H244.3zM244.3 456.5H248.5V459.9H244.3zM228.7 459.6H236.8V463.1H228.7zM240.4 459.6H244.6V463.1H240.4zM217 465.9H225.1V469.3H217zM217 469H221.2V472.5H217zM220.9 472.2H225.1V475.6H220.9zM217 475.3H225.1V478.7H217zM213.1 478.4H217.3V481.9H213.1zM220.9 478.4H229V481.9H220.9zM217 481.6H225.1V485H217zM209.2 484.7H213.4V488.1H209.2zM209.2 491H213.4V494.4H209.2zM224.8 500.4H229V503.8H224.8zM205.4 503.5H209.5V507H205.4zM213.1 503.5H221.2V507H213.1zM209.2 506.7H217.3V510.1H209.2zM209.2 509.8H213.4V513.2H209.2zM209.2 512.9H213.4V516.4H209.2zM182 516.1H190.1V519.5H182zM193.7 516.1H197.9V519.5H193.7zM150.9 519.2H155.1V522.6H150.9zM162.6 519.2H166.7V522.6H162.6zM174.2 519.2H178.4V522.6H174.2zM182 519.2H186.2V522.6H182zM150.9 522.3H155.1V525.8H150.9zM384.3 525.5H388.5V528.9H384.3zM376.5 528.6H388.5V532H376.5zM392.1 528.6H404.1V532H392.1zM357.1 531.7H361.3V535.2H357.1zM357.1 534.9H361.3V538.3H357.1zM349.3 538H353.5V541.4H349.3zM349.3 541.1H353.5V544.6H349.3zM345.4 547.4H349.6V550.8H345.4zM306.5 553.7H334V557.1H306.5zM310.4 556.8H314.6V560.2H310.4zM178.1 559.9H182.3V563.4H178.1zM158.7 563.1H162.9V566.5H158.7zM185.9 563.1H190.1V566.5H185.9zM193.7 563.1H197.9V566.5H193.7zM201.5 566.2H209.5V569.6H201.5zM263.7 566.2H267.9V569.6H263.7zM271.5 566.2H279.6V569.6H271.5zM228.7 569.3H232.9V572.8H228.7zM240.4 569.3H248.5V572.8H240.4z"/>
<path fill="#fef8fd" d="M322.1 422H330.2V425.5H322.1zM372.7 422H376.8V425.5H372.7zM322.1 425.2H330.2V428.6H322.1zM372.7 425.2H376.8V428.6H372.7zM322.1 428.3H330.2V431.7H322.1zM372.7 428.3H376.8V431.7H372.7zM329.9 431.4H334V434.9H329.9zM357.1 431.4H361.3V434.9H357.1zM333.7 434.6H337.9V438H333.7zM361 434.6H365.2V438H361zM376.5 434.6H384.6V438H376.5zM388.2 434.6H392.4V438H388.2zM345.4 437.7H361.3V441.1H345.4zM384.3 437.7H392.4V441.1H384.3zM326 440.8H330.2V444.3H326zM357.1 440.8H369.1V444.3H357.1zM376.5 440.8H380.7V444.3H376.5zM306.5 444H318.5V447.4H306.5zM322.1 444H326.3V447.4H322.1zM364.9 444H369.1V447.4H364.9zM372.7 444H376.8V447.4H372.7zM380.4 444H384.6V447.4H380.4zM388.2 444H404.1V447.4H388.2zM294.8 447.1H306.8V450.5H294.8zM326 447.1H330.2V450.5H326zM341.5 447.1H349.6V450.5H341.5zM368.8 447.1H373V450.5H368.8zM392.1 447.1H404.1V450.5H392.1zM294.8 450.2H310.7V453.7H294.8zM314.3 450.2H322.4V453.7H314.3zM329.9 450.2H334V453.7H329.9zM337.6 450.2H341.8V453.7H337.6zM372.7 450.2H380.7V453.7H372.7zM271.5 453.4H275.7V456.8H271.5zM294.8 453.4H299V456.8H294.8zM314.3 453.4H318.5V456.8H314.3zM322.1 453.4H330.2V456.8H322.1zM333.7 453.4H337.9V456.8H333.7zM345.4 453.4H349.6V456.8H345.4zM368.8 453.4H373V456.8H368.8zM392.1 453.4H404.1V456.8H392.1zM271.5 456.5H279.6V459.9H271.5zM290.9 456.5H295.1V459.9H290.9zM302.6 456.5H306.8V459.9H302.6zM310.4 456.5H314.6V459.9H310.4zM326 456.5H330.2V459.9H326zM333.7 456.5H337.9V459.9H333.7zM349.3 456.5H353.5V459.9H349.3zM376.5 456.5H380.7V459.9H376.5zM259.8 459.6H264V463.1H259.8zM267.6 459.6H271.8V463.1H267.6zM306.5 459.6H310.7V463.1H306.5zM322.1 459.6H326.3V463.1H322.1zM353.2 459.6H357.4V463.1H353.2zM380.4 459.6H384.6V463.1H380.4zM388.2 459.6H392.4V463.1H388.2zM248.2 462.8H252.3V466.2H248.2zM255.9 462.8H264V466.2H255.9zM294.8 462.8H299V466.2H294.8zM306.5 462.8H310.7V466.2H306.5zM364.9 462.8H369.1V466.2H364.9zM380.4 462.8H384.6V466.2H380.4zM388.2 462.8H404.1V466.2H388.2zM244.3 465.9H248.5V469.3H244.3zM255.9 465.9H260.1V469.3H255.9zM310.4 465.9H314.6V469.3H310.4zM392.1 465.9H404.1V469.3H392.1zM244.3 469H248.5V472.5H244.3zM376.5 472.2H380.7V475.6H376.5zM236.5 475.3H244.6V478.7H236.5zM380.4 475.3H392.4V478.7H380.4zM372.7 478.4H376.8V481.9H372.7zM380.4 478.4H384.6V481.9H380.4zM388.2 478.4H392.4V481.9H388.2zM228.7 481.6H232.9V485H228.7zM372.7 481.6H380.7V485H372.7zM224.8 484.7H229V488.1H224.8zM236.5 484.7H240.7V488.1H236.5zM361 484.7H365.2V488.1H361zM388.2 484.7H392.4V488.1H388.2zM224.8 487.8H229V491.3H224.8zM232.6 487.8H236.8V491.3H232.6zM380.4 487.8H384.6V491.3H380.4zM392.1 487.8H404.1V491.3H392.1zM228.7 491H232.9V494.4H228.7zM232.6 494.1H236.8V497.5H232.6zM380.4 494.1H384.6V497.5H380.4zM228.7 497.2H232.9V500.7H228.7zM236.5 497.2H240.7V500.7H236.5zM376.5 497.2H388.5V500.7H376.5zM372.7 500.4H376.8V503.8H372.7zM388.2 500.4H392.4V503.8H388.2zM368.8 503.5H373V507H368.8zM376.5 503.5H380.7V507H376.5zM384.3 503.5H388.5V507H384.3zM236.5 506.7H240.7V510.1H236.5zM364.9 506.7H369.1V510.1H364.9zM392.1 506.7H404.1V510.1H392.1zM236.5 512.9H240.7V516.4H236.5zM364.9 512.9H369.1V516.4H364.9zM392.1 512.9H404.1V516.4H392.1zM224.8 516.1H236.8V519.5H224.8zM228.7 519.2H232.9V522.6H228.7zM384.3 519.2H392.4V522.6H384.3zM174.2 522.3H178.4V525.8H174.2zM182 522.3H186.2V525.8H182zM364.9 522.3H369.1V525.8H364.9zM135.3 528.6H151.2V532H135.3zM349.3 528.6H357.4V532H349.3zM345.4 534.9H349.6V538.3H345.4zM337.6 538H341.8V541.4H337.6zM329.9 541.1H334V544.6H329.9zM341.5 541.1H345.7V544.6H341.5zM326 544.3H330.2V547.7H326zM314.3 547.4H318.5V550.8H314.3zM302.6 550.5H306.8V554H302.6zM170.3 553.7H174.5V557.1H170.3zM298.7 553.7H306.8V557.1H298.7zM189.8 556.8H197.9V560.2H189.8zM201.5 556.8H205.7V560.2H201.5zM298.7 556.8H302.9V560.2H298.7zM201.5 559.9H205.7V563.4H201.5zM279.3 559.9H287.4V563.4H279.3zM244.3 563.1H248.5V566.5H244.3zM263.7 563.1H267.9V566.5H263.7zM228.7 566.2H236.8V569.6H228.7zM240.4 566.2H244.6V569.6H240.4z"/>
<path fill="#fffbfe" d="M329.9 422H341.8V425.5H329.9zM329.9 425.2H341.8V428.6H329.9zM329.9 428.3H341.8V431.7H329.9zM326 431.4H330.2V434.9H326zM353.2 431.4H357.4V434.9H353.2zM361 431.4H365.2V434.9H361zM372.7 431.4H376.8V434.9H372.7zM384.3 431.4H388.5V434.9H384.3zM326 434.6H330.2V438H326zM341.5 434.6H345.7V438H341.5zM349.3 434.6H357.4V438H349.3zM364.9 434.6H369.1V438H364.9zM372.7 434.6H376.8V438H372.7zM392.1 434.6H404.1V438H392.1zM329.9 437.7H337.9V441.1H329.9zM341.5 437.7H345.7V441.1H341.5zM364.9 437.7H369.1V441.1H364.9zM310.4 440.8H318.5V444.3H310.4zM337.6 440.8H345.7V444.3H337.6zM380.4 440.8H384.6V444.3H380.4zM388.2 440.8H392.4V444.3H388.2zM318.2 444H322.4V447.4H318.2zM329.9 444H349.6V447.4H329.9zM353.2 444H357.4V447.4H353.2zM361 444H365.2V447.4H361zM376.5 444H380.7V447.4H376.5zM384.3 444H388.5V447.4H384.3zM353.2 447.1H357.4V450.5H353.2zM376.5 447.1H380.7V450.5H376.5zM384.3 447.1H388.5V450.5H384.3zM357.1 450.2H361.3V453.7H357.1zM384.3 450.2H392.4V453.7H384.3zM275.4 453.4H283.5V456.8H275.4zM290.9 453.4H295.1V456.8H290.9zM306.5 453.4H314.6V456.8H306.5zM318.2 453.4H322.4V456.8H318.2zM337.6 453.4H341.8V456.8H337.6zM376.5 453.4H384.6V456.8H376.5zM388.2 453.4H392.4V456.8H388.2zM255.9 456.5H260.1V459.9H255.9zM263.7 456.5H271.8V459.9H263.7zM279.3 456.5H291.2V459.9H279.3zM306.5 456.5H310.7V459.9H306.5zM329.9 456.5H334V459.9H329.9zM372.7 456.5H376.8V459.9H372.7zM380.4 456.5H384.6V459.9H380.4zM388.2 456.5H404.1V459.9H388.2zM252 459.6H260.1V463.1H252zM263.7 459.6H267.9V463.1H263.7zM329.9 459.6H334V463.1H329.9zM368.8 459.6H373V463.1H368.8zM252 462.8H256.2V466.2H252zM384.3 462.8H388.5V466.2H384.3zM228.7 465.9H232.9V469.3H228.7zM236.5 465.9H244.6V469.3H236.5zM388.2 465.9H392.4V469.3H388.2zM232.6 469H244.6V472.5H232.6zM388.2 469H404.1V472.5H388.2zM228.7 472.2H244.6V475.6H228.7zM388.2 472.2H392.4V475.6H388.2zM232.6 475.3H236.8V478.7H232.6zM392.1 475.3H404.1V478.7H392.1zM232.6 478.4H240.7V481.9H232.6zM376.5 478.4H380.7V481.9H376.5zM392.1 478.4H404.1V481.9H392.1zM380.4 481.6H384.6V485H380.4zM388.2 481.6H404.1V485H388.2zM384.3 484.7H388.5V488.1H384.3zM392.1 484.7H404.1V488.1H392.1zM240.4 487.8H244.6V491.3H240.4zM384.3 487.8H388.5V491.3H384.3zM228.7 494.1H232.9V497.5H228.7zM392.1 494.1H404.1V497.5H392.1zM232.6 497.2H236.8V500.7H232.6zM232.6 500.4H236.8V503.8H232.6zM244.3 500.4H248.5V503.8H244.3zM380.4 500.4H384.6V503.8H380.4zM392.1 500.4H404.1V503.8H392.1zM392.1 503.5H404.1V507H392.1zM220.9 512.9H236.8V516.4H220.9zM388.2 516.1H404.1V519.5H388.2zM201.5 519.2H213.4V522.6H201.5zM158.7 522.3H162.9V525.8H158.7zM166.4 522.3H174.5V525.8H166.4zM178.1 522.3H182.3V525.8H178.1zM185.9 522.3H190.1V525.8H185.9zM376.5 522.3H384.6V525.8H376.5zM392.1 522.3H404.1V525.8H392.1zM154.8 525.5H159V528.9H154.8zM368.8 525.5H376.8V528.9H368.8zM368.8 528.6H373V532H368.8zM349.3 531.7H353.5V535.2H349.3zM333.7 541.1H341.8V544.6H333.7zM333.7 544.3H345.7V547.7H333.7zM326 547.4H334V550.8H326zM147 553.7H155.1V557.1H147zM162.6 553.7H170.6V557.1H162.6zM174.2 553.7H190.1V557.1H174.2zM162.6 556.8H166.7V560.2H162.6zM174.2 556.8H178.4V560.2H174.2zM185.9 556.8H190.1V560.2H185.9zM294.8 556.8H299V560.2H294.8zM205.4 559.9H209.5V563.4H205.4zM271.5 559.9H275.7V563.4H271.5zM209.2 563.1H217.3V566.5H209.2zM271.5 563.1H275.7V566.5H271.5zM220.9 566.2H225.1V569.6H220.9zM236.5 566.2H240.7V569.6H236.5z"/>
<path fill="#fcffff" d="M341.5 422H349.6V425.5H341.5zM388.2 422H392.4V425.5H388.2zM341.5 425.2H349.6V428.6H341.5zM388.2 425.2H392.4V428.6H388.2zM341.5 428.3H349.6V431.7H341.5zM388.2 428.3H392.4V431.7H388.2zM290.9 431.4H295.1V434.9H290.9zM318.2 431.4H322.4V434.9H318.2zM341.5 431.4H349.6V434.9H341.5zM368.8 431.4H373V434.9H368.8zM392.1 431.4H404.1V434.9H392.1zM314.3 434.6H318.5V438H314.3zM322.1 434.6H326.3V438H322.1zM368.8 434.6H373V438H368.8zM294.8 437.7H318.5V441.1H294.8zM322.1 437.7H330.2V441.1H322.1zM368.8 437.7H373V441.1H368.8zM283.2 440.8H287.4V444.3H283.2zM302.6 440.8H306.8V444.3H302.6zM372.7 440.8H376.8V444.3H372.7zM283.2 444H287.4V447.4H283.2zM294.8 444H299V447.4H294.8zM267.6 447.1H275.7V450.5H267.6zM248.2 450.2H252.3V453.7H248.2zM267.6 450.2H275.7V453.7H267.6zM279.3 450.2H291.2V453.7H279.3zM252 453.4H260.1V456.8H252zM287.1 453.4H291.2V456.8H287.1zM248.2 456.5H252.3V459.9H248.2zM236.5 459.6H240.7V463.1H236.5zM244.3 459.6H248.5V463.1H244.3zM228.7 462.8H232.9V466.2H228.7zM244.3 462.8H248.5V466.2H244.3zM224.8 475.3H229V478.7H224.8zM224.8 481.6H229V485H224.8zM213.1 487.8H221.2V491.3H213.1zM388.2 487.8H392.4V491.3H388.2zM217 491H225.1V494.4H217zM384.3 491H388.5V494.4H384.3zM392.1 491H404.1V494.4H392.1zM224.8 494.1H229V497.5H224.8zM224.8 503.5H232.9V507H224.8zM220.9 509.8H225.1V513.2H220.9zM201.5 516.1H213.4V519.5H201.5zM185.9 519.2H197.9V522.6H185.9zM392.1 519.2H404.1V522.6H392.1zM135.3 525.5H151.2V528.9H135.3zM380.4 525.5H384.6V528.9H380.4zM392.1 525.5H404.1V528.9H392.1zM388.2 528.6H392.4V532H388.2zM345.4 544.3H349.6V547.7H345.4zM333.7 547.4H341.8V550.8H333.7zM314.3 550.5H318.5V554H314.3zM322.1 550.5H330.2V554H322.1zM135.3 553.7H147.3V557.1H135.3zM147 556.8H151.2V560.2H147zM158.7 556.8H162.9V560.2H158.7zM302.6 556.8H310.7V560.2H302.6zM147 559.9H151.2V563.4H147zM158.7 559.9H162.9V563.4H158.7zM166.4 559.9H170.6V563.4H166.4zM174.2 559.9H178.4V563.4H174.2zM185.9 559.9H190.1V563.4H185.9zM290.9 559.9H295.1V563.4H290.9zM298.7 559.9H302.9V563.4H298.7zM201.5 563.1H205.7V566.5H201.5zM275.4 563.1H283.5V566.5H275.4zM213.1 566.2H221.2V569.6H213.1zM244.3 566.2H264V569.6H244.3z"/>
<path fill="#ffffff" d="M353.2 422H373V425.5H353.2zM376.5 422H388.5V425.5H376.5zM353.2 425.2H373V428.6H353.2zM376.5 425.2H388.5V428.6H376.5zM353.2 428.3H373V431.7H353.2zM376.5 428.3H388.5V431.7H376.5zM322.1 431.4H326.3V434.9H322.1zM333.7 431.4H341.8V434.9H333.7zM349.3 431.4H353.5V434.9H349.3zM364.9 431.4H369.1V434.9H364.9zM380.4 431.4H384.6V434.9H380.4zM388.2 431.4H392.4V434.9H388.2zM329.9 434.6H334V438H329.9zM337.6 434.6H341.8V438H337.6zM345.4 434.6H349.6V438H345.4zM372.7 437.7H380.7V441.1H372.7zM392.1 437.7H404.1V441.1H392.1zM287.1 440.8H291.2V444.3H287.1zM294.8 440.8H302.9V444.3H294.8zM306.5 440.8H310.7V444.3H306.5zM318.2 440.8H326.3V444.3H318.2zM329.9 440.8H337.9V444.3H329.9zM368.8 440.8H373V444.3H368.8zM392.1 440.8H404.1V444.3H392.1zM290.9 444H295.1V447.4H290.9zM298.7 444H306.8V447.4H298.7zM357.1 444H361.3V447.4H357.1zM287.1 447.1H295.1V450.5H287.1zM318.2 447.1H322.4V450.5H318.2zM357.1 447.1H365.2V450.5H357.1zM380.4 447.1H384.6V450.5H380.4zM275.4 450.2H279.6V453.7H275.4zM290.9 450.2H295.1V453.7H290.9zM322.1 450.2H326.3V453.7H322.1zM341.5 450.2H345.7V453.7H341.5zM380.4 450.2H384.6V453.7H380.4zM267.6 453.4H271.8V456.8H267.6zM283.2 453.4H287.4V456.8H283.2zM302.6 453.4H306.8V456.8H302.6zM384.3 453.4H388.5V456.8H384.3zM252 456.5H256.2V459.9H252zM259.8 456.5H264V459.9H259.8zM384.3 456.5H388.5V459.9H384.3zM384.3 459.6H388.5V463.1H384.3zM232.6 462.8H244.6V466.2H232.6zM232.6 465.9H236.8V469.3H232.6zM228.7 469H232.9V472.5H228.7zM228.7 475.3H232.9V478.7H228.7zM228.7 478.4H232.9V481.9H228.7zM220.9 487.8H225.1V491.3H220.9zM224.8 491H229V494.4H224.8zM380.4 491H384.6V494.4H380.4zM388.2 491H392.4V494.4H388.2zM384.3 494.1H392.4V497.5H384.3zM392.1 497.2H404.1V500.7H392.1zM228.7 500.4H232.9V503.8H228.7zM232.6 503.5H236.8V507H232.6zM220.9 506.7H236.8V510.1H220.9zM224.8 509.8H236.8V513.2H224.8zM217 512.9H221.2V516.4H217zM213.1 516.1H217.3V519.5H213.1zM197.6 519.2H201.8V522.6H197.6zM162.6 522.3H166.7V525.8H162.6zM372.7 522.3H376.8V525.8H372.7zM384.3 522.3H392.4V525.8H384.3zM150.9 525.5H155.1V528.9H150.9zM361 528.6H369.1V532H361zM353.2 531.7H357.4V535.2H353.2zM349.3 534.9H353.5V538.3H349.3zM341.5 538H349.6V541.4H341.5zM318.2 547.4H326.3V550.8H318.2zM341.5 547.4H345.7V550.8H341.5zM306.5 550.5H314.6V554H306.5zM318.2 550.5H322.4V554H318.2zM154.8 553.7H159V557.1H154.8zM135.3 556.8H147.3V560.2H135.3zM154.8 556.8H159V560.2H154.8zM166.4 556.8H174.5V560.2H166.4zM178.1 556.8H182.3V560.2H178.1zM189.8 559.9H194V563.4H189.8zM197.6 559.9H201.8V563.4H197.6zM287.1 559.9H291.2V563.4H287.1zM205.4 563.1H209.5V566.5H205.4zM267.6 563.1H271.8V566.5H267.6z"/>
<path fill="#c0f8fc" d="M162.6 431.4H182.3V434.9H162.6zM185.9 431.4H190.1V434.9H185.9zM150.9 434.6H155.1V438H150.9zM178.1 434.6H182.3V438H178.1zM147 437.7H151.2V441.1H147zM154.8 437.7H162.9V441.1H154.8zM170.3 437.7H174.5V441.1H170.3zM178.1 437.7H182.3V441.1H178.1zM135.3 440.8H147.3V444.3H135.3zM158.7 440.8H166.7V444.3H158.7zM174.2 440.8H178.4V444.3H174.2zM154.8 444H159V447.4H154.8zM135.3 447.1H147.3V450.5H135.3zM150.9 447.1H155.1V450.5H150.9zM158.7 447.1H162.9V450.5H158.7zM170.3 447.1H178.4V450.5H170.3zM189.8 447.1H194V450.5H189.8zM154.8 450.2H162.9V453.7H154.8zM166.4 450.2H170.6V453.7H166.4zM150.9 453.4H155.1V456.8H150.9zM135.3 456.5H151.2V459.9H135.3zM154.8 456.5H162.9V459.9H154.8zM135.3 459.6H147.3V463.1H135.3zM154.8 459.6H159V463.1H154.8zM150.9 462.8H155.1V466.2H150.9zM147 465.9H151.2V469.3H147zM147 472.2H151.2V475.6H147zM166.4 472.2H170.6V475.6H166.4zM135.3 475.3H147.3V478.7H135.3zM162.6 475.3H170.6V478.7H162.6zM178.1 481.6H182.3V485H178.1zM182 487.8H186.2V491.3H182zM135.3 491H147.3V494.4H135.3zM150.9 491H155.1V494.4H150.9zM178.1 491H182.3V494.4H178.1zM158.7 494.1H162.9V497.5H158.7zM154.8 497.2H159V500.7H154.8zM178.1 497.2H182.3V500.7H178.1zM178.1 500.4H182.3V503.8H178.1zM166.4 506.7H170.6V510.1H166.4zM174.2 506.7H178.4V510.1H174.2zM380.4 541.1H384.6V544.6H380.4zM388.2 544.3H392.4V547.7H388.2zM376.5 547.4H380.7V550.8H376.5zM392.1 547.4H404.1V550.8H392.1zM361 553.7H369.1V557.1H361zM345.4 559.9H349.6V563.4H345.4zM333.7 563.1H337.9V566.5H333.7zM178.1 575.6H182.3V579H178.1zM197.6 575.6H201.8V579H197.6zM287.1 575.6H291.2V579H287.1zM294.8 575.6H299V579H294.8zM135.3 578.7H147.3V582.2H135.3zM240.4 578.7H244.6V582.2H240.4zM255.9 578.7H260.1V582.2H255.9zM275.4 578.7H279.6V582.2H275.4zM392.1 578.7H404.1V582.2H392.1zM255.9 581.9H260.1V585.3H255.9zM255.9 585H260.1V588.4H255.9zM255.9 588.1H260.1V591.6H255.9z"/>
<path fill="#fef4fc" d="M376.5 431.4H380.7V434.9H376.5zM357.1 434.6H361.3V438H357.1zM384.3 434.6H388.5V438H384.3zM337.6 437.7H341.8V441.1H337.6zM361 437.7H365.2V441.1H361zM380.4 437.7H384.6V441.1H380.4zM345.4 440.8H357.4V444.3H345.4zM384.3 440.8H388.5V444.3H384.3zM326 444H330.2V447.4H326zM349.3 444H353.5V447.4H349.3zM368.8 444H373V447.4H368.8zM314.3 447.1H318.5V450.5H314.3zM322.1 447.1H326.3V450.5H322.1zM329.9 447.1H341.8V450.5H329.9zM349.3 447.1H353.5V450.5H349.3zM364.9 447.1H369.1V450.5H364.9zM372.7 447.1H376.8V450.5H372.7zM388.2 447.1H392.4V450.5H388.2zM326 450.2H330.2V453.7H326zM333.7 450.2H337.9V453.7H333.7zM353.2 450.2H357.4V453.7H353.2zM361 450.2H373V453.7H361zM392.1 450.2H404.1V453.7H392.1zM298.7 453.4H302.9V456.8H298.7zM329.9 453.4H334V456.8H329.9zM341.5 453.4H345.7V456.8H341.5zM353.2 453.4H357.4V456.8H353.2zM372.7 453.4H376.8V456.8H372.7zM294.8 456.5H299V459.9H294.8zM314.3 456.5H326.3V459.9H314.3zM357.1 456.5H361.3V459.9H357.1zM364.9 456.5H373V459.9H364.9zM271.5 459.6H279.6V463.1H271.5zM283.2 459.6H287.4V463.1H283.2zM314.3 459.6H318.5V463.1H314.3zM326 459.6H330.2V463.1H326zM333.7 459.6H337.9V463.1H333.7zM345.4 459.6H353.5V463.1H345.4zM361 459.6H369.1V463.1H361zM376.5 459.6H380.7V463.1H376.5zM267.6 462.8H275.7V466.2H267.6zM287.1 462.8H291.2V466.2H287.1zM302.6 462.8H306.8V466.2H302.6zM310.4 462.8H314.6V466.2H310.4zM326 462.8H334V466.2H326zM368.8 462.8H376.8V466.2H368.8zM248.2 465.9H252.3V469.3H248.2zM259.8 465.9H271.8V469.3H259.8zM302.6 465.9H310.7V469.3H302.6zM314.3 465.9H318.5V469.3H314.3zM368.8 465.9H376.8V469.3H368.8zM384.3 465.9H388.5V469.3H384.3zM306.5 469H310.7V472.5H306.5zM353.2 469H361.3V472.5H353.2zM372.7 469H376.8V472.5H372.7zM244.3 472.2H248.5V475.6H244.3zM349.3 472.2H353.5V475.6H349.3zM372.7 472.2H376.8V475.6H372.7zM380.4 472.2H388.5V475.6H380.4zM392.1 472.2H404.1V475.6H392.1zM353.2 475.3H357.4V478.7H353.2zM372.7 475.3H380.7V478.7H372.7zM244.3 478.4H248.5V481.9H244.3zM349.3 478.4H357.4V481.9H349.3zM384.3 478.4H388.5V481.9H384.3zM232.6 481.6H244.6V485H232.6zM357.1 481.6H361.3V485H357.1zM384.3 481.6H388.5V485H384.3zM353.2 484.7H361.3V488.1H353.2zM364.9 484.7H373V488.1H364.9zM361 487.8H373V491.3H361zM232.6 491H240.7V494.4H232.6zM364.9 491H369.1V494.4H364.9zM252 494.1H256.2V497.5H252zM376.5 494.1H380.7V497.5H376.5zM240.4 497.2H244.6V500.7H240.4zM388.2 497.2H392.4V500.7H388.2zM236.5 500.4H244.6V503.8H236.5zM376.5 500.4H380.7V503.8H376.5zM384.3 500.4H388.5V503.8H384.3zM244.3 503.5H256.2V507H244.3zM364.9 503.5H369.1V507H364.9zM380.4 503.5H384.6V507H380.4zM388.2 503.5H392.4V507H388.2zM244.3 506.7H248.5V510.1H244.3zM368.8 506.7H373V510.1H368.8zM380.4 506.7H384.6V510.1H380.4zM388.2 506.7H392.4V510.1H388.2zM364.9 509.8H373V513.2H364.9zM392.1 509.8H404.1V513.2H392.1zM252 512.9H256.2V516.4H252zM217 516.1H225.1V519.5H217zM236.5 516.1H240.7V519.5H236.5zM361 516.1H365.2V519.5H361zM384.3 516.1H388.5V519.5H384.3zM361 519.2H369.1V522.6H361zM372.7 519.2H380.7V522.6H372.7zM193.7 522.3H201.8V525.8H193.7zM349.3 522.3H353.5V525.8H349.3zM368.8 522.3H373V525.8H368.8zM158.7 525.5H162.9V528.9H158.7zM361 525.5H369.1V528.9H361zM357.1 528.6H361.3V532H357.1zM337.6 531.7H341.8V535.2H337.6zM345.4 531.7H349.6V535.2H345.4zM326 534.9H330.2V538.3H326zM337.6 534.9H341.8V538.3H337.6zM326 538H330.2V541.4H326zM333.7 538H337.9V541.4H333.7zM326 541.1H330.2V544.6H326zM318.2 544.3H326.3V547.7H318.2zM329.9 544.3H334V547.7H329.9zM306.5 547.4H314.6V550.8H306.5zM135.3 550.5H151.2V554H135.3zM170.3 550.5H174.5V554H170.3zM178.1 550.5H186.2V554H178.1zM158.7 553.7H162.9V557.1H158.7zM197.6 556.8H201.8V560.2H197.6zM271.5 556.8H275.7V560.2H271.5zM287.1 556.8H295.1V560.2H287.1zM209.2 559.9H213.4V563.4H209.2zM263.7 559.9H271.8V563.4H263.7zM275.4 559.9H279.6V563.4H275.4zM220.9 563.1H225.1V566.5H220.9zM248.2 563.1H252.3V566.5H248.2zM259.8 563.1H264V566.5H259.8zM224.8 566.2H229V569.6H224.8z"/>
<path fill="#b0f0fb" d="M162.6 434.6H170.6V438H162.6zM162.6 437.7H170.6V441.1H162.6zM147 440.8H155.1V444.3H147zM150.9 444H155.1V447.4H150.9zM147 447.1H151.2V450.5H147zM150.9 450.2H155.1V453.7H150.9zM154.8 453.4H159V456.8H154.8zM150.9 456.5H155.1V459.9H150.9zM150.9 478.4H155.1V481.9H150.9zM170.3 478.4H174.5V481.9H170.3zM147 484.7H151.2V488.1H147zM135.3 487.8H151.2V491.3H135.3zM178.1 487.8H182.3V491.3H178.1zM154.8 491H159V494.4H154.8zM158.7 497.2H166.7V500.7H158.7zM162.6 503.5H166.7V507H162.6zM174.2 503.5H178.4V507H174.2zM384.3 541.1H388.5V544.6H384.3zM384.3 547.4H388.5V550.8H384.3zM349.3 559.9H353.5V563.4H349.3zM322.1 566.2H326.3V569.6H322.1zM333.7 566.2H337.9V569.6H333.7zM314.3 572.5H318.5V575.9H314.3zM158.7 575.6H162.9V579H158.7zM302.6 575.6H310.7V579H302.6zM287.1 578.7H291.2V582.2H287.1zM388.2 578.7H392.4V582.2H388.2zM240.4 581.9H248.5V585.3H240.4zM290.9 581.9H295.1V585.3H290.9zM384.3 581.9H388.5V585.3H384.3zM240.4 585H248.5V588.4H240.4zM290.9 585H295.1V588.4H290.9zM384.3 585H388.5V588.4H384.3zM240.4 588.1H248.5V591.6H240.4zM290.9 588.1H295.1V591.6H290.9zM384.3 588.1H388.5V591.6H384.3z"/>
<path fill="#b8f4fb" d="M150.9 437.7H155.1V441.1H150.9zM154.8 440.8H159V444.3H154.8zM166.4 440.8H170.6V444.3H166.4zM178.1 440.8H186.2V444.3H178.1zM135.3 444H151.2V447.4H135.3zM178.1 444H190.1V447.4H178.1zM154.8 447.1H159V450.5H154.8zM182 447.1H186.2V450.5H182zM135.3 450.2H151.2V453.7H135.3zM135.3 453.4H151.2V456.8H135.3zM162.6 453.4H166.7V456.8H162.6zM178.1 456.5H186.2V459.9H178.1zM135.3 465.9H147.3V469.3H135.3zM147 475.3H155.1V478.7H147zM135.3 478.4H147.3V481.9H135.3zM154.8 478.4H159V481.9H154.8zM162.6 478.4H166.7V481.9H162.6zM174.2 478.4H178.4V481.9H174.2zM135.3 481.6H147.3V485H135.3zM135.3 484.7H147.3V488.1H135.3zM174.2 494.1H178.4V497.5H174.2zM174.2 497.2H178.4V500.7H174.2zM158.7 500.4H162.9V503.8H158.7zM178.1 503.5H182.3V507H178.1zM170.3 506.7H174.5V510.1H170.3zM380.4 544.3H384.6V547.7H380.4zM357.1 556.8H365.2V560.2H357.1zM337.6 563.1H341.8V566.5H337.6zM326 566.2H334V569.6H326zM310.4 572.5H314.6V575.9H310.4zM154.8 575.6H159V579H154.8zM174.2 575.6H178.4V579H174.2zM189.8 575.6H197.9V579H189.8zM220.9 575.6H225.1V579H220.9zM290.9 575.6H295.1V579H290.9zM298.7 575.6H302.9V579H298.7zM150.9 578.7H155.1V582.2H150.9zM236.5 578.7H240.7V582.2H236.5zM248.2 578.7H256.2V582.2H248.2zM279.3 578.7H287.4V582.2H279.3zM154.8 581.9H159V585.3H154.8zM248.2 581.9H256.2V585.3H248.2zM275.4 581.9H287.4V585.3H275.4zM154.8 585H159V588.4H154.8zM248.2 585H256.2V588.4H248.2zM275.4 585H287.4V588.4H275.4zM154.8 588.1H159V591.6H154.8zM248.2 588.1H256.2V591.6H248.2zM275.4 588.1H287.4V591.6H275.4z"/>
<path fill="#fef1fb" d="M306.5 447.1H314.6V450.5H306.5zM310.4 450.2H314.6V453.7H310.4zM345.4 450.2H353.5V453.7H345.4zM357.1 453.4H369.1V456.8H357.1zM298.7 456.5H302.9V459.9H298.7zM341.5 456.5H345.7V459.9H341.5zM353.2 456.5H357.4V459.9H353.2zM279.3 459.6H283.5V463.1H279.3zM287.1 459.6H295.1V463.1H287.1zM310.4 459.6H314.6V463.1H310.4zM318.2 459.6H322.4V463.1H318.2zM357.1 459.6H361.3V463.1H357.1zM372.7 459.6H376.8V463.1H372.7zM392.1 459.6H404.1V463.1H392.1zM263.7 462.8H267.9V466.2H263.7zM283.2 462.8H287.4V466.2H283.2zM314.3 462.8H326.3V466.2H314.3zM357.1 462.8H361.3V466.2H357.1zM376.5 462.8H380.7V466.2H376.5zM252 465.9H256.2V469.3H252zM271.5 465.9H275.7V469.3H271.5zM283.2 465.9H287.4V469.3H283.2zM294.8 465.9H299V469.3H294.8zM318.2 465.9H326.3V469.3H318.2zM333.7 465.9H337.9V469.3H333.7zM349.3 465.9H365.2V469.3H349.3zM376.5 465.9H384.6V469.3H376.5zM255.9 469H260.1V472.5H255.9zM314.3 469H318.5V472.5H314.3zM349.3 469H353.5V472.5H349.3zM364.9 469H373V472.5H364.9zM376.5 469H388.5V472.5H376.5zM310.4 472.2H314.6V475.6H310.4zM329.9 472.2H341.8V475.6H329.9zM353.2 472.2H365.2V475.6H353.2zM244.3 475.3H248.5V478.7H244.3zM333.7 475.3H337.9V478.7H333.7zM349.3 475.3H353.5V478.7H349.3zM357.1 475.3H361.3V478.7H357.1zM364.9 475.3H373V478.7H364.9zM240.4 478.4H244.6V481.9H240.4zM357.1 478.4H365.2V481.9H357.1zM248.2 481.6H252.3V485H248.2zM361 481.6H373V485H361zM228.7 484.7H236.8V488.1H228.7zM240.4 484.7H248.5V488.1H240.4zM372.7 484.7H384.6V488.1H372.7zM228.7 487.8H232.9V491.3H228.7zM236.5 487.8H240.7V491.3H236.5zM357.1 487.8H361.3V491.3H357.1zM372.7 487.8H380.7V491.3H372.7zM252 491H256.2V494.4H252zM368.8 491H380.7V494.4H368.8zM236.5 494.1H244.6V497.5H236.5zM255.9 494.1H260.1V497.5H255.9zM368.8 494.1H376.8V497.5H368.8zM368.8 497.2H373V500.7H368.8zM248.2 500.4H260.1V503.8H248.2zM364.9 500.4H373V503.8H364.9zM236.5 503.5H244.6V507H236.5zM255.9 503.5H260.1V507H255.9zM252 506.7H260.1V510.1H252zM372.7 506.7H380.7V510.1H372.7zM384.3 506.7H388.5V510.1H384.3zM236.5 509.8H240.7V513.2H236.5zM349.3 509.8H353.5V513.2H349.3zM388.2 509.8H392.4V513.2H388.2zM361 512.9H365.2V516.4H361zM368.8 512.9H373V516.4H368.8zM384.3 512.9H388.5V516.4H384.3zM349.3 516.1H353.5V519.5H349.3zM357.1 516.1H361.3V519.5H357.1zM364.9 516.1H373V519.5H364.9zM376.5 516.1H384.6V519.5H376.5zM213.1 519.2H217.3V522.6H213.1zM224.8 519.2H229V522.6H224.8zM232.6 519.2H236.8V522.6H232.6zM345.4 519.2H349.6V522.6H345.4zM357.1 519.2H361.3V522.6H357.1zM368.8 519.2H373V522.6H368.8zM380.4 519.2H384.6V522.6H380.4zM189.8 522.3H194V525.8H189.8zM201.5 522.3H205.7V525.8H201.5zM361 522.3H365.2V525.8H361zM162.6 525.5H170.6V528.9H162.6zM345.4 525.5H353.5V528.9H345.4zM357.1 525.5H361.3V528.9H357.1zM150.9 528.6H159V532H150.9zM337.6 528.6H341.8V532H337.6zM341.5 531.7H345.7V535.2H341.5zM333.7 534.9H337.9V538.3H333.7zM341.5 534.9H345.7V538.3H341.5zM322.1 538H326.3V541.4H322.1zM329.9 538H334V541.4H329.9zM322.1 541.1H326.3V544.6H322.1zM314.3 544.3H318.5V547.7H314.3zM150.9 550.5H155.1V554H150.9zM158.7 550.5H162.9V554H158.7zM174.2 550.5H178.4V554H174.2zM185.9 550.5H190.1V554H185.9zM189.8 553.7H209.5V557.1H189.8zM205.4 556.8H217.3V560.2H205.4zM267.6 556.8H271.8V560.2H267.6zM275.4 556.8H279.6V560.2H275.4zM217 559.9H221.2V563.4H217zM217 563.1H221.2V566.5H217zM240.4 563.1H244.6V566.5H240.4zM252 563.1H256.2V566.5H252z"/>
<path fill="#fdeafa" d="M349.3 453.4H353.5V456.8H349.3zM337.6 459.6H341.8V463.1H337.6zM275.4 462.8H279.6V466.2H275.4zM326 465.9H330.2V469.3H326zM337.6 465.9H341.8V469.3H337.6zM310.4 469H314.6V472.5H310.4zM318.2 469H322.4V472.5H318.2zM337.6 469H341.8V472.5H337.6zM345.4 469H349.6V472.5H345.4zM361 469H365.2V472.5H361zM267.6 472.2H271.8V475.6H267.6zM275.4 472.2H279.6V475.6H275.4zM322.1 472.2H326.3V475.6H322.1zM306.5 475.3H310.7V478.7H306.5zM314.3 475.3H318.5V478.7H314.3zM337.6 475.3H341.8V478.7H337.6zM255.9 478.4H260.1V481.9H255.9zM314.3 478.4H318.5V481.9H314.3zM329.9 478.4H337.9V481.9H329.9zM341.5 478.4H345.7V481.9H341.5zM364.9 478.4H369.1V481.9H364.9zM329.9 481.6H334V485H329.9zM252 484.7H260.1V488.1H252zM326 484.7H334V488.1H326zM345.4 484.7H349.6V488.1H345.4zM255.9 487.8H260.1V491.3H255.9zM267.6 487.8H271.8V491.3H267.6zM275.4 487.8H279.6V491.3H275.4zM341.5 487.8H345.7V491.3H341.5zM298.7 491H302.9V494.4H298.7zM329.9 491H337.9V494.4H329.9zM345.4 491H353.5V494.4H345.4zM248.2 494.1H252.3V497.5H248.2zM259.8 494.1H264V497.5H259.8zM267.6 494.1H271.8V497.5H267.6zM322.1 494.1H330.2V497.5H322.1zM333.7 494.1H337.9V497.5H333.7zM349.3 494.1H353.5V497.5H349.3zM255.9 497.2H267.9V500.7H255.9zM326 497.2H337.9V500.7H326zM345.4 497.2H365.2V500.7H345.4zM259.8 500.4H271.8V503.8H259.8zM329.9 500.4H334V503.8H329.9zM353.2 500.4H361.3V503.8H353.2zM263.7 503.5H267.9V507H263.7zM357.1 503.5H361.3V507H357.1zM267.6 506.7H271.8V510.1H267.6zM345.4 506.7H349.6V510.1H345.4zM357.1 506.7H361.3V510.1H357.1zM244.3 509.8H248.5V513.2H244.3zM259.8 509.8H264V513.2H259.8zM345.4 509.8H349.6V513.2H345.4zM357.1 509.8H361.3V513.2H357.1zM380.4 509.8H384.6V513.2H380.4zM248.2 512.9H252.3V516.4H248.2zM255.9 512.9H260.1V516.4H255.9zM329.9 512.9H334V516.4H329.9zM353.2 516.1H357.4V519.5H353.2zM224.8 522.3H229V525.8H224.8zM341.5 522.3H345.7V525.8H341.5zM353.2 522.3H357.4V525.8H353.2zM185.9 525.5H190.1V528.9H185.9zM333.7 525.5H345.7V528.9H333.7zM158.7 528.6H166.7V532H158.7zM329.9 528.6H334V532H329.9zM135.3 531.7H147.3V535.2H135.3zM322.1 531.7H326.3V535.2H322.1zM314.3 541.1H318.5V544.6H314.3zM310.4 544.3H314.6V547.7H310.4zM182 547.4H190.1V550.8H182zM154.8 550.5H159V554H154.8zM162.6 550.5H166.7V554H162.6zM189.8 550.5H194V554H189.8zM197.6 550.5H209.5V554H197.6zM287.1 550.5H291.2V554H287.1zM298.7 550.5H302.9V554H298.7zM213.1 553.7H217.3V557.1H213.1zM271.5 553.7H275.7V557.1H271.5zM287.1 553.7H291.2V557.1H287.1zM217 556.8H221.2V560.2H217zM220.9 559.9H225.1V563.4H220.9zM259.8 559.9H264V563.4H259.8zM224.8 563.1H229V566.5H224.8zM236.5 563.1H240.7V566.5H236.5z"/>
<path fill="#feeefa" d="M337.6 456.5H341.8V459.9H337.6zM345.4 456.5H349.6V459.9H345.4zM361 456.5H365.2V459.9H361zM294.8 459.6H306.8V463.1H294.8zM279.3 462.8H283.5V466.2H279.3zM290.9 462.8H295.1V466.2H290.9zM298.7 462.8H302.9V466.2H298.7zM333.7 462.8H337.9V466.2H333.7zM349.3 462.8H357.4V466.2H349.3zM361 462.8H365.2V466.2H361zM275.4 465.9H279.6V469.3H275.4zM287.1 465.9H295.1V469.3H287.1zM298.7 465.9H302.9V469.3H298.7zM329.9 465.9H334V469.3H329.9zM364.9 465.9H369.1V469.3H364.9zM248.2 469H256.2V472.5H248.2zM259.8 469H275.7V472.5H259.8zM333.7 469H337.9V472.5H333.7zM248.2 472.2H267.9V475.6H248.2zM302.6 472.2H306.8V475.6H302.6zM314.3 472.2H318.5V475.6H314.3zM345.4 472.2H349.6V475.6H345.4zM364.9 472.2H373V475.6H364.9zM248.2 475.3H267.9V478.7H248.2zM310.4 475.3H314.6V478.7H310.4zM329.9 475.3H334V478.7H329.9zM345.4 475.3H349.6V478.7H345.4zM361 475.3H365.2V478.7H361zM248.2 478.4H256.2V481.9H248.2zM345.4 478.4H349.6V481.9H345.4zM368.8 478.4H373V481.9H368.8zM244.3 481.6H248.5V485H244.3zM252 481.6H256.2V485H252zM349.3 481.6H357.4V485H349.3zM248.2 484.7H252.3V488.1H248.2zM244.3 487.8H256.2V491.3H244.3zM349.3 487.8H357.4V491.3H349.3zM240.4 491H252.3V494.4H240.4zM255.9 491H260.1V494.4H255.9zM263.7 491H267.9V494.4H263.7zM306.5 491H310.7V494.4H306.5zM353.2 491H365.2V494.4H353.2zM244.3 494.1H248.5V497.5H244.3zM329.9 494.1H334V497.5H329.9zM353.2 494.1H357.4V497.5H353.2zM361 494.1H369.1V497.5H361zM244.3 497.2H256.2V500.7H244.3zM364.9 497.2H369.1V500.7H364.9zM372.7 497.2H376.8V500.7H372.7zM361 500.4H365.2V503.8H361zM259.8 503.5H264V507H259.8zM267.6 503.5H271.8V507H267.6zM361 503.5H365.2V507H361zM372.7 503.5H376.8V507H372.7zM240.4 506.7H244.6V510.1H240.4zM248.2 506.7H252.3V510.1H248.2zM353.2 506.7H357.4V510.1H353.2zM361 506.7H365.2V510.1H361zM240.4 509.8H244.6V513.2H240.4zM248.2 509.8H260.1V513.2H248.2zM353.2 509.8H357.4V513.2H353.2zM361 509.8H365.2V513.2H361zM372.7 509.8H380.7V513.2H372.7zM384.3 509.8H388.5V513.2H384.3zM240.4 512.9H248.5V516.4H240.4zM345.4 512.9H361.3V516.4H345.4zM372.7 512.9H384.6V516.4H372.7zM388.2 512.9H392.4V516.4H388.2zM240.4 516.1H244.6V519.5H240.4zM372.7 516.1H376.8V519.5H372.7zM217 519.2H225.1V522.6H217zM236.5 519.2H244.6V522.6H236.5zM349.3 519.2H357.4V522.6H349.3zM205.4 522.3H213.4V525.8H205.4zM228.7 522.3H232.9V525.8H228.7zM345.4 522.3H349.6V525.8H345.4zM357.1 522.3H361.3V525.8H357.1zM170.3 525.5H178.4V528.9H170.3zM182 525.5H186.2V528.9H182zM353.2 525.5H357.4V528.9H353.2zM333.7 528.6H337.9V532H333.7zM341.5 528.6H349.6V532H341.5zM326 531.7H337.9V535.2H326zM322.1 534.9H326.3V538.3H322.1zM329.9 534.9H334V538.3H329.9zM318.2 541.1H322.4V544.6H318.2zM135.3 547.4H147.3V550.8H135.3zM302.6 547.4H306.8V550.8H302.6zM166.4 550.5H170.6V554H166.4zM209.2 553.7H213.4V557.1H209.2zM275.4 553.7H279.6V557.1H275.4zM283.2 553.7H287.4V557.1H283.2zM290.9 553.7H299V557.1H290.9zM279.3 556.8H287.4V560.2H279.3zM213.1 559.9H217.3V563.4H213.1zM232.6 563.1H236.8V566.5H232.6zM255.9 563.1H260.1V566.5H255.9z"/>
<path fill="#fde7f8" d="M341.5 459.6H345.7V463.1H341.5zM337.6 462.8H341.8V466.2H337.6zM345.4 462.8H349.6V466.2H345.4zM345.4 465.9H349.6V469.3H345.4zM279.3 469H283.5V472.5H279.3zM287.1 469H291.2V472.5H287.1zM294.8 469H306.8V472.5H294.8zM326 469H334V472.5H326zM341.5 469H345.7V472.5H341.5zM290.9 472.2H295.1V475.6H290.9zM306.5 472.2H310.7V475.6H306.5zM318.2 472.2H322.4V475.6H318.2zM326 472.2H330.2V475.6H326zM341.5 472.2H345.7V475.6H341.5zM271.5 475.3H275.7V478.7H271.5zM279.3 475.3H287.4V478.7H279.3zM298.7 475.3H302.9V478.7H298.7zM318.2 475.3H322.4V478.7H318.2zM326 475.3H330.2V478.7H326zM341.5 475.3H345.7V478.7H341.5zM259.8 478.4H267.9V481.9H259.8zM302.6 478.4H314.6V481.9H302.6zM326 478.4H330.2V481.9H326zM337.6 478.4H341.8V481.9H337.6zM255.9 481.6H260.1V485H255.9zM287.1 481.6H291.2V485H287.1zM302.6 481.6H306.8V485H302.6zM310.4 481.6H314.6V485H310.4zM322.1 481.6H330.2V485H322.1zM341.5 481.6H349.6V485H341.5zM314.3 484.7H322.4V488.1H314.3zM333.7 484.7H337.9V488.1H333.7zM341.5 484.7H345.7V488.1H341.5zM259.8 487.8H264V491.3H259.8zM271.5 487.8H275.7V491.3H271.5zM302.6 487.8H306.8V491.3H302.6zM310.4 487.8H314.6V491.3H310.4zM329.9 487.8H341.8V491.3H329.9zM345.4 487.8H349.6V491.3H345.4zM259.8 491H264V494.4H259.8zM318.2 491H322.4V494.4H318.2zM326 491H330.2V494.4H326zM337.6 491H345.7V494.4H337.6zM263.7 494.1H267.9V497.5H263.7zM283.2 494.1H287.4V497.5H283.2zM302.6 494.1H306.8V497.5H302.6zM318.2 494.1H322.4V497.5H318.2zM357.1 494.1H361.3V497.5H357.1zM271.5 497.2H283.5V500.7H271.5zM318.2 497.2H326.3V500.7H318.2zM337.6 497.2H345.7V500.7H337.6zM271.5 500.4H275.7V503.8H271.5zM333.7 500.4H337.9V503.8H333.7zM341.5 500.4H349.6V503.8H341.5zM271.5 503.5H275.7V507H271.5zM349.3 503.5H357.4V507H349.3zM259.8 506.7H267.9V510.1H259.8zM349.3 506.7H353.5V510.1H349.3zM267.6 509.8H271.8V513.2H267.6zM326 509.8H330.2V513.2H326zM333.7 509.8H337.9V513.2H333.7zM259.8 512.9H264V516.4H259.8zM244.3 516.1H252.3V519.5H244.3zM333.7 516.1H337.9V519.5H333.7zM341.5 516.1H349.6V519.5H341.5zM341.5 519.2H345.7V522.6H341.5zM213.1 522.3H225.1V525.8H213.1zM337.6 522.3H341.8V525.8H337.6zM178.1 525.5H182.3V528.9H178.1zM147 531.7H155.1V535.2H147zM158.7 531.7H162.9V535.2H158.7zM318.2 534.9H322.4V538.3H318.2zM310.4 541.1H314.6V544.6H310.4zM306.5 544.3H310.7V547.7H306.5zM154.8 547.4H159V550.8H154.8zM170.3 547.4H178.4V550.8H170.3zM205.4 547.4H213.4V550.8H205.4zM298.7 547.4H302.9V550.8H298.7zM209.2 550.5H217.3V554H209.2zM283.2 550.5H287.4V554H283.2zM290.9 550.5H299V554H290.9zM267.6 553.7H271.8V557.1H267.6zM279.3 553.7H283.5V557.1H279.3zM263.7 556.8H267.9V560.2H263.7zM224.8 559.9H229V563.4H224.8zM255.9 559.9H260.1V563.4H255.9zM228.7 563.1H232.9V566.5H228.7z"/>
<path fill="#fde6f5" d="M341.5 462.8H345.7V466.2H341.5zM279.3 465.9H283.5V469.3H279.3zM341.5 465.9H345.7V469.3H341.5zM275.4 469H279.6V472.5H275.4zM283.2 469H287.4V472.5H283.2zM290.9 469H295.1V472.5H290.9zM322.1 469H326.3V472.5H322.1zM271.5 472.2H275.7V475.6H271.5zM279.3 472.2H291.2V475.6H279.3zM294.8 472.2H302.9V475.6H294.8zM267.6 475.3H271.8V478.7H267.6zM275.4 475.3H279.6V478.7H275.4zM287.1 475.3H291.2V478.7H287.1zM302.6 475.3H306.8V478.7H302.6zM322.1 475.3H326.3V478.7H322.1zM267.6 478.4H271.8V481.9H267.6zM279.3 478.4H295.1V481.9H279.3zM298.7 478.4H302.9V481.9H298.7zM318.2 478.4H326.3V481.9H318.2zM259.8 481.6H264V485H259.8zM283.2 481.6H287.4V485H283.2zM314.3 481.6H322.4V485H314.3zM333.7 481.6H341.8V485H333.7zM271.5 484.7H279.6V488.1H271.5zM287.1 484.7H295.1V488.1H287.1zM298.7 484.7H302.9V488.1H298.7zM306.5 484.7H310.7V488.1H306.5zM322.1 484.7H326.3V488.1H322.1zM337.6 484.7H341.8V488.1H337.6zM349.3 484.7H353.5V488.1H349.3zM283.2 487.8H291.2V491.3H283.2zM294.8 487.8H299V491.3H294.8zM314.3 487.8H322.4V491.3H314.3zM271.5 491H275.7V494.4H271.5zM279.3 491H283.5V494.4H279.3zM287.1 491H299V494.4H287.1zM302.6 491H306.8V494.4H302.6zM310.4 491H318.5V494.4H310.4zM322.1 491H326.3V494.4H322.1zM275.4 494.1H279.6V497.5H275.4zM287.1 494.1H291.2V497.5H287.1zM294.8 494.1H302.9V497.5H294.8zM310.4 494.1H314.6V497.5H310.4zM337.6 494.1H349.6V497.5H337.6zM267.6 497.2H271.8V500.7H267.6zM294.8 500.4H299V503.8H294.8zM322.1 500.4H330.2V503.8H322.1zM337.6 500.4H341.8V503.8H337.6zM349.3 500.4H353.5V503.8H349.3zM294.8 503.5H302.9V507H294.8zM310.4 503.5H314.6V507H310.4zM326 503.5H330.2V507H326zM333.7 503.5H337.9V507H333.7zM341.5 503.5H349.6V507H341.5zM271.5 506.7H279.6V510.1H271.5zM306.5 506.7H314.6V510.1H306.5zM329.9 506.7H334V510.1H329.9zM263.7 509.8H267.9V513.2H263.7zM329.9 509.8H334V513.2H329.9zM341.5 509.8H345.7V513.2H341.5zM333.7 512.9H337.9V516.4H333.7zM255.9 516.1H260.1V519.5H255.9zM326 516.1H330.2V519.5H326zM337.6 516.1H341.8V519.5H337.6zM244.3 519.2H248.5V522.6H244.3zM333.7 519.2H341.8V522.6H333.7zM322.1 522.3H326.3V525.8H322.1zM329.9 522.3H334V525.8H329.9zM189.8 525.5H194V528.9H189.8zM197.6 525.5H201.8V528.9H197.6zM326 525.5H334V528.9H326zM166.4 528.6H174.5V532H166.4zM326 528.6H330.2V532H326zM154.8 531.7H159V535.2H154.8zM318.2 531.7H322.4V535.2H318.2zM314.3 538H322.4V541.4H314.3zM150.9 544.3H155.1V547.7H150.9zM158.7 544.3H162.9V547.7H158.7zM205.4 544.3H209.5V547.7H205.4zM302.6 544.3H306.8V547.7H302.6zM147 547.4H155.1V550.8H147zM162.6 547.4H170.6V550.8H162.6zM178.1 547.4H182.3V550.8H178.1zM189.8 547.4H194V550.8H189.8zM201.5 547.4H205.7V550.8H201.5zM213.1 547.4H217.3V550.8H213.1zM294.8 547.4H299V550.8H294.8zM193.7 550.5H197.9V554H193.7zM279.3 550.5H283.5V554H279.3zM217 553.7H221.2V557.1H217zM220.9 556.8H225.1V560.2H220.9zM259.8 556.8H264V560.2H259.8zM228.7 559.9H232.9V563.4H228.7zM240.4 559.9H248.5V563.4H240.4z"/>
<path fill="#fce4f3" d="M290.9 475.3H299V478.7H290.9zM275.4 478.4H279.6V481.9H275.4zM271.5 481.6H275.7V485H271.5zM294.8 481.6H302.9V485H294.8zM306.5 481.6H310.7V485H306.5zM259.8 484.7H267.9V488.1H259.8zM279.3 484.7H287.4V488.1H279.3zM302.6 484.7H306.8V488.1H302.6zM263.7 487.8H267.9V491.3H263.7zM279.3 487.8H283.5V491.3H279.3zM290.9 487.8H295.1V491.3H290.9zM298.7 487.8H302.9V491.3H298.7zM322.1 487.8H326.3V491.3H322.1zM267.6 491H271.8V494.4H267.6zM271.5 494.1H275.7V497.5H271.5zM279.3 494.1H283.5V497.5H279.3zM290.9 494.1H295.1V497.5H290.9zM306.5 494.1H310.7V497.5H306.5zM314.3 494.1H318.5V497.5H314.3zM283.2 497.2H291.2V500.7H283.2zM298.7 497.2H302.9V500.7H298.7zM275.4 500.4H287.4V503.8H275.4zM290.9 500.4H295.1V503.8H290.9zM298.7 500.4H306.8V503.8H298.7zM310.4 500.4H322.4V503.8H310.4zM275.4 503.5H279.6V507H275.4zM290.9 503.5H295.1V507H290.9zM302.6 503.5H310.7V507H302.6zM314.3 503.5H322.4V507H314.3zM329.9 503.5H334V507H329.9zM337.6 503.5H341.8V507H337.6zM294.8 506.7H306.8V510.1H294.8zM314.3 506.7H322.4V510.1H314.3zM326 506.7H330.2V510.1H326zM333.7 506.7H345.7V510.1H333.7zM271.5 509.8H283.5V513.2H271.5zM302.6 509.8H306.8V513.2H302.6zM310.4 509.8H326.3V513.2H310.4zM337.6 509.8H341.8V513.2H337.6zM263.7 512.9H267.9V516.4H263.7zM322.1 512.9H330.2V516.4H322.1zM337.6 512.9H345.7V516.4H337.6zM252 516.1H256.2V519.5H252zM329.9 516.1H334V519.5H329.9zM252 519.2H256.2V522.6H252zM322.1 519.2H326.3V522.6H322.1zM329.9 519.2H334V522.6H329.9zM232.6 522.3H236.8V525.8H232.6zM333.7 522.3H337.9V525.8H333.7zM193.7 525.5H197.9V528.9H193.7zM201.5 525.5H205.7V528.9H201.5zM224.8 525.5H232.9V528.9H224.8zM314.3 525.5H326.3V528.9H314.3zM174.2 528.6H178.4V532H174.2zM314.3 528.6H326.3V532H314.3zM162.6 531.7H166.7V535.2H162.6zM314.3 531.7H318.5V535.2H314.3zM135.3 534.9H147.3V538.3H135.3zM314.3 534.9H318.5V538.3H314.3zM310.4 538H314.6V541.4H310.4zM154.8 541.1H159V544.6H154.8zM302.6 541.1H310.7V544.6H302.6zM135.3 544.3H151.2V547.7H135.3zM154.8 544.3H159V547.7H154.8zM166.4 544.3H170.6V547.7H166.4zM185.9 544.3H190.1V547.7H185.9zM298.7 544.3H302.9V547.7H298.7zM158.7 547.4H162.9V550.8H158.7zM193.7 547.4H201.8V550.8H193.7zM224.8 556.8H229V560.2H224.8zM236.5 559.9H240.7V563.4H236.5zM248.2 559.9H252.3V563.4H248.2z"/>
<path fill="#a5e1fa" d="M147 478.4H151.2V481.9H147zM166.4 478.4H170.6V481.9H166.4zM147 481.6H151.2V485H147zM178.1 484.7H182.3V488.1H178.1zM150.9 487.8H155.1V491.3H150.9zM174.2 491H178.4V494.4H174.2zM162.6 494.1H170.6V497.5H162.6zM162.6 500.4H166.7V503.8H162.6zM170.3 503.5H174.5V507H170.3zM384.3 544.3H388.5V547.7H384.3zM380.4 547.4H384.6V550.8H380.4zM372.7 550.5H376.8V554H372.7zM368.8 553.7H373V557.1H368.8zM353.2 559.9H361.3V563.4H353.2zM341.5 563.1H345.7V566.5H341.5zM318.2 569.3H322.4V572.8H318.2zM162.6 575.6H174.5V579H162.6zM154.8 578.7H159V582.2H154.8zM228.7 578.7H236.8V582.2H228.7zM294.8 578.7H299V582.2H294.8zM287.1 581.9H291.2V585.3H287.1zM287.1 585H291.2V588.4H287.1zM287.1 588.1H291.2V591.6H287.1z"/>
<path fill="#fce0ea" d="M271.5 478.4H275.7V481.9H271.5zM294.8 478.4H299V481.9H294.8zM283.2 503.5H287.4V507H283.2zM283.2 509.8H287.4V513.2H283.2zM290.9 509.8H295.1V513.2H290.9zM267.6 512.9H271.8V516.4H267.6zM275.4 512.9H279.6V516.4H275.4zM298.7 512.9H302.9V516.4H298.7zM318.2 516.1H322.4V519.5H318.2zM259.8 519.2H264V522.6H259.8zM318.2 519.2H322.4V522.6H318.2zM244.3 522.3H252.3V525.8H244.3zM310.4 522.3H314.6V525.8H310.4zM209.2 525.5H221.2V528.9H209.2zM232.6 525.5H236.8V528.9H232.6zM310.4 525.5H314.6V528.9H310.4zM178.1 528.6H182.3V532H178.1zM310.4 528.6H314.6V532H310.4zM170.3 531.7H174.5V535.2H170.3zM310.4 531.7H314.6V535.2H310.4zM154.8 534.9H159V538.3H154.8zM135.3 538H147.3V541.4H135.3zM147 541.1H155.1V544.6H147zM158.7 541.1H162.9V544.6H158.7zM189.8 541.1H194V544.6H189.8zM205.4 541.1H209.5V544.6H205.4zM298.7 541.1H302.9V544.6H298.7zM170.3 544.3H178.4V547.7H170.3zM193.7 544.3H205.7V547.7H193.7zM294.8 544.3H299V547.7H294.8zM279.3 547.4H283.5V550.8H279.3zM290.9 547.4H295.1V550.8H290.9zM224.8 553.7H229V557.1H224.8zM228.7 556.8H232.9V560.2H228.7z"/>
<path fill="#7eb1f8" d="M150.9 481.6H155.1V485H150.9zM166.4 481.6H170.6V485H166.4zM150.9 484.7H155.1V488.1H150.9zM162.6 484.7H166.7V488.1H162.6zM170.3 484.7H174.5V488.1H170.3zM154.8 487.8H159V491.3H154.8zM162.6 487.8H174.5V491.3H162.6zM166.4 491H170.6V494.4H166.4zM166.4 497.2H170.6V500.7H166.4zM384.3 550.5H388.5V554H384.3zM392.1 550.5H404.1V554H392.1zM392.1 556.8H404.1V560.2H392.1zM349.3 563.1H353.5V566.5H349.3zM329.9 569.3H337.9V572.8H329.9zM392.1 569.3H404.1V572.8H392.1zM322.1 572.5H326.3V575.9H322.1zM392.1 572.5H404.1V575.9H392.1zM314.3 575.6H322.4V579H314.3zM158.7 578.7H162.9V582.2H158.7zM170.3 578.7H178.4V582.2H170.3zM209.2 578.7H217.3V582.2H209.2zM220.9 578.7H229V582.2H220.9zM310.4 578.7H314.6V582.2H310.4zM166.4 581.9H170.6V585.3H166.4zM185.9 581.9H190.1V585.3H185.9zM302.6 581.9H306.8V585.3H302.6zM380.4 581.9H384.6V585.3H380.4zM166.4 585H170.6V588.4H166.4zM185.9 585H190.1V588.4H185.9zM302.6 585H306.8V588.4H302.6zM380.4 585H384.6V588.4H380.4zM166.4 588.1H170.6V591.6H166.4zM185.9 588.1H190.1V591.6H185.9zM302.6 588.1H306.8V591.6H302.6zM380.4 588.1H384.6V591.6H380.4z"/>
<path fill="#8cc1f8" d="M154.8 481.6H159V485H154.8zM162.6 481.6H166.7V485H162.6zM170.3 481.6H174.5V485H170.3zM174.2 484.7H178.4V488.1H174.2zM158.7 487.8H162.9V491.3H158.7zM166.4 500.4H174.5V503.8H166.4zM372.7 553.7H376.8V557.1H372.7zM345.4 563.1H349.6V566.5H345.4zM337.6 566.2H341.8V569.6H337.6zM189.8 578.7H194V582.2H189.8zM298.7 578.7H302.9V582.2H298.7zM306.5 578.7H310.7V582.2H306.5zM162.6 581.9H166.7V585.3H162.6zM174.2 581.9H186.2V585.3H174.2zM232.6 581.9H240.7V585.3H232.6zM294.8 581.9H302.9V585.3H294.8zM306.5 581.9H310.7V585.3H306.5zM162.6 585H166.7V588.4H162.6zM174.2 585H186.2V588.4H174.2zM232.6 585H240.7V588.4H232.6zM294.8 585H302.9V588.4H294.8zM306.5 585H310.7V588.4H306.5zM162.6 588.1H166.7V591.6H162.6zM174.2 588.1H186.2V591.6H174.2zM232.6 588.1H240.7V591.6H232.6zM294.8 588.1H302.9V591.6H294.8zM306.5 588.1H310.7V591.6H306.5z"/>
<path fill="#9ad1f9" d="M158.7 481.6H162.9V485H158.7zM174.2 481.6H178.4V485H174.2zM174.2 487.8H178.4V491.3H174.2zM158.7 491H166.7V494.4H158.7zM170.3 491H174.5V494.4H170.3zM170.3 494.1H174.5V497.5H170.3zM170.3 497.2H174.5V500.7H170.3zM174.2 500.4H178.4V503.8H174.2zM166.4 503.5H170.6V507H166.4zM388.2 547.4H392.4V550.8H388.2zM376.5 550.5H384.6V554H376.5zM388.2 550.5H392.4V554H388.2zM392.1 553.7H404.1V557.1H392.1zM364.9 556.8H369.1V560.2H364.9zM322.1 569.3H330.2V572.8H322.1zM318.2 572.5H322.4V575.9H318.2zM310.4 575.6H314.6V579H310.4zM392.1 575.6H404.1V579H392.1zM178.1 578.7H190.1V582.2H178.1zM290.9 578.7H295.1V582.2H290.9zM302.6 578.7H306.8V582.2H302.6zM384.3 578.7H388.5V582.2H384.3zM158.7 581.9H162.9V585.3H158.7zM158.7 585H162.9V588.4H158.7zM158.7 588.1H162.9V591.6H158.7z"/>
<path fill="#fce2f0" d="M263.7 481.6H271.8V485H263.7zM275.4 481.6H283.5V485H275.4zM290.9 481.6H295.1V485H290.9zM267.6 484.7H271.8V488.1H267.6zM294.8 484.7H299V488.1H294.8zM310.4 484.7H314.6V488.1H310.4zM306.5 487.8H310.7V491.3H306.5zM326 487.8H330.2V491.3H326zM275.4 491H279.6V494.4H275.4zM283.2 491H287.4V494.4H283.2zM290.9 497.2H299V500.7H290.9zM302.6 497.2H318.5V500.7H302.6zM287.1 500.4H291.2V503.8H287.1zM306.5 500.4H310.7V503.8H306.5zM279.3 503.5H283.5V507H279.3zM287.1 503.5H291.2V507H287.1zM322.1 503.5H326.3V507H322.1zM279.3 506.7H287.4V510.1H279.3zM290.9 506.7H295.1V510.1H290.9zM322.1 506.7H326.3V510.1H322.1zM294.8 509.8H302.9V513.2H294.8zM306.5 509.8H310.7V513.2H306.5zM318.2 512.9H322.4V516.4H318.2zM259.8 516.1H264V519.5H259.8zM322.1 516.1H326.3V519.5H322.1zM248.2 519.2H252.3V522.6H248.2zM326 519.2H330.2V522.6H326zM236.5 522.3H244.6V525.8H236.5zM314.3 522.3H322.4V525.8H314.3zM326 522.3H330.2V525.8H326zM205.4 525.5H209.5V528.9H205.4zM220.9 525.5H225.1V528.9H220.9zM182 528.6H190.1V532H182zM166.4 531.7H170.6V535.2H166.4zM174.2 531.7H178.4V535.2H174.2zM147 534.9H151.2V538.3H147zM310.4 534.9H314.6V538.3H310.4zM306.5 538H310.7V541.4H306.5zM162.6 544.3H166.7V547.7H162.6zM189.8 544.3H194V547.7H189.8zM209.2 544.3H213.4V547.7H209.2zM217 547.4H221.2V550.8H217zM283.2 547.4H291.2V550.8H283.2zM217 550.5H221.2V554H217zM271.5 550.5H279.6V554H271.5zM220.9 553.7H225.1V557.1H220.9zM263.7 553.7H267.9V557.1H263.7zM255.9 556.8H260.1V560.2H255.9zM232.6 559.9H236.8V563.4H232.6zM252 559.9H256.2V563.4H252z"/>
<path fill="#6fa0f6" d="M154.8 484.7H162.9V488.1H154.8zM380.4 553.7H384.6V557.1H380.4zM388.2 553.7H392.4V557.1H388.2zM368.8 556.8H373V560.2H368.8zM361 559.9H365.2V563.4H361zM392.1 559.9H404.1V563.4H392.1zM392.1 566.2H404.1V569.6H392.1zM329.9 572.5H334V575.9H329.9zM388.2 575.6H392.4V579H388.2zM162.6 578.7H166.7V582.2H162.6zM197.6 578.7H209.5V582.2H197.6zM217 578.7H221.2V582.2H217zM170.3 581.9H174.5V585.3H170.3zM310.4 581.9H314.6V585.3H310.4zM170.3 585H174.5V588.4H170.3zM310.4 585H314.6V588.4H310.4zM170.3 588.1H174.5V591.6H170.3zM310.4 588.1H314.6V591.6H310.4z"/>
<path fill="#608ff5" d="M166.4 484.7H170.6V488.1H166.4zM376.5 553.7H380.7V557.1H376.5zM384.3 553.7H388.5V557.1H384.3zM364.9 559.9H369.1V563.4H364.9zM353.2 563.1H357.4V566.5H353.2zM341.5 566.2H345.7V569.6H341.5zM326 572.5H330.2V575.9H326zM322.1 575.6H330.2V579H322.1zM166.4 578.7H170.6V582.2H166.4zM193.7 578.7H197.9V582.2H193.7zM380.4 578.7H384.6V582.2H380.4zM189.8 581.9H194V585.3H189.8zM228.7 581.9H232.9V585.3H228.7zM318.2 581.9H326.3V585.3H318.2zM376.5 581.9H380.7V585.3H376.5zM189.8 585H194V588.4H189.8zM228.7 585H232.9V588.4H228.7zM318.2 585H326.3V588.4H318.2zM376.5 585H380.7V588.4H376.5zM189.8 588.1H194V591.6H189.8zM228.7 588.1H232.9V591.6H228.7zM318.2 588.1H326.3V591.6H318.2zM376.5 588.1H380.7V591.6H376.5z"/>
<path fill="#fcddde" d="M287.1 506.7H291.2V510.1H287.1zM271.5 512.9H275.7V516.4H271.5zM283.2 512.9H287.4V516.4H283.2zM306.5 512.9H318.5V516.4H306.5zM267.6 516.1H271.8V519.5H267.6zM294.8 516.1H302.9V519.5H294.8zM314.3 516.1H318.5V519.5H314.3zM310.4 519.2H314.6V522.6H310.4zM236.5 525.5H240.7V528.9H236.5zM244.3 525.5H248.5V528.9H244.3zM306.5 525.5H310.7V528.9H306.5zM228.7 528.6H232.9V532H228.7zM306.5 528.6H310.7V532H306.5zM178.1 531.7H182.3V535.2H178.1zM306.5 531.7H310.7V535.2H306.5zM306.5 534.9H310.7V538.3H306.5zM158.7 538H162.9V541.4H158.7zM298.7 538H302.9V541.4H298.7zM166.4 541.1H170.6V544.6H166.4zM185.9 541.1H190.1V544.6H185.9zM193.7 541.1H197.9V544.6H193.7zM201.5 541.1H205.7V544.6H201.5zM209.2 541.1H213.4V544.6H209.2zM220.9 544.3H225.1V547.7H220.9zM275.4 547.4H279.6V550.8H275.4zM220.9 550.5H225.1V554H220.9zM263.7 550.5H271.8V554H263.7zM228.7 553.7H232.9V557.1H228.7zM232.6 556.8H236.8V560.2H232.6zM240.4 556.8H248.5V560.2H240.4z"/>
<path fill="#fcdee4" d="M287.1 509.8H291.2V513.2H287.1zM279.3 512.9H283.5V516.4H279.3zM290.9 512.9H299V516.4H290.9zM302.6 512.9H306.8V516.4H302.6zM263.7 516.1H267.9V519.5H263.7zM302.6 516.1H306.8V519.5H302.6zM255.9 519.2H260.1V522.6H255.9zM314.3 519.2H318.5V522.6H314.3zM240.4 525.5H244.6V528.9H240.4zM150.9 534.9H155.1V538.3H150.9zM158.7 534.9H166.7V538.3H158.7zM170.3 534.9H174.5V538.3H170.3zM302.6 534.9H306.8V538.3H302.6zM147 538H155.1V541.4H147zM302.6 538H306.8V541.4H302.6zM135.3 541.1H147.3V544.6H135.3zM162.6 541.1H166.7V544.6H162.6zM170.3 541.1H174.5V544.6H170.3zM294.8 541.1H299V544.6H294.8zM178.1 544.3H186.2V547.7H178.1zM213.1 544.3H221.2V547.7H213.1zM290.9 544.3H295.1V547.7H290.9zM220.9 547.4H225.1V550.8H220.9zM224.8 550.5H229V554H224.8zM259.8 553.7H264V557.1H259.8zM252 556.8H256.2V560.2H252z"/>
<path fill="#fcdad7" d="M287.1 512.9H291.2V516.4H287.1zM275.4 516.1H279.6V519.5H275.4zM306.5 516.1H314.6V519.5H306.5zM263.7 519.2H267.9V522.6H263.7zM306.5 519.2H310.7V522.6H306.5zM252 522.3H260.1V525.8H252zM302.6 522.3H306.8V525.8H302.6zM189.8 528.6H194V532H189.8zM197.6 528.6H205.7V532H197.6zM213.1 528.6H217.3V532H213.1zM224.8 528.6H229V532H224.8zM232.6 528.6H244.6V532H232.6zM182 531.7H190.1V535.2H182zM166.4 534.9H170.6V538.3H166.4zM174.2 534.9H178.4V538.3H174.2zM154.8 538H159V541.4H154.8zM162.6 538H170.6V541.4H162.6zM174.2 538H178.4V541.4H174.2zM205.4 538H209.5V541.4H205.4zM224.8 544.3H229V547.7H224.8zM283.2 544.3H287.4V547.7H283.2zM255.9 553.7H260.1V557.1H255.9zM236.5 556.8H240.7V560.2H236.5zM248.2 556.8H252.3V560.2H248.2z"/>
<path fill="#fcd8d0" d="M271.5 516.1H275.7V519.5H271.5zM279.3 516.1H283.5V519.5H279.3zM290.9 516.1H295.1V519.5H290.9zM298.7 519.2H302.9V522.6H298.7zM259.8 522.3H264V525.8H259.8zM306.5 522.3H310.7V525.8H306.5zM248.2 525.5H256.2V528.9H248.2zM193.7 528.6H197.9V532H193.7zM205.4 528.6H213.4V532H205.4zM217 528.6H225.1V532H217zM244.3 528.6H248.5V532H244.3zM302.6 528.6H306.8V532H302.6zM224.8 531.7H232.9V535.2H224.8zM178.1 534.9H182.3V538.3H178.1zM220.9 534.9H229V538.3H220.9zM189.8 538H197.9V541.4H189.8zM294.8 538H299V541.4H294.8zM174.2 541.1H186.2V544.6H174.2zM197.6 541.1H201.8V544.6H197.6zM213.1 541.1H225.1V544.6H213.1zM287.1 541.1H295.1V544.6H287.1zM279.3 544.3H283.5V547.7H279.3zM287.1 544.3H291.2V547.7H287.1zM224.8 547.4H232.9V550.8H224.8zM228.7 550.5H232.9V554H228.7z"/>
<path fill="#fcd6c9" d="M283.2 516.1H287.4V519.5H283.2zM267.6 519.2H271.8V522.6H267.6zM302.6 519.2H306.8V522.6H302.6zM255.9 525.5H260.1V528.9H255.9zM248.2 528.6H252.3V532H248.2zM189.8 531.7H194V535.2H189.8zM209.2 531.7H213.4V535.2H209.2zM220.9 531.7H225.1V535.2H220.9zM298.7 531.7H306.8V535.2H298.7zM182 534.9H194V538.3H182zM205.4 534.9H209.5V538.3H205.4zM217 534.9H221.2V538.3H217zM228.7 534.9H232.9V538.3H228.7zM294.8 534.9H302.9V538.3H294.8zM170.3 538H174.5V541.4H170.3zM178.1 538H182.3V541.4H178.1zM185.9 538H190.1V541.4H185.9zM209.2 538H225.1V541.4H209.2zM290.9 538H295.1V541.4H290.9zM283.2 541.1H287.4V544.6H283.2zM267.6 547.4H271.8V550.8H267.6zM259.8 550.5H264V554H259.8zM232.6 553.7H236.8V557.1H232.6zM240.4 553.7H256.2V557.1H240.4z"/>
<path fill="#fcd2bf" d="M287.1 516.1H291.2V519.5H287.1zM271.5 519.2H279.6V522.6H271.5zM290.9 519.2H299V522.6H290.9zM263.7 522.3H267.9V525.8H263.7zM294.8 522.3H299V525.8H294.8zM298.7 525.5H306.8V528.9H298.7zM294.8 528.6H299V532H294.8zM197.6 531.7H209.5V535.2H197.6zM217 531.7H221.2V535.2H217zM232.6 531.7H244.6V535.2H232.6zM201.5 534.9H205.7V538.3H201.5zM213.1 534.9H217.3V538.3H213.1zM182 538H186.2V541.4H182zM197.6 538H205.7V541.4H197.6zM224.8 538H229V541.4H224.8zM287.1 538H291.2V541.4H287.1zM224.8 541.1H232.9V544.6H224.8zM228.7 544.3H236.8V547.7H228.7zM275.4 544.3H279.6V547.7H275.4zM232.6 547.4H236.8V550.8H232.6zM271.5 547.4H275.7V550.8H271.5zM232.6 550.5H236.8V554H232.6z"/>
<path fill="#fcceb1" d="M279.3 519.2H283.5V522.6H279.3zM287.1 519.2H291.2V522.6H287.1zM287.1 522.3H291.2V525.8H287.1zM259.8 525.5H264V528.9H259.8zM298.7 528.6H302.9V532H298.7zM193.7 531.7H197.9V535.2H193.7zM213.1 531.7H217.3V535.2H213.1zM244.3 531.7H248.5V535.2H244.3zM193.7 534.9H201.8V538.3H193.7zM209.2 534.9H213.4V538.3H209.2zM228.7 538H232.9V541.4H228.7zM283.2 538H287.4V541.4H283.2zM279.3 541.1H283.5V544.6H279.3zM236.5 550.5H248.5V554H236.5zM255.9 550.5H260.1V554H255.9zM236.5 553.7H240.7V557.1H236.5z"/>
<path fill="#fcc9a2" d="M283.2 519.2H287.4V522.6H283.2zM267.6 522.3H271.8V525.8H267.6zM275.4 522.3H279.6V525.8H275.4zM283.2 522.3H287.4V525.8H283.2zM290.9 522.3H295.1V525.8H290.9zM298.7 522.3H302.9V525.8H298.7zM263.7 525.5H267.9V528.9H263.7zM252 528.6H256.2V532H252zM290.9 531.7H299V535.2H290.9zM232.6 534.9H244.6V538.3H232.6zM287.1 534.9H295.1V538.3H287.1zM279.3 538H283.5V541.4H279.3zM232.6 541.1H236.8V544.6H232.6zM271.5 544.3H275.7V547.7H271.5zM248.2 550.5H252.3V554H248.2z"/>
<path fill="#fcc494" d="M271.5 522.3H275.7V525.8H271.5zM279.3 522.3H283.5V525.8H279.3zM290.9 525.5H299V528.9H290.9zM255.9 528.6H260.1V532H255.9zM244.3 534.9H248.5V538.3H244.3zM232.6 538H240.7V541.4H232.6zM236.5 541.1H240.7V544.6H236.5zM275.4 541.1H279.6V544.6H275.4zM236.5 544.3H240.7V547.7H236.5zM236.5 547.4H240.7V550.8H236.5zM263.7 547.4H267.9V550.8H263.7zM252 550.5H256.2V554H252z"/>
<path fill="#fcbe84" d="M267.6 525.5H271.8V528.9H267.6zM287.1 525.5H291.2V528.9H287.1zM259.8 528.6H264V532H259.8zM287.1 528.6H295.1V532H287.1zM248.2 531.7H252.3V535.2H248.2zM283.2 534.9H287.4V538.3H283.2zM240.4 538H244.6V541.4H240.4zM240.4 541.1H244.6V544.6H240.4zM267.6 544.3H271.8V547.7H267.6zM240.4 547.4H244.6V550.8H240.4zM259.8 547.4H264V550.8H259.8z"/>
<path fill="#fcb875" d="M271.5 525.5H279.6V528.9H271.5zM283.2 525.5H287.4V528.9H283.2zM252 531.7H256.2V535.2H252zM248.2 534.9H252.3V538.3H248.2zM275.4 538H279.6V541.4H275.4zM240.4 544.3H244.6V547.7H240.4zM244.3 547.4H248.5V550.8H244.3z"/>
<path fill="#fcb265" d="M279.3 525.5H283.5V528.9H279.3zM267.6 528.6H271.8V532H267.6zM287.1 531.7H291.2V535.2H287.1zM279.3 534.9H283.5V538.3H279.3zM244.3 538H248.5V541.4H244.3zM271.5 541.1H275.7V544.6H271.5zM263.7 544.3H267.9V547.7H263.7z"/>
<path fill="#fba956" d="M263.7 528.6H267.9V532H263.7zM283.2 528.6H287.4V532H283.2zM252 534.9H256.2V538.3H252zM248.2 538H252.3V541.4H248.2zM255.9 547.4H260.1V550.8H255.9z"/>
<path fill="#f99e48" d="M271.5 528.6H283.5V532H271.5zM255.9 531.7H260.1V535.2H255.9zM283.2 531.7H287.4V535.2H283.2zM275.4 534.9H279.6V538.3H275.4zM244.3 541.1H248.5V544.6H244.3zM244.3 544.3H248.5V547.7H244.3zM248.2 547.4H256.2V550.8H248.2z"/>
<path fill="#ec6a1f" d="M259.8 531.7H264V535.2H259.8zM271.5 531.7H275.7V535.2H271.5zM255.9 534.9H260.1V538.3H255.9zM271.5 534.9H275.7V538.3H271.5zM248.2 541.1H252.3V544.6H248.2zM263.7 541.1H267.9V544.6H263.7zM248.2 544.3H252.3V547.7H248.2zM255.9 544.3H260.1V547.7H255.9z"/>
<path fill="#f5872e" d="M263.7 531.7H267.9V535.2H263.7zM252 538H256.2V541.4H252zM259.8 544.3H264V547.7H259.8z"/>
<path fill="#e85c18" d="M267.6 531.7H271.8V535.2H267.6zM267.6 534.9H271.8V538.3H267.6zM255.9 538H260.1V541.4H255.9zM252 541.1H256.2V544.6H252zM252 544.3H256.2V547.7H252z"/>
<path fill="#f07926" d="M275.4 531.7H279.6V535.2H275.4zM267.6 538H271.8V541.4H267.6z"/>
<path fill="#f7933a" d="M279.3 531.7H283.5V535.2H279.3zM271.5 538H275.7V541.4H271.5zM267.6 541.1H271.8V544.6H267.6z"/>
<path fill="#e14e15" d="M259.8 534.9H264V538.3H259.8z"/>
<path fill="#d2310f" d="M263.7 534.9H267.9V538.3H263.7zM259.8 541.1H264V544.6H259.8z"/>
<path fill="#d02c0e" d="M259.8 538H264V541.4H259.8z"/>
<path fill="#da3f12" d="M263.7 538H267.9V541.4H263.7zM255.9 541.1H260.1V544.6H255.9z"/>
<path fill="#517ef4" d="M372.7 556.8H376.8V560.2H372.7zM388.2 556.8H392.4V560.2H388.2zM392.1 563.1H404.1V566.5H392.1zM345.4 566.2H349.6V569.6H345.4zM384.3 575.6H388.5V579H384.3zM314.3 578.7H326.3V582.2H314.3zM224.8 581.9H229V585.3H224.8zM314.3 581.9H318.5V585.3H314.3zM326 581.9H330.2V585.3H326zM224.8 585H229V588.4H224.8zM314.3 585H318.5V588.4H314.3zM326 585H330.2V588.4H326zM224.8 588.1H229V591.6H224.8zM314.3 588.1H318.5V591.6H314.3zM326 588.1H330.2V591.6H326z"/>
<path fill="#4670f2" d="M376.5 556.8H380.7V560.2H376.5zM357.1 563.1H361.3V566.5H357.1zM337.6 569.3H341.8V572.8H337.6zM217 581.9H221.2V585.3H217zM217 585H221.2V588.4H217zM217 588.1H221.2V591.6H217z"/>
<path fill="#3458ef" d="M380.4 556.8H384.6V560.2H380.4zM388.2 563.1H392.4V566.5H388.2zM388.2 566.2H392.4V569.6H388.2zM333.7 572.5H337.9V575.9H333.7zM329.9 578.7H334V582.2H329.9zM201.5 581.9H209.5V585.3H201.5zM213.1 581.9H217.3V585.3H213.1zM220.9 581.9H225.1V585.3H220.9zM329.9 581.9H337.9V585.3H329.9zM372.7 581.9H376.8V585.3H372.7zM201.5 585H209.5V588.4H201.5zM213.1 585H217.3V588.4H213.1zM220.9 585H225.1V588.4H220.9zM329.9 585H337.9V588.4H329.9zM372.7 585H376.8V588.4H372.7zM201.5 588.1H209.5V591.6H201.5zM213.1 588.1H217.3V591.6H213.1zM220.9 588.1H225.1V591.6H220.9zM329.9 588.1H337.9V591.6H329.9zM372.7 588.1H376.8V591.6H372.7z"/>
<path fill="#3d64f0" d="M384.3 556.8H388.5V560.2H384.3zM368.8 559.9H373V563.4H368.8zM388.2 559.9H392.4V563.4H388.2zM361 563.1H365.2V566.5H361zM349.3 566.2H353.5V569.6H349.3zM388.2 569.3H392.4V572.8H388.2zM388.2 572.5H392.4V575.9H388.2zM380.4 575.6H384.6V579H380.4zM326 578.7H330.2V582.2H326zM193.7 581.9H201.8V585.3H193.7zM193.7 585H201.8V588.4H193.7zM193.7 588.1H201.8V591.6H193.7z"/>
<path fill="#2d4deb" d="M372.7 559.9H380.7V563.4H372.7zM364.9 563.1H369.1V566.5H364.9zM353.2 566.2H357.4V569.6H353.2zM341.5 569.3H349.6V572.8H341.5zM384.3 572.5H388.5V575.9H384.3zM329.9 575.6H334V579H329.9zM376.5 578.7H380.7V582.2H376.5zM209.2 581.9H213.4V585.3H209.2zM209.2 585H213.4V588.4H209.2zM209.2 588.1H213.4V591.6H209.2z"/>
<path fill="#283cdc" d="M380.4 559.9H384.6V563.4H380.4zM384.3 563.1H388.5V566.5H384.3zM357.1 566.2H361.3V569.6H357.1zM349.3 569.3H353.5V572.8H349.3zM380.4 572.5H384.6V575.9H380.4zM337.6 581.9H341.8V585.3H337.6zM368.8 581.9H373V585.3H368.8zM337.6 585H341.8V588.4H337.6zM368.8 585H373V588.4H368.8zM337.6 588.1H341.8V591.6H337.6zM368.8 588.1H373V591.6H368.8z"/>
<path fill="#2b45e4" d="M384.3 559.9H388.5V563.4H384.3zM384.3 566.2H388.5V569.6H384.3zM384.3 569.3H388.5V572.8H384.3zM337.6 572.5H341.8V575.9H337.6zM333.7 575.6H337.9V579H333.7z"/>
<path fill="#2634d4" d="M368.8 563.1H376.8V566.5H368.8zM380.4 569.3H384.6V572.8H380.4zM341.5 572.5H345.7V575.9H341.5zM376.5 575.6H380.7V579H376.5zM333.7 578.7H341.8V582.2H333.7zM372.7 578.7H376.8V582.2H372.7zM341.5 581.9H345.7V585.3H341.5zM341.5 585H345.7V588.4H341.5zM341.5 588.1H345.7V591.6H341.5z"/>
<path fill="#2128be" d="M376.5 563.1H380.7V566.5H376.5zM361 566.2H369.1V569.6H361z"/>
<path fill="#242ec9" d="M380.4 563.1H384.6V566.5H380.4zM353.2 569.3H357.4V572.8H353.2zM345.4 572.5H353.5V575.9H345.4zM337.6 575.6H341.8V579H337.6zM364.9 581.9H369.1V585.3H364.9zM364.9 585H369.1V588.4H364.9zM364.9 588.1H369.1V591.6H364.9z"/>
<path fill="#1e20b0" d="M368.8 566.2H376.8V569.6H368.8zM361 569.3H365.2V572.8H361zM364.9 569.3H369.1V572.8H364.9zM368.8 569.3H373V572.8H368.8zM372.7 569.3H376.8V572.8H372.7zM376.5 569.3H380.7V572.8H376.5zM353.2 572.5H357.4V575.9H353.2zM357.1 572.5H361.3V575.9H357.1zM361 572.5H365.2V575.9H361zM364.9 572.5H369.1V575.9H364.9zM368.8 572.5H373V575.9H368.8zM372.7 572.5H376.8V575.9H372.7zM345.4 575.6H349.6V579H345.4zM349.3 575.6H361.3V579H349.3zM361 575.6H369.1V579H361zM368.8 575.6H373V579H368.8zM372.7 575.6H376.8V579H372.7zM341.5 578.7H345.7V582.2H341.5zM345.4 578.7H349.6V582.2H345.4zM349.3 578.7H353.5V582.2H349.3zM353.2 578.7H357.4V582.2H353.2zM357.1 578.7H361.3V582.2H357.1zM361 578.7H369.1V582.2H361zM368.8 578.7H373V582.2H368.8zM345.4 581.9H349.6V585.3H345.4zM349.3 581.9H357.4V585.3H349.3zM357.1 581.9H361.3V585.3H357.1zM361 581.9H365.2V585.3H361zM345.4 585H349.6V588.4H345.4zM349.3 585H357.4V588.4H349.3zM357.1 585H361.3V588.4H357.1zM361 585H365.2V588.4H361zM345.4 588.1H349.6V591.6H345.4zM349.3 588.1H357.4V591.6H349.3zM357.1 588.1H361.3V591.6H357.1zM361 588.1H365.2V591.6H361z"/>
<path fill="#1f22b4" d="M376.5 566.2H384.6V569.6H376.5zM357.1 569.3H361.3V572.8H357.1zM376.5 572.5H380.7V575.9H376.5zM341.5 575.6H345.7V579H341.5z"/>
</g>
<path fill="url(#st2)" d="M273.4 461.8L283.2 469L292.9 476.9L302.6 484.7L308.5 490L312.3 497.2L302.6 505.1L283.2 509.2L267.6 512L255.9 517.6L244.3 520.8L232.6 515.4L219 514.2L211.2 519.8L217 528L226.8 533.3L220.9 542.7L222.9 551.2L232.6 558.7L248.2 563.1L263.7 564.3L277.3 563.1L290.9 558L306.5 553.7L322.1 549L335.7 545.5L348.1 545.8L358.6 545.2L359.8 539.6L361 533.3L368.8 530.8L376.5 528L384.3 526.1L396 524.5L396 435.8L376.5 436.4L361 437.7L349.3 439.9L337.6 445.5L324.8 451.2L337.6 452.1L355.5 454.6L355.5 471.2L341.5 472.2L326 469L310.4 464.7L294.8 460.9L283.2 458.7zM178.1 536.7L189.8 534.2L201.5 536.7L197.6 541.8L182 541.1zM150.9 537.4L160.6 536.1L158.7 541.4L148.9 541.8zM185.9 523.9L199.5 519.2L207.3 524.2L195.6 528zM220.9 553.7L213.1 549.9L216.2 546.1L222.5 548.6z"/>
</g>
<path clip-path="url(#c2)" fill="none" stroke="#000" stroke-width="1.2" stroke-linejoin="round" stroke-linecap="round" d="M396 585L394.1 583.4L394.8 580.3L393.3 577.2L390.2 574.7L387.4 572.2L384.3 569.6L380.8 567.8L378.9 564.3L375.4 562.1L373 560.2L370.3 558.4L368 556.8L365.7 553.7L364.1 550.5L361.4 549L357.9 548L357.9 550.5L358.6 552.7L361.4 555.2L364.1 557.1L365.7 559.3L367.6 562.1L369.2 564L371.5 566.5L372.7 569.3L374.2 571.2L375.4 571.8L377.7 573.1L378.9 574.7L376.9 575.9L375.4 574L371.9 571.8L368.8 570.3L368 567.4L367.2 565.6L363.7 564L360.6 562.7L357.5 560.6L360.2 559.9L360.6 558L357.9 555.9L354.4 553.7L353.2 551.5L350.9 549L349.7 547.1L348.9 545.8L348.1 543.9L345.4 542.1L343.5 541.1L340.8 540.7L338.8 539.9L335.7 539.6L334.9 537.4L332.6 535.8L330.2 533L329.5 531.7L327.9 529.5L326.4 528.3L323.2 525.8L322.9 523.6L320.5 521.1L321.7 519.2L321.3 516.1L320.1 513.5L321.7 510.7L322.1 506.6L322.1 502.9L321.7 501L319.4 496.6L319.7 496L325.2 496.8L327.1 496.9L328.3 499.4L328.7 497.2L326.7 494.1L325.2 493.2L322.5 492.5L319 491L316.2 489.7L311.2 488.2L308.5 486.9L307.3 484.7L305.3 482.8L301.8 480.6L298.3 478.4L297.2 476.6L298.3 474.4L294.8 473.7L291.3 472.8L289.8 470.3L285.9 468.4L283.9 466.5L280.4 465L278.5 463.4L277.7 461.8L276.9 463.7L273.1 465.1L269.6 464L265.7 462.1L261 460.9L258.3 460.4L254.4 459.6L248.9 459.5L244.3 459.6L240.8 458.4L236.5 457.3L231.8 456.8L227.9 457.4L227.1 459.6L222.9 460.4L219 461.5L214.3 462.1L213.5 460.6L215.5 458.4L216.6 457.1L219.7 456.2L221.3 455.6L218.2 455.7L213.9 457L211.2 459L208.5 460.9L205 462.1L206.5 463.7L203.8 465.6L199.9 466.8L196 468.7L191.3 470.3L187.8 471.9L183.2 473.1L178.1 474.4L174.2 475.2L169.6 475.9L164.1 476.7L162.9 476.1L167.2 475.2L171.9 474.1L176.2 472.8L180.1 471.9L184 470L188.6 467.8L191.3 465.9L192.9 463.7L189.8 463.6L186.7 463.9L182.8 463.2L178.5 463.6L174.6 463.7L175 462.1L173.8 460.3L169.6 460L165.3 458.7L162.2 456.8L160.6 454.9L158.3 454L160.2 451.8L163.3 450.2L168.4 449.8L173.4 448.7L177.3 448.4L178.9 446.2L176.6 445.2L171.5 445.7L167.2 445.4L162.6 445.7L157.5 445.1L153.6 443L150.5 442.1L154.8 441.1L159.4 440.1L165.3 439.1L167.6 440.5L174.2 440.5L175.8 439.3L172.3 437.9L167.6 437.4L165.7 435.5L160.6 434.3L155.9 433.5L158.3 431.9L164.5 431.6L169.2 430.2L170.7 428.6L173.4 427.7L176.2 427M209.2 425.5L215.1 426.9L222.9 426.7L230.6 427.7L238.4 428.1L246.2 428L255.9 429.4L262.9 429.7L269.6 431.4L275.4 431.7L279.3 430.2L286.3 429.9L292.9 428.6L299.5 427.8L305.7 426.7L310.4 428L316.2 429.6L320.5 430.2L325.2 429.1L331.8 428.9L339.6 430.3L348.5 431.6L355.1 431.7L361 433.6L357.1 435L366.8 435.4L376.5 434.7L382.4 433.8L388.2 433.6L396 432.7M347.4 426.4L353.2 429.6L362.9 430.8L372.7 432.7L382.4 431.6L390.2 430.8L396 431.1M316.2 422L322.1 425.2L327.9 424.5M324.4 496L320.1 495.4L317.4 494.4L314.3 493.2L311.2 491.6L307.3 490.4L305.3 488.6L308.5 488.5L314.3 489.7L317.4 491L320.5 492.9L323.2 494.4L324.4 496M294.5 484.7L290.9 482.2L288.6 480.3L287.1 478.1L290.2 478.4L292.1 479.7L291.7 481.6L294.5 484.7M290.9 475.9L286.3 474.1L284.7 471.5L287.4 471.9L289.4 473.7L290.9 475.9M280.4 471.5L277.7 469L274.2 466.2L276.9 465.9L279.7 468.1L280.8 470.3L280.4 471.5M283.2 468.7L280.8 466.5L279.7 465L282 465.6L283.6 467.5L283.2 468.7M285.9 471.2L282.4 469.4L283.9 469L287.1 470L285.9 471.2M279.3 467.5L275.4 466.8L273.4 465.6L276.2 465L279.3 465.9L279.3 467.5M283.6 472.2L282 470.3L283.2 469.4L284.3 470.9L283.6 472.2M294.8 474.7L292.5 473.4L293.7 472.5L295.2 473.4L294.8 474.7M290.2 472.2L288.2 471.2L289.4 470.6L290.6 471.5L290.2 472.2M277.7 461.8L279.3 464L281.2 465.3M275.4 464.7L273.8 463.1L271.9 462.8M283.2 465L284.7 464M289.8 470.3L291.7 469.4M297.2 476.3L298.7 474.1L299.1 472.5M308.5 486.9L311.2 485.7M305.3 482.8L309.2 481.9M301.8 480.6L304.6 479.1M304.6 482.8L301.8 481.6L303 480.6L305 481.9L304.6 482.8M299.5 481L297.2 479.7L298.7 479.4L300.3 480.3L299.5 481M300.7 480L298 478.4L299.1 478.4L301.1 479.4L300.7 480M232.2 459.3L229.1 460.3L231 458.7L232.2 459.3M261 460.9L261.8 459.6L260.2 460M254.4 459.6L254.8 459M204.2 469.7L208.5 468.7L212 467.5L211.6 466.1L209.2 466.2L205.7 466.8L203 467.8L204.2 469.7M211.2 465.6L212.7 464.8L209.6 464.3L208.5 465.3L211.2 465.6M159.8 459.6L157.5 460.3L153.6 459.5L155.6 458.5L158.7 458.5L159.8 459.6M143.1 449.6L147 449.8L148.2 449.3L145 448.8L143.1 448.7M143.1 440.4L144.3 440.7L143.1 441.1M162.9 476.7L166.4 476.6L169.2 476.1L168 475.5L163.7 475.8L162.9 476.7M158.3 478.6L155.2 480.2L151.7 480.6L154.8 479.2L158.3 478.6M151.3 480L147.4 481.9L146.6 481.4L150.1 480L151.3 480M161 478.1L158.7 478.4L159.4 477.7L161 478.1M144.7 482.4L143.1 482.7M184.7 578.6L183.6 579L183 578.4L184 578L184.7 578.6M191.2 580.9L189.4 580.9L188.7 580.1L190 579.7L191.2 580.9M194.8 581.4L192.5 581.6L193.7 581.2L194.8 581.4M197.6 582.8L195.8 583.1L194.9 582.2L196.6 582L197.6 582.8M200.7 585L198.2 584.2L198 585M356.3 559.8L355.7 559L356.5 558.8L356.3 559.8M344.3 557.1L344.4 556.3M368 557.4L366.6 556.8L367.4 556.2L368 557.4M364.3 556.8L362.7 555.2M339.6 541.1L338 541M344.1 543.2L343.3 542.8M255.9 429.4L255.9 458.7L263.3 458.7L269.6 463.1L273.8 461.2L279.3 460.9L285.5 464.7L291.7 470.3L298.7 472.2L298.3 474.7L296.4 476.3M325.6 494.1L396 494.1M322.1 502.7L325.2 503L326.7 504.6L333 504.6L340.4 503.7L349.6 503.5M349.2 494.1L349.2 502.3L349.6 503.5M349.6 503.5L351.3 505.1L349.7 507L348.5 508.8L349.2 510.4L349.2 516.1M321.3 516.1L372.5 516.1M337.6 516.1L337.6 525.5L358.5 538M358.5 538L358.6 540.2L360.4 540.3L358.8 542.4L359 544.3L358.2 545.1M360.8 516.1L360.8 534.2L358.3 534.5L358.5 538M360.8 531.7L396 531.7M380.2 519.2L380.2 549.5M372.5 519.2L396 519.2M372.5 519.2L372.5 508.2M372.5 508.2L371.1 507.6L365.7 508.5L362.9 507L359.4 505.1L359.4 503.5L359.8 501.5L355.9 499.4L353 497.2L353 494.1M372.5 506.6L396 506.6M348.8 545.7L358.2 545.1L357.9 545.8L372.4 549.5L383.5 549.5L383.5 548.1L390.2 548.1L392.5 549.6L396 551.5M380.2 547.4L380.2 549.5"/>
<path fill="none" stroke="#000" stroke-width="0.8" d="M143.1 585v-2.2M162.6 585v-2.2M182 585v-2.2M201.5 585v-2.2M220.9 585v-2.2M240.4 585v-2.2M259.8 585v-2.2M279.3 585v-2.2M298.7 585v-2.2M318.2 585v-2.2M337.6 585v-2.2M357.1 585v-2.2M376.5 585v-2.2M396 585v-2.2M143.1 585h2.2M143.1 569.3h2.2M143.1 553.7h2.2M143.1 538h2.2M143.1 522.3h2.2M143.1 506.6h2.2M143.1 491h2.2M143.1 475.3h2.2M143.1 459.6h2.2M143.1 444h2.2M143.1 428.3h2.2"/>
<rect x="143.1" y="428.3" width="252.9" height="156.7" fill="none" stroke="#000" stroke-width="1.1"/>
<text x="141.6" y="588.2" font-size="8.4" text-anchor="end">20°N</text>
<text x="141.6" y="556.9" font-size="8.4" text-anchor="end">30°N</text>
<text x="141.6" y="525.5" font-size="8.4" text-anchor="end">40°N</text>
<text x="141.6" y="494.2" font-size="8.4" text-anchor="end">50°N</text>
<text x="141.6" y="462.8" font-size="8.4" text-anchor="end">60°N</text>
<text x="141.6" y="431.5" font-size="8.4" text-anchor="end">70°N</text>
<text x="143.6" y="596.8" font-size="8.4" text-anchor="middle">170°W</text>
<text x="182.5" y="596.8" font-size="8.4" text-anchor="middle">160°W</text>
<text x="221.4" y="596.8" font-size="8.4" text-anchor="middle">150°W</text>
<text x="260.3" y="596.8" font-size="8.4" text-anchor="middle">140°W</text>
<text x="299.2" y="596.8" font-size="8.4" text-anchor="middle">130°W</text>
<text x="338.1" y="596.8" font-size="8.4" text-anchor="middle">120°W</text>
<text x="377" y="596.8" font-size="8.4" text-anchor="middle">110°W</text>
<rect x="403.4" y="428.3" width="8.3" height="156.7" fill="url(#cb)" stroke="#000" stroke-width="0.9"/>
<path fill="none" stroke="#000" stroke-width="0.8" d="M403.4 467.5h1.6M411.7 467.5h-1.6M403.4 506.6h1.6M411.7 506.6h-1.6M403.4 545.8h1.6M411.7 545.8h-1.6"/>
<text x="412.6" y="431.7" font-size="10.1">1</text>
<text x="412.6" y="470.9" font-size="10.1">0.5</text>
<text x="412.6" y="510" font-size="10.1">0</text>
<text x="412.6" y="549.2" font-size="10.1">−0.5</text>
<text x="412.6" y="588.4" font-size="10.1">−1</text>
<text x="98.1" y="398.4" font-size="13.7" textLength="342" lengthAdjust="spacingAndGlyphs">ECMWF Experimental Forecast Initialized: Dec 20, 2021</text>
<text x="162.2" y="415.6" font-size="11.3" textLength="214.8" lengthAdjust="spacingAndGlyphs">Number of AR Days Forecast Anomaly</text>
<text x="143.4" y="425.6" font-size="8.2" font-weight="bold" textLength="108.3" lengthAdjust="spacingAndGlyphs">Jan 04 to Jan 10, Forecast</text>
<text x="304.4" y="425.6" font-size="8.2" font-weight="bold" textLength="91.6" lengthAdjust="spacingAndGlyphs">15−day to 21−day lead</text>

<g transform="translate(0,322)">
<g transform="translate(121.7,329.95) scale(21.3)">
<clipPath id="bh2"><path d="M-1,0.035A1,1 0 0 0 1,0.035Z"/></clipPath>
<path d="M-1,-0.03A1,1 0 0 1 1,-0.03Z" fill="#f7941e"/>
<path d="M-1,0.035A1,1 0 0 0 1,0.035Z" fill="#2a8bb9"/>
<g clip-path="url(#bh2)" fill="#1c6f97"><rect x="-1" y="0.15" width="2" height="0.1"/><rect x="-1" y="0.35" width="2" height="0.1"/><rect x="-1" y="0.55" width="2" height="0.1"/><rect x="-1" y="0.75" width="2" height="0.1"/><rect x="-1" y="0.95" width="2" height="0.1"/></g>
<circle r="0.655" fill="#fff"/>
<path d="M0.0,-0.49C-0.02,-0.36 -0.31,-0.12 -0.31,0.15A0.31,0.31 0 0 0 0.31,0.15C0.31,-0.02 0.17,-0.13 0.1,-0.24C0.08,-0.17 0.05,-0.13 0.02,-0.12C0.08,-0.25 0.06,-0.38 0.0,-0.49Z" fill="#2b8cc9"/>
<path d="M0.14,-0.16L-0.17,0.12L-0.02,0.14L-0.12,0.42L0.2,0.08L0.04,0.06Z" fill="#fff"/>
</g>
<text x="148.8" y="327.6" font-size="7.6" font-weight="bold" fill="#1d6d95" textLength="98" lengthAdjust="spacingAndGlyphs">Center for Western Weather</text>
<text x="148.8" y="335.6" font-size="7.6" font-weight="bold" fill="#1d6d95" textLength="70.5" lengthAdjust="spacingAndGlyphs">and Water Extremes</text>
<text x="347.3" y="315.6" font-family="Liberation Serif, serif" font-size="12.6" fill="#1e2946" textLength="80.4" lengthAdjust="spacingAndGlyphs">AMBASSADOR</text>
<text x="428.2" y="310.6" font-family="Liberation Serif, serif" font-size="5.5" fill="#1e2946">™</text>
<clipPath id="wt2"><path d="M340,310H440V336.5C425,336.5 415,328.5 400,328.5C388,328.5 384,334.5 376,334.5C366,334.5 360,330.5 347,330.5H340Z"/></clipPath>
<clipPath id="wl2"><text x="348.4" y="342.2" font-size="35.4" font-weight="bold" textLength="81.2" lengthAdjust="spacingAndGlyphs">WRN</text><rect x="371" y="317" width="9" height="20"/></clipPath>
<g font-size="33.4" font-weight="bold" stroke-linejoin="miter">
<text x="349.0" y="341.6" textLength="79.8" lengthAdjust="spacingAndGlyphs" fill="#222f6c" stroke="#222f6c" stroke-width="2.9">WRN</text>
<text x="349.0" y="341.6" textLength="79.8" lengthAdjust="spacingAndGlyphs" fill="#1f87cb" stroke="#1f87cb" stroke-width="2.9" clip-path="url(#wt2)">WRN</text>
</g>
<g clip-path="url(#wl2)"><path stroke="#86b3e4" stroke-width="1" d="M363,317Q373,327 380,336.8Q384,336.8 388,334.2Q404,329 416.8,317L410,317Q400,326 387,328.3Q380,322 371.5,317Z" fill="#86b3e4"/></g>
<text x="354.8" y="348.5" font-size="5.7" fill="#6a6a6a" textLength="74" lengthAdjust="spacingAndGlyphs">WEATHER-READY NATION</text>
</g>
</svg>
</div>

<div class="bul" style="top:102.6px;"><span class="dot"></span><span class="tx">NCEP model is predicting significantly above-normal<br>AR activity over the southwestern US and the Baja<br>Peninsula during Week 3 (4–10 Jan)</span></div>
<div class="bul" style="top:242.5px;"><span class="dot"></span><span class="tx">ECMWF model is predicting below-normal AR activity<br><span style="word-spacing:0.5px">over much of the western US and above-normal AR</span><br><span style="word-spacing:0.3px">activity over Baja California Sur during Week 3</span></span></div>

<div id="box"><div id="boxtx"><span style="word-spacing:0.2px">Both models are showing a north–south dipole pattern</span><br><span style="word-spacing:0.45px">in the Northeast Pacific Ocean, with decreased AR</span><br>activity around 30–40°N, and increased AR activity<br>south of 25°N. However, there is significant<br>disagreement on how far north the AR activity will<br>extend over western North America.</div></div>

<svg id="biglogo" width="290" height="100" viewBox="990 620 290 100" style="position:absolute;left:990px;top:620px" font-family="Liberation Sans, sans-serif">
<g transform="translate(1046.8,671.5) scale(38.2)">
<clipPath id="bhB"><path d="M-1,0.035A1,1 0 0 0 1,0.035Z"/></clipPath>
<path d="M-1,-0.03A1,1 0 0 1 1,-0.03Z" fill="#f7941e"/>
<path d="M-1,0.035A1,1 0 0 0 1,0.035Z" fill="#2a8bb9"/>
<g clip-path="url(#bhB)" fill="#1c6f97"><rect x="-1" y="0.15" width="2" height="0.1"/><rect x="-1" y="0.35" width="2" height="0.1"/><rect x="-1" y="0.55" width="2" height="0.1"/><rect x="-1" y="0.75" width="2" height="0.1"/><rect x="-1" y="0.95" width="2" height="0.1"/></g>
<circle r="0.655" fill="#fff"/>
<path d="M0.0,-0.49C-0.02,-0.36 -0.31,-0.12 -0.31,0.15A0.31,0.31 0 0 0 0.31,0.15C0.31,-0.02 0.17,-0.13 0.1,-0.24C0.08,-0.17 0.05,-0.13 0.02,-0.12C0.08,-0.25 0.06,-0.38 0.0,-0.49Z" fill="#2b8cc9"/>
<path d="M0.14,-0.16L-0.17,0.12L-0.02,0.14L-0.12,0.42L0.2,0.08L0.04,0.06Z" fill="#fff"/>
</g>
<text x="1095.3" y="657.6" font-size="14.3" font-weight="bold" fill="#1d6d95" textLength="176" lengthAdjust="spacingAndGlyphs">Center for Western Weather</text>
<text x="1095.3" y="671.5" font-size="14.3" font-weight="bold" fill="#1d6d95" textLength="128" lengthAdjust="spacingAndGlyphs">and Water Extremes</text>
<text x="1095.7" y="685.6" font-size="6.9" font-weight="bold" fill="#3a93c2" textLength="166" lengthAdjust="spacingAndGlyphs">SCRIPPS INSTITUTION OF OCEANOGRAPHY</text>
<text x="1095.7" y="694.8" font-size="6.9" font-weight="bold" fill="#3a93c2" textLength="68" lengthAdjust="spacingAndGlyphs">AT UC SAN DIEGO</text>
</svg>

</body></html>
